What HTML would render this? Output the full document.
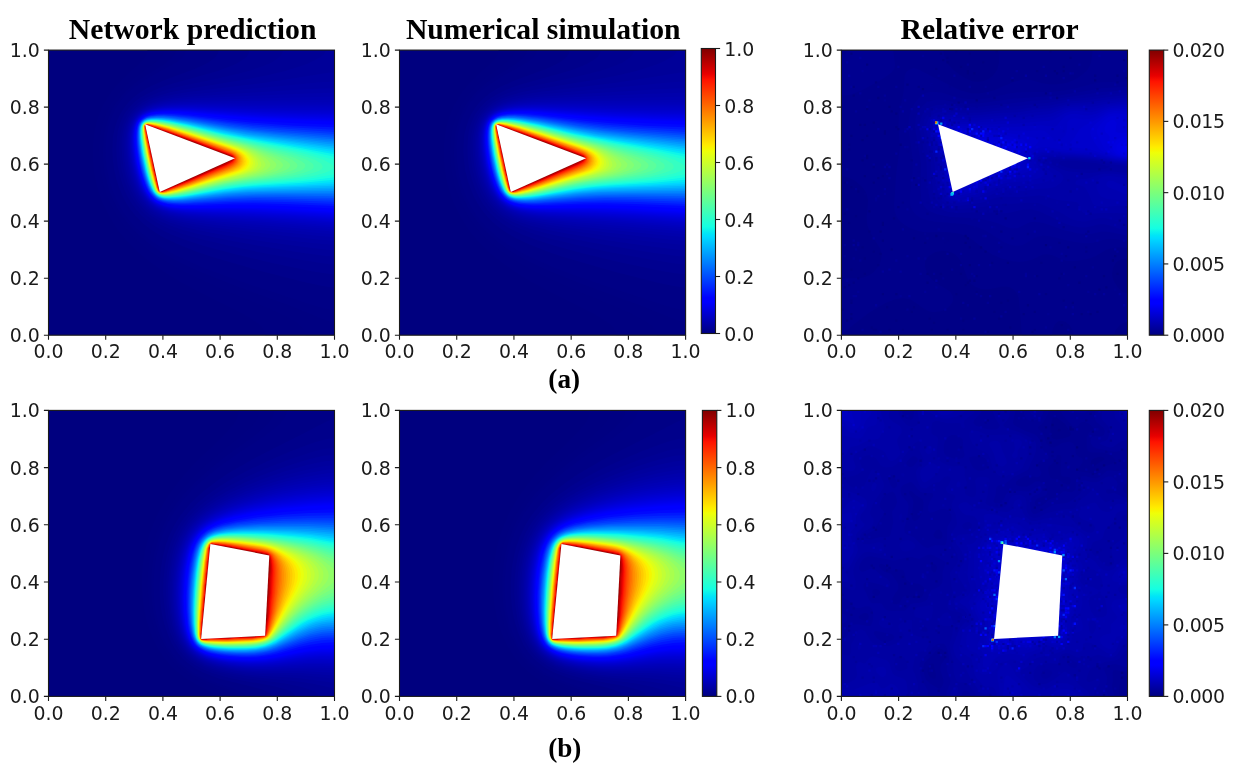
<!DOCTYPE html>
<html lang="en"><head><meta charset="utf-8"><title>Network prediction vs numerical simulation</title>
<style>html,body{margin:0;padding:0;background:#fff}body{width:1242px;height:773px;overflow:hidden}svg{display:block}.t{font-family:"DejaVu Sans","Liberation Sans",sans-serif;font-size:18.9px;fill:#1a1a1a}.c5{letter-spacing:-0.42px}.xt{text-anchor:middle}.yt{text-anchor:end}.ct{text-anchor:start}.ti{font-family:"Liberation Serif","Times New Roman",serif;font-weight:bold;font-size:29.7px;text-anchor:middle;fill:#000}.lb{font-family:"Liberation Serif","Times New Roman",serif;font-weight:bold;font-size:27.2px;text-anchor:middle;fill:#000}.tk{stroke:#1a1a1a;stroke-width:1.1;fill:none}.sp{stroke:#1a1a1a;stroke-width:1.1;fill:none}</style></head><body>
<svg width="1242" height="773" viewBox="0 0 1242 773">
<defs><linearGradient id="jet" x1="0" y1="1" x2="0" y2="0"><stop offset="0%" stop-color="#000080"/><stop offset="3.12%" stop-color="#0000a4"/><stop offset="6.25%" stop-color="#0000c8"/><stop offset="9.38%" stop-color="#0000ec"/><stop offset="11%" stop-color="#0000ff"/><stop offset="12.5%" stop-color="#0000ff"/><stop offset="15.62%" stop-color="#0020ff"/><stop offset="18.75%" stop-color="#0040ff"/><stop offset="21.88%" stop-color="#0060ff"/><stop offset="25%" stop-color="#0080ff"/><stop offset="28.12%" stop-color="#009fff"/><stop offset="31.25%" stop-color="#00bfff"/><stop offset="34%" stop-color="#00dbff"/><stop offset="34.38%" stop-color="#00dffc"/><stop offset="35%" stop-color="#00e5f7"/><stop offset="37.5%" stop-color="#15ffe2"/><stop offset="40.62%" stop-color="#2effc9"/><stop offset="43.75%" stop-color="#48ffaf"/><stop offset="46.88%" stop-color="#62ff95"/><stop offset="50%" stop-color="#7bff7b"/><stop offset="53.12%" stop-color="#95ff62"/><stop offset="56.25%" stop-color="#afff48"/><stop offset="59.38%" stop-color="#c9ff2e"/><stop offset="62.5%" stop-color="#e2ff15"/><stop offset="64%" stop-color="#efff08"/><stop offset="65%" stop-color="#f7f600"/><stop offset="65.62%" stop-color="#fcf000"/><stop offset="66%" stop-color="#ffec00"/><stop offset="68.75%" stop-color="#ffd200"/><stop offset="71.88%" stop-color="#ffb500"/><stop offset="75%" stop-color="#ff9700"/><stop offset="78.12%" stop-color="#ff7a00"/><stop offset="81.25%" stop-color="#ff5c00"/><stop offset="84.38%" stop-color="#ff3f00"/><stop offset="87.5%" stop-color="#ff2100"/><stop offset="89%" stop-color="#ff1300"/><stop offset="90.62%" stop-color="#ec0400"/><stop offset="91%" stop-color="#e80000"/><stop offset="93.75%" stop-color="#c80000"/><stop offset="96.88%" stop-color="#a40000"/><stop offset="100%" stop-color="#800000"/></linearGradient></defs>
<rect width="1242" height="773" fill="#fff"/>
<g class="ax" id="ax1">
<rect x="48.5" y="50.1" width="286" height="285.1" fill="#00007f"/>
<svg x="48.5" y="50.1" width="286" height="285.1" viewBox="0 0 1000 1000" preserveAspectRatio="none"><g id="fa"><path fill="#000081" d="M758 1000h242v-1000h-654v6l-3 9-5 8-6 8-16 17-39 35-21 20-21 23-17 22-14 21-14 25-11 25-9 25-8 33-5 33-3 38 1 37 3 38 8 42 9 33 13 37 12 25 13 25 15 25 17 25 20 25 20 23 25 24 25 21 30 23 29 20 33 22 33 20 71 38 136 68 43 25 23 16 13 13 8 12 3 9z"/><path fill="#000082" d="M899 1000h101v-1000h-597l-1 10-5 9-6 8-8 8-21 17-43 31-25 20-25 22-22 23-19 25-13 21-12 25-11 29-9 33-5 38-2 37 2 42 6 37 8 38 12 37 17 38 13 25 16 25 15 21 22 25 19 20 25 22 25 20 29 20 30 18 33 20 37 19 42 20 75 34 167 69 37 17 25 12 29 17 22 17 7 8 6 8 3 9z"/><path fill="#000084" d="M984 952l16 2v-954h-555l-2 10-5 9-6 8-9 8-23 17-56 35-25 16-29 23-21 19-18 20-18 25-12 20-12 30-10 33-4 17-3 25-2 41 2 42 3 25 4 21 10 37 7 21 9 21 16 33 16 25 18 25 22 25 22 21 25 21 29 22 33 21 38 21 33 17 38 17 79 33 75 29 177 65 114 46z"/><path fill="#000086" d="M981 910l19 2v-912h-521l-1 10-5 9-7 8-15 13-27 16-55 30-29 17-30 20-25 20-20 21-18 21-13 21-12 25-7 17-6 21-6 33-3 21-1 21 1 41 5 38 4 21 7 25 13 37 17 38 15 25 18 25 22 25 22 21 29 24 29 20 34 20 33 18 42 19 50 22 54 21 54 19 87 30 180 59 41 13z"/><path fill="#00008b" d="M978 831l22 2v-833h-405l-2 10-8 13-9 8-19 13-16 8-28 13-107 40-46 20-20 11-21 13-21 16-17 16-17 21-13 21-10 21-8 25-7 29-2 25-1 29 2 33 4 34 8 33 9 29 12 29 13 25 16 25 17 21 19 20 17 15 16 12 21 14 25 15 25 13 29 13 67 26 46 16 54 16 121 35 158 40 46 10z"/><path fill="#000090" d="M983 785l17 1v-786h-297l-2 10-8 13-15 12-22 13-29 12-36 13-156 44-29 9-29 11-29 14-25 14-13 9-12 11-17 17-15 21-9 17-8 20-7 25-3 25-2 30 1 29 3 33 6 29 8 29 10 30 14 29 13 21 15 20 16 18 21 19 16 12 21 14 21 11 25 12 54 21 63 20 108 29 125 30 138 29 41 7z"/><path fill="#000094" d="M955 748l26 3 19 1v-752h-181v6l-4 9-11 12-12 8-14 9-28 12-50 17-47 12-55 13-133 28-42 10-29 9-34 13-16 8-17 10-21 15-12 11-9 10-10 15-11 21-7 21-6 25-3 25-1 29 2 29 4 29 5 25 8 29 10 25 11 25 13 21 15 20 16 19 17 14 29 20 21 12 21 10 21 8 29 11 58 17 88 21 116 25 134 25z"/><path fill="#000099" d="M975 723l25 1v-724h-31l-1 6-6 9-10 8-20 12-27 13-23 8-55 17-71 17-64 12-223 37-42 8-37 11-34 12-16 8-13 7-12 9-10 8-8 8-11 13-10 17-9 20-5 17-5 25-2 25 1 25 2 29 4 29 6 25 7 25 12 30 10 20 13 21 13 17 17 17 16 14 17 11 17 10 37 16 42 15 58 15 96 20 121 22 146 24z"/><path fill="#00009e" d="M949 698l32 3 19 1v-624l-19 1-21 3-126 20-86 13-254 31-34 5-37 7-21 5-25 7-21 8-16 8-17 10-13 9-9 10-11 12-10 17-8 21-6 20-3 21-1 25 1 29 3 30 4 25 6 25 8 25 8 20 13 25 10 17 14 17 15 15 16 14 17 10 13 7 33 15 42 13 58 14 75 14 125 21 117 17z"/><path fill="#0000a2" d="M964 681l36 3v-574l-52 3-232 22-176 16-59 6-41 6-25 5-30 7-16 5-21 8-17 8-16 12-12 11-10 12-10 17-8 21-4 21-3 20-1 25 1 25 3 25 5 30 7 29 9 25 8 21 11 20 11 17 14 17 16 15 17 12 12 7 17 9 33 13 46 12 46 10 75 12 137 20 134 17z"/><path fill="#0000a7" d="M948 665l52 4v-536l-102 4-346 22-62 5-55 6-25 5-25 5-25 8-16 7-17 9-12 9-11 10-9 12-8 13-8 21-4 21-3 25v25l2 29 4 29 5 25 5 21 9 25 11 25 9 16 11 17 12 14 12 11 17 13 25 14 33 13 33 9 55 11 66 10 121 15 142 17z"/><path fill="#0000ac" d="M947 652l53 4v-507l-144 5-304 13-62 4-50 4-25 4-25 5-25 7-21 8-17 9-12 9-10 10-9 13-9 16-4 13-5 21-2 25v25l2 29 4 29 5 25 6 21 8 25 11 25 9 16 12 17 11 13 12 11 17 12 25 13 33 11 38 9 41 8 59 8 79 9z"/><path fill="#0000b0" d="M970 644l30 2v-483l-456 11-54 2-50 4-25 3-25 5-21 5-21 7-17 9-12 8-13 12-10 15-8 16-4 17-4 21-1 21v25l3 29 4 29 6 25 8 29 8 21 8 17 9 16 12 17 11 12 12 11 13 9 25 12 25 9 33 8 46 8 104 13z"/><path fill="#0000b5" d="M1000 637v-463l-465 6-58 2-37 3-25 2-25 4-21 5-21 7-17 8-12 9-11 11-9 13-6 12-6 17-4 21-1 25v25l2 25 4 25 7 33 6 21 9 25 7 17 11 20 13 17 11 12 13 10 12 9 25 11 29 10 38 7 37 6 75 8z"/><path fill="#0000b9" d="M1000 629v-446l-473 2-54 1-38 2-29 4-25 4-16 4-21 8-17 9-8 6-9 8-9 13-6 12-7 21-2 17-2 25 1 25 2 25 4 29 6 25 6 25 9 25 8 17 9 16 11 17 12 12 13 11 12 9 25 11 25 8 29 6 46 7 54 5 224 18z"/><path fill="#0000be" d="M1000 622v-431h-265l-216 -2-50 1-38 2-29 3-21 4-21 5-12 4-17 8-12 9-10 10-9 13-5 12-5 17-3 21-1 25 1 25 3 29 5 29 5 21 9 29 7 21 8 17 10 16 10 14 12 13 13 10 12 7 21 9 25 8 38 7 33 5 54 5 201 14z"/><path fill="#0000c3" d="M1000 616v-418l-252 -1-238 -4h-45l-38 2-21 2-25 4-16 4-21 7-13 6-12 9-12 13-7 12-5 13-4 16-2 21-1 25 1 21 3 29 4 25 8 33 8 25 8 21 9 17 7 12 10 13 10 11 13 10 12 8 17 7 25 8 33 7 38 5 54 4 223 15z"/><path fill="#0000c7" d="M1000 610v-405l-257 -3-237 -6h-41l-34 1-29 3-21 3-21 5-12 4-13 5-12 9-10 9-9 13-7 17-4 16-2 17-1 21 1 25 2 25 4 25 7 33 5 17 8 25 7 16 9 17 11 17 12 12 13 11 12 8 21 9 25 7 29 5 34 4 54 5 177 10z"/><path fill="#0000cc" d="M1000 605v-395h-94l-166 -3-238 -8h-42l-33 1-21 1-25 4-16 3-17 5-17 8-8 6-9 8-9 13-6 12-3 13-4 21-1 21 1 25 3 29 4 29 5 21 12 41 8 21 8 17 11 17 9 10 13 12 12 9 17 8 25 8 25 5 37 5 50 4 200 10z"/><path fill="#0000d1" d="M1000 601v-386h-94l-166 -4-246 -10h-38l-29 1-29 2-21 3-21 5-12 4-13 7-11 8-8 9-8 12-5 13-4 16-2 21v21l1 29 3 21 4 25 7 33 12 38 10 21 9 16 9 13 8 9 13 10 12 8 21 9 25 7 29 5 29 3 55 3 187 9 124 8z"/><path fill="#0000d5" d="M1000 596v-376l-109 -1-156 -4-241 -11-38 -1-33 1-21 1-25 4-17 3-16 6-13 6-9 7-9 9-8 12-5 13-4 16-1 17-1 25 1 25 4 29 5 29 5 21 7 25 6 17 7 16 9 17 8 13 11 12 12 10 12 8 21 8 17 5 25 5 37 4 50 3 200 8 119 7z"/><path fill="#0000da" d="M1000 592v-368l-102 -1-133 -4-109 -4-158 -9-38 -1h-33l-25 2-21 2-16 3-17 5-17 8-8 6-8 9-8 12-7 17-3 16-2 21v21l2 21 3 29 4 25 8 33 13 38 7 17 10 16 9 13 9 9 13 10 12 7 21 8 21 5 25 4 33 4 42 2 125 3 79 4 113 6z"/><path fill="#0000df" d="M1000 588v-360l-93 -1-140 -4-94 -4-175 -11-42 -1h-33l-25 2-21 2-21 5-12 4-13 6-8 6-8 9-8 11-6 17-2 12-3 21v21l1 21 4 29 4 25 7 33 13 38 9 21 7 12 8 13 11 12 9 7 12 8 17 7 21 6 25 5 33 3 50 3 129 3 79 3 99 5z"/><path fill="#0000e3" d="M1000 585v-353l-85 -1-146 -5-100 -5-175 -11-38 -2-33 1-21 1-25 2-21 5-12 4-9 4-12 9-8 8-7 10-5 13-4 16-2 21v21l2 25 2 21 4 25 8 33 7 25 6 17 7 16 9 17 9 13 9 10 9 8 12 7 21 9 17 5 25 4 33 3 42 2 129 3 83 2 88 5z"/><path fill="#0000e8" d="M1000 581v-345l-102 -2-142 -5-105 -6-153 -11-42 -2h-33l-25 1-21 3-17 3-16 5-13 6-9 7-7 9-8 12-4 13-3 16-2 21 1 25 1 21 4 29 5 25 7 29 13 38 9 21 8 12 9 13 10 9 8 6 12 7 21 8 17 4 25 4 25 2 46 2 129 2 83 3 134 7z"/><path fill="#0000ec" d="M1000 578v-339l-123 -3-129 -5-83 -5-171 -13-42 -2h-33l-25 2-21 2-13 3-16 5-13 6-8 7-8 8-7 12-4 13-4 21-1 20v21l2 21 4 29 7 34 5 20 13 38 7 17 10 16 9 12 9 9 8 6 12 7 17 7 17 4 25 4 29 3 42 1 129 1 87 3 121 6z"/><path fill="#0000f1" d="M1000 575v-332l-117 -3-127 -6-108 -6-150 -13-42 -2h-37l-21 1-25 2-17 4-12 4-13 6-8 7-7 7-7 12-5 13-3 16-1 21v21l5 46 4 25 8 33 12 38 9 21 7 12 9 13 11 11 8 6 12 7 17 7 21 5 25 3 29 3 46 1h133l71 2 101 5z"/><path fill="#0000f6" d="M1000 572v-326l-115 -4-141 -6-79 -5-171 -15-42 -2h-33l-42 3-21 4-12 4-9 4-12 9-6 6-8 12-4 13-2 12-2 21v21l4 46 4 25 8 33 13 42 7 16 9 17 9 13 10 10 12 9 8 4 17 7 21 5 25 3 25 2 42 1h125l75 1 91 4z"/><path fill="#0000fa" d="M1000 569v-320l-115 -4-129 -6-108 -7-158 -14-38 -3h-33l-21 1-21 2-17 2-16 6-13 6-8 6-8 10-5 8-5 17-2 12-2 21 1 21 2 25 4 29 5 25 7 29 12 38 6 12 9 17 9 13 9 8 8 7 12 7 21 8 17 4 21 3 29 2 50 1 133 -1 75 1 117 5z"/><path fill="#0000ff" d="M1000 567v-316l-115 -3-145 -7-80 -6-162 -15-42 -3-37 -1-38 2-16 2-17 5-13 5-8 6-8 8-8 12-5 13-3 16-1 21 1 25 2 21 4 29 4 25 8 29 12 38 8 17 10 16 6 9 8 8 8 6 12 7 13 6 21 5 25 3 29 2 46 1 129 -1 71 1 96 3z"/><path fill="#0000ff" d="M1000 564v-310l-119 -4-133 -6-104 -8-154 -16-42 -2-29 -1-21 1-21 1-12 2-17 4-8 4-13 7-8 9-8 11-4 13-3 16-1 21v21l2 21 4 29 4 25 7 29 5 17 9 25 8 17 7 12 7 11 9 9 8 6 12 8 17 6 17 4 25 3 25 2 41 1 125 -2 75 1 96 3z"/><path fill="#0000ff" d="M1000 561v-304l-131 -5-134 -7-79 -6-171 -18-33 -2-33 -1-42 2-12 2-17 4-8 3-13 8-8 8-7 11-4 13-3 16-2 21 1 21 5 46 4 25 8 33 12 38 9 21 7 12 10 13 10 9 8 6 13 7 16 5 17 4 25 3 21 1h50l129 -2 71 1 103 3z"/><path fill="#0008ff" d="M1000 556v-294l-149 -6-120 -7-87 -8-154 -17-38 -3-33 -1h-21l-21 2-17 2-16 5-9 4-9 7-8 8-5 8-4 13-3 16-1 17v21l3 29 3 25 11 50 11 38 9 20 7 13 8 12 8 9 8 7 12 7 13 5 17 4 25 4 25 1 45 1 121 -4h71l96 2z"/><path fill="#0018ff" d="M467 544l48 -1 129 -5 75 -1 104 3 177 7v-276l-140 -6-129 -9-85 -8-152 -19-54 -5-34 -1-29 1-21 4-16 5-9 5-8 7-6 7-4 8-5 21-1 25 2 38 8 50 12 50 12 33 10 21 9 12 9 10 12 8 13 6 21 5 20 3z"/><path fill="#0028ff" d="M460 540h30l145 -7 84 -2 108 2 173 7v-261l-173 -9-112 -9-81 -9-140 -19-63 -6-29 -1-25 1-21 3-16 5-13 8-5 5-5 8-4 9-2 8-2 25 1 33 6 46 8 42 10 33 7 21 10 21 11 16 11 11 12 7 13 5 21 5z"/><path fill="#0038ff" d="M421 535l27 2h33l154 -9 84 -2 108 1 173 5v-245l-157 -10-124 -10-91 -11-134 -20-63 -6-29 -2-25 1-25 3-12 5-13 8-9 11-2 4-3 13-2 17v29l3 33 7 42 8 37 8 25 10 25 8 17 10 12 8 8 12 8 17 6z"/><path fill="#0048ff" d="M407 531l28 4h42l158 -12 88 -3 104 1 173 4v-231l-180 -13-105 -9-63 -8-150 -23-67 -9-29 -2h-25l-21 2-16 5-13 6-9 9-6 13-3 16-1 25 1 25 5 34 7 41 9 34 8 25 8 20 7 13 10 12 10 9 13 7z"/><path fill="#0058ff" d="M420 531l24 2 33 -1 154 -13 79 -3 100 -1 190 4v-219l-181 -13-104 -10-88 -12-142 -24-58 -7-25 -2h-25l-17 2-16 4-13 7-4 3-6 8-5 13-3 21 1 25 3 37 7 42 9 37 9 29 8 21 9 17 6 8 12 12 13 7 12 3z"/><path fill="#0068ff" d="M404 527l11 2 16 1h38l46 -4 116 -11 84 -4 100 -1 185 3v-206l-181 -15-109 -11-62 -9-154 -27-63 -8-29 -3h-25l-21 2-12 3-13 7-6 6-5 8-3 9-1 8-1 21 1 29 4 33 6 34 8 33 7 25 9 25 8 17 8 12 11 10 13 7z"/><path fill="#0078ff" d="M413 527l27 2 33 -2 154 -15 79 -5 96 -1h198v-193l-31 -2-159 -15-104 -12-76 -11-149 -27-54 -8-25 -2h-25l-21 1-12 3-13 7-8 9-5 13-2 16v30l4 33 5 33 8 38 8 29 8 25 8 17 8 12 8 9 12 9 13 4z"/><path fill="#0087ff" d="M398 523l12 2 13 1h42l41 -4 121 -14 42 -3 41 -2 88 -2 202 -1v-181l-27 -2-183 -19-92 -11-65 -10-139 -27-63 -9-29 -3-25 -1-17 1-16 3-9 4-4 3-7 8-4 9-3 16v21l1 21 4 29 6 38 6 29 8 29 9 25 7 17 8 12 11 11 8 5z"/><path fill="#0097ff" d="M404 523l11 1 16 1 34 -1 37 -4 121 -15 79 -6 83 -2 215 -3v-169l-23 -2-192 -21-91 -12-79 -13-134 -27-54 -8-29 -3-21 -1-17 1-16 4-9 3-4 4-6 6-5 13-2 16v21l3 29 4 34 8 37 6 25 7 25 8 21 8 17 7 10 8 8 13 7z"/><path fill="#00a7ff" d="M414 523l26 1 33 -3 146 -19 75 -6 79 -3 227 -5v-157l-23 -2-193 -23-93 -12-71 -13-135 -28-62 -10-25 -3h-21l-21 1-12 3-9 4-4 3-5 5-5 13-2 16 1 30 4 37 6 33 8 38 8 29 7 21 8 17 8 12 8 9 8 5 13 4z"/><path fill="#00b7ff" d="M396 519l10 2 17 1 37 -1 38 -5 125 -17 75 -7 67 -3 235 -7v-145l-19 -1-196 -26-91 -12-68 -13-149 -31-50 -9-29 -3-21 -1-21 1-12 2-9 4-8 8-4 9-3 12v17l1 25 3 29 5 29 13 58 8 25 10 25 7 13 10 11 8 6z"/><path fill="#00c7ff" d="M401 519l9 1 17 1 38 -2 41 -6 109 -16 75 -8 65 -4 245 -9v-132l-19 -2-212 -30-84 -12-73 -15-127 -27-62 -12-29 -3-21 -1-17 1-12 2-9 4-8 9-4 11-2 12v25l2 25 5 34 6 29 7 33 6 21 7 21 9 21 8 12 6 6 13 8z"/><path fill="#00d7ff" d="M408 519h23l38 -3 145 -22 67 -8 59 -4 145 -6 115 -6v-120l-15 -1-225 -34-78 -13-64 -12-137 -31-54 -11-25 -3-25 -2h-17l-16 3-11 6-7 8-4 13-1 17 2 25 4 33 6 37 8 38 14 46 7 16 7 13 8 9 8 6 9 3z"/><path fill="#01e7f5" d="M392 515l10 2 13 1 33 -1 42 -5 125 -21 54 -7 54 -4 162 -9 115 -8v-106l-15 -1-92 -16-141 -23-75 -13-71 -14-121 -29-58 -11-25 -4-21 -2h-21l-12 2-8 3-9 5-6 11-2 8-1 17 1 20 7 50 12 63 8 29 9 25 8 17 6 8 8 7z"/><path fill="#0ef7e9" d="M395 515l11 2h17l37 -3 42 -6 108 -19 67 -9 50 -4 163 -11 110 -10v-90l-15 -2-99 -19-138 -24-76 -14-59 -12-128 -31-50 -10-33 -6-21 -2h-21l-12 2-8 2-9 6-5 10-2 8-1 17 1 20 8 59 14 62 8 29 8 21 6 13 9 11 8 6z"/><path fill="#1bffdc" d="M410 516h13l37 -3 38 -6 112 -21 59 -8 50 -5 166 -13 42 -4 73 -10v-72l-10 -2-90 -20-165 -30-77 -16-56 -12-112 -28-55 -12-29 -5-25 -3h-21l-12 1-8 3-9 6-5 9-2 8v17l1 20 4 34 5 29 13 58 8 29 8 21 6 13 8 10 8 6 9 3z"/><path fill="#28ffcf" d="M406 515h25l38 -5 129 -24 54 -9 50 -6 128 -11 55 -5 49 -7 60 -12h6v-51l-6 -1-37 -11-48 -13-58 -12-206 -42-143 -35-54 -13-38 -7-25 -3-20 -1-17 1-8 3-5 2-6 7-3 9-2 12 1 25 4 29 5 34 8 37 8 34 7 25 7 16 6 13 7 9 8 6 9 4z"/><path fill="#35ffc2" d="M390 510l8 3 12 1h17l21 -2 42 -7 104 -21 54 -9 50 -6 133 -14 67 -9 36 -6 31 -9 19 -8 11 -8 2 -5-2 -4-9 -8-7 -4-17 -9-35 -12-46 -13-246 -54-141 -35-54 -13-30 -6-25 -3-20 -2-17 2-8 2-7 5-6 9-1 8-1 12 1 21 6 46 6 33 8 38 8 29 7 21 5 12 8 13 7 8z"/><path fill="#42ffb5" d="M392 510l10 3h13l16 -1 21 -2 38 -7 104 -22 46 -8 50 -7 127 -14 56 -8 40 -9 25 -8 9 -4 6 -4 4 -4 2 -5-1 -4-2 -4-3 -4-6 -4-15 -9-33 -12-44 -13-231 -54-134 -35-50 -12-30 -5-25 -4-20 -2-17 1-8 3-7 4-5 9-2 8v12l1 21 7 50 12 63 8 29 8 25 5 12 7 13 7 7 4 3z"/><path fill="#4effa8" d="M395 510l11 2h13l33 -4 42 -7 91 -20 50 -10 42 -6 129 -17 52 -8 34 -9 21 -8 7 -4 5 -4 2 -5v-4l-1 -4-3 -4-5 -4-14 -9-31 -12-43 -13-113 -29-102 -25-117 -31-50 -12-38 -8-25 -4-20 -2-17 1-8 3-6 3-6 9-1 8-1 17 2 20 9 59 13 62 9 29 7 21 6 13 7 8 6 5z"/><path fill="#5bff9c" d="M398 510l21 1 33 -4 38 -7 100 -23 41 -8 38 -6 108 -15 54 -10 28 -7 23 -8 7 -4 5 -4 3 -5 1 -4v-4l-3 -4-10 -8-26 -13-37 -12-102 -30-113 -29-117 -32-50 -12-34 -7-25 -4-21 -1-12 1-8 2-5 3-6 9-2 8v17l2 20 9 63 13 58 8 29 8 21 6 13 7 8 10 6z"/><path fill="#68ff8f" d="M406 510h21l33 -6 163 -36 37 -7 96 -14 57 -12 29 -8 18 -8 6 -4 3 -5 2 -4-1 -4-2 -4-9 -8-7 -5-17 -8-35 -12-92 -30-109 -29-109 -30-55 -14-33 -7-21 -3-21 -2-12 1-8 3-5 2-3 4-4 9v12l1 25 3 25 6 38 8 37 13 50 7 21 5 13 6 8 8 7 9 4z"/><path fill="#75ff82" d="M388 506l10 3 12 1 17 -1 21 -4 46 -9 125 -30 106 -18 43 -8 33 -9 24 -8 14 -8 4 -5 2 -4v-4l-2 -4-9 -8-23 -13-64 -25-53 -18-200 -55-63 -16-33 -7-21 -4-21 -1-12 2-8 3-4 4-2 5-2 8v12l2 21 8 54 13 63 13 46 6 16 5 9 6 8z"/><path fill="#82ff75" d="M390 506l12 3h13l37 -6 38 -8 125 -30 130 -25 31 -9 23 -8 14 -8 4 -5 3 -4v-4l-2 -4-7 -8-21 -13-56 -25-46 -17-198 -56-63 -16-25 -6-25 -4-21 -1-12 1-4 2-7 5-3 5-1 8v12l1 21 9 54 14 67 13 46 5 12 4 9 6 7z"/><path fill="#8fff68" d="M392 506l10 2h13l37 -6 42 -9 116 -30 116 -23 29 -9 21 -8 14 -8 4 -5 2 -4 1 -4-1 -4-7 -8-11 -9-14 -8-40 -21-21 -8-24 -9-181 -52-71 -19-29 -6-25 -4-17 -2-12 2-4 1-7 5-3 9-1 8 1 17 2 21 9 54 14 62 13 46 6 13 5 8 6 5z"/><path fill="#9cff5b" d="M394 506l8 1h13l16 -2 25 -5 38 -9 112 -29 85 -18 33 -9 24 -8 16 -8 9 -9 2 -4 1 -4-1 -4-2 -4-7 -9-10 -8-19 -12-15 -9-17 -8-32 -12-179 -53-63 -17-33 -7-21 -4-21 -2-12 1-4 2-6 4-4 9v8l2 33 10 59 13 62 8 29 7 21 4 9 6 8 5 5z"/><path fill="#a8ff4e" d="M397 506l9 1 13 -1 37 -7 42 -10 104 -28 79 -18 28 -8 23 -8 15 -8 9 -9 2 -4 1 -4-1 -4-4 -8-7 -9-9 -8-11 -8-22 -13-32 -13-171 -52-75 -21-33 -7-21 -4-17 -1-12 1-9 4-3 6-2 8v12l3 25 5 34 11 58 14 54 10 29 4 9 4 5 9 5z"/><path fill="#b5ff42" d="M386 502l8 3 12 1 17 -2 25 -4 46 -12 108 -30 93 -23 23 -8 9 -4 11 -8 6 -9v-4l-1 -8-7 -13-8 -8-10 -8-20 -13-19 -8-14 -6-167 -51-71 -19-33 -8-21 -4-17 -2-12 1-4 2-5 3-3 5-1 8v12l2 21 6 38 15 75 12 46 9 25 6 8z"/><path fill="#c2ff35" d="M387 502l7 3h12l17 -1 25 -5 46 -12 108 -31 81 -21 23 -8 8 -4 9 -6 6 -7 2 -4 2 -4-1 -8-3 -9-6 -8-13 -12-19 -13-29 -12-168 -52-71 -20-29 -7-21 -4-17 -2-12 1-4 1-5 3-3 5-1 8 1 12 2 21 6 42 15 71 12 46 9 25 6 8z"/><path fill="#cfff28" d="M388 502l10 3 12 -1 17 -2 25 -6 46 -12 96 -28 66 -17 25 -8 19 -8 11 -8 4 -5 4 -8v-4l-1 -8-4 -9-6 -8-14 -13-22 -12-24 -10-162 -50-71 -20-34 -8-20 -4-17 -1-8 2-4 3-3 5-1 4v12l3 29 10 59 12 58 13 46 5 12 4 9 3 4z"/><path fill="#dcff1b" d="M389 502l9 2h12l17 -3 25 -6 222 -64 20 -8 8 -5 8 -8 2 -4 3 -8v-4l-2 -9-8 -12-13 -13-22 -12-26 -10-159 -50-70 -21-30 -7-20 -3-17 -1-8 2-4 2-3 5-1 4v12l3 29 10 59 13 58 13 46 4 12 5 9 5 6z"/><path fill="#e9ff0e" d="M391 502l7 2 12 -1 17 -3 27 -6 215 -64 21 -10 7 -5 4 -5 3 -4 3 -8v-4l-1 -9-7 -12-13 -13-17 -10-25 -10-150 -48-75 -22-34 -9-20 -4-17 -1-8 2-7 7v4v12l3 29 10 59 13 58 14 50 7 17 5 5z"/><path fill="#f5f701" d="M392 502l10 1 13 -1 41 -10 192 -58 19 -7 17 -8 6 -4 7 -9 2 -4 2 -8-1 -9-2 -4-8 -12-13 -11-18 -10-21 -8-148 -48-71 -21-34 -9-20 -4-17 -1-8 1-6 7-1 4 1 16 3 25 5 34 12 58 9 38 12 41 6 13 4 5z"/><path fill="#ffe800" d="M402 503l13 -2 41 -10 204 -65 17 -8 8 -6 5 -6 3 -4 2 -8v-4l-2 -9-5 -8-3 -4-9 -9-16 -9-25 -10-150 -49-70 -22-30 -7-20 -4-17 -2-8 2-6 6-1 4 2 21 2 20 10 55 12 58 11 42 7 20 4 9 4 4 5 3z"/><path fill="#ffda00" d="M386 498l4 3 4 1h8l17 -3 23 -5 52 -16 158 -52 13 -5 8 -5 7 -6 4 -4 3 -4 2 -8 1 -4-2 -9-4 -8-3 -4-9 -9-16 -9-25 -10-137 -45-79 -25-34 -8-21 -4-12 -1-8 1-5 6-1 4v12l3 25 11 59 12 58 11 42 7 20 4 9z"/><path fill="#ffcb00" d="M390 500l4 1h12l38 -9 54 -17 150 -50 12 -5 9 -5 9 -9 3 -4 3 -8 1 -4-2 -9-4 -8-3 -4-9 -9-15 -9-21 -8-141 -47-75 -24-34 -9-21 -4-12 -1-8 2-5 5-1 4 1 12 3 25 10 59 13 58 9 37 8 25 4 9z"/><path fill="#ffbc00" d="M390 500l4 1 12 -1 38 -9 50 -16 152 -52 19 -10 8 -7 3 -4 2 -4 2 -8-1 -9-1 -4-6 -8-4 -4-11 -9-13 -6-21 -8-138 -46-70 -23-30 -8-25 -5-12 -2-8 2-5 5-1 4 2 16 2 21 11 59 12 58 10 37 8 25 4 9z"/><path fill="#ffad00" d="M388 498l6 2h12l42 -11 48 -16 148 -52 16 -9 8 -6 3 -4 3 -4 2 -8-1 -9-1 -4-5 -8-4 -4-9 -7-12 -7-25 -9-134 -45-70 -23-34 -9-25 -5-8 -1-8 1-4 5-1 4 1 16 3 21 11 59 12 58 10 37 7 25 4 9z"/><path fill="#ff9e00" d="M388 498l6 2h4l8 -1 42 -11 50 -17 142 -51 16 -9 11 -9 2 -4 3 -8v-9l-1 -4-6 -9-13 -10-12 -6-25 -10-125 -42-75 -25-34 -9-24 -6-9 -1-8 2-4 4-1 4 1 16 3 21 11 59 13 58 15 58 6 13z"/><path fill="#ff9000" d="M389 498l9 2 8 -1 46 -14 48 -16 136 -50 16 -9 10 -8 3 -4 4 -8v-5l-1 -8-5 -8-10 -9-13 -7-21 -8-134 -46-70 -23-34 -10-25 -5-8 -2-8 2-4 4-1 4 2 16 3 21 11 59 13 58 15 58 5 13z"/><path fill="#ff8100" d="M389 498l9 1 9 -1 45 -14 46 -16 137 -52 17 -9 10 -9 2 -4 2 -9-1 -8-5 -8-10 -9-10 -5-25 -10-130 -44-70 -24-34 -10-25 -6-8 -1-8 1-4 4v4l1 16 15 80 12 58 15 58 6 13z"/><path fill="#ff7200" d="M391 498l7 1 8 -2 46 -14 46 -16 136 -52 15 -9 9 -8 4 -8 1 -9-1 -4-5 -8-9 -8-13 -6-25 -9-125 -44-70 -24-34 -10-25 -6-8 -2-8 1-4 4v4l5 37 11 59 13 58 15 58 5 13z"/><path fill="#ff6300" d="M398 498l8 -1 48 -16 140 -53 41 -17 15 -9 8 -8 2 -4 1 -9-3 -8-8 -8-15 -8-120 -44-67 -23-67 -21-33 -8-8 1-3 3-1 4 6 37 23 117 15 58 6 13 4 3z"/><path fill="#ff5500" d="M396 498l10 -2 9 -2 41 -15 134 -51 41 -17 15 -9 9 -8 3 -9v-8l-6 -8-8 -7-9 -4-29 -11-121 -43-70 -24-34 -11-25 -6-8 -2-8 1-3 3-1 4 6 37 12 59 21 95 6 21 5 13 4 3z"/><path fill="#ff4600" d="M386 494l4 3 8 1 17 -5 75 -27 133 -54 17 -8 8 -6 6 -8 2 -9v-4l-2 -4-4 -4-6 -5-13 -6-25 -10-121 -43-70 -24-34 -11-25 -7-8 -2-8 1-3 3v4l6 37 5 25 6 34 22 95 5 21z"/><path fill="#ff3700" d="M386 494l4 3h8l17 -5 75 -28 129 -52 16 -8 13 -9 4 -5 2 -5 1 -4-1 -4-2 -4-4 -4-4 -4-9 -4-29 -11-125 -45-100 -34-33 -9h-8l-3 3v4l5 25 1 12 6 25 6 34 21 95 5 21z"/><path fill="#ff2800" d="M387 494l3 2 8 1 17 -5 75 -29 133 -55 17 -9 8 -7 4 -7 1 -4-1 -4-4 -7-8 -5-38 -15-121 -44-100 -35-33 -9h-8l-2 3-1 4 18 96 7 25 6 33 7 25 7 33z"/><path fill="#ff1a00" d="M387 494l3 2 8 1 9 -3 83 -32 129 -55 16 -8 9 -5 6 -9 1 -4v-4l-3 -5-8 -6-38 -15-121 -44-100 -35-33 -10-8 1-2 2v4l5 25 1 12 6 25 6 34 6 25 7 33 6 25 7 33z"/><path fill="#f50b00" d="M387 494l3 2h8l8 -3 84 -33 133 -56 12 -7 9 -6 5 -6 1 -4v-4l-3 -4-3 -3-9 -5-120 -45-134 -47-21 -6-12 -5-8 1-2 2v4l2 8 1 8 3 9 1 12 6 25 6 34 6 25 6 33 7 25 2 12 3 9 2 12 2 6z"/><path fill="#e30000" d="M388 494l2 1 8 1 8 -3 84 -34 129 -56 16 -8 9 -6 3 -4 2 -4v-4l-5 -6-9 -4-120 -46-100 -36-21 -6-13 -6-21 -5-12 -5h-8l-2 2v4l2 4 1 12 3 9 1 12 2 4 2 13 3 8 1 13 3 8 1 13 7 25 1 12 3 8 2 13 7 25 1 12 3 9 2 12 2 5z"/><path fill="#d10000" d="M388 494l2 1 8 1 8 -4 29 -12 9 -3 46 -19 133 -58 12 -7 9 -5 4 -7v-4l-4 -5-9 -4-87 -32-33 -14-55 -19-12 -5-21 -7-12 -5-21 -6-13 -6-21 -6-12 -5h-8l-2 2v4l2 4 2 12 3 9 1 12 3 9 1 8 2 8 2 13 3 8 1 13 2 4 2 12 3 9 1 12 3 8 1 13 3 8 1 9 3 8 2 12 3 9 1 12 3 4z"/><path fill="#bf0000" d="M388 494l2 1h8l4 -2 4 -1 29 -13 9 -3 29 -13 17 -6 29 -14 16 -6 84 -37 16 -9 9 -5 3 -5v-4l-3 -4-9 -4-54 -20-12 -5-21 -7-33 -14-21 -6-13 -6-21 -7-12 -5-21 -7-12 -5-21 -7-13 -5-21 -6-4 -2-4 -1-4 -3-8 1-1 1v4l2 4 1 12 2 5 1 4 1 12 2 4 2 13 3 8 1 13 3 8 1 13 3 8 1 8 3 9 2 12 3 8 1 13 3 8 1 9 3 8 1 12 4 9 1 12 3 4z"/><path fill="#ad0000" d="M389 494l1 1h8l4 -3 4 -1 4 -2 5 -2 20 -10 9 -2 29 -13 8 -3 38 -17 8 -3 38 -18 8 -2 37 -18 9 -3 25 -13 2 -4v-4l-2 -3-9 -4-20 -7-13 -6-21 -6-12 -6-21 -7-33 -14-21 -6-13 -6-21 -6-12 -6-21 -7-12 -6-21 -6-13 -6-8 -1-4 -3-9 -1-4 -3h-4l-4 -3h-8l-1 5 3 4 1 12 2 5 2 16 2 4 2 13 2 4 1 4 1 13 2 4 1 4 1 13 2 4 2 12 2 4 1 5 1 12 3 4 1 4v13l3 4 1 13 3 4 2 16 3 5 1 16 3 4z"/><path fill="#9b0000" d="M389 494h9l4 -3h4l4 -4h5l4 -3 4 -1 4 -3 4 -1 4 -3 9 -1 4 -3 4 -1 4 -3 4 -1 13 -7 8 -2 38 -18 8 -2 38 -19 8 -2 37 -18 9 -2 25 -14 1 -2v-4l-1 -2-4 -1-5 -3-4 -1-8 -3-8 -2-13 -7h-4l-8 -4-9 -2-12 -6-4 -1-9 -3-8 -2-13 -7-8 -1-12 -7-9 -1-4 -3-8 -2-13 -6-8 -2-4 -2-9 -2-12 -7-8 -1-5 -3-8 -1-4 -3-4 -1-4 -3-9 -1-4 -3-8 -1-4 -3-5 -1-4 -3-8 -1-4 -3-9 -1-4 -3-4 -1-4 -3h-8l-1 5 3 4 1 12 3 5 1 16 3 4 1 13 3 4 1 17 3 4 1 17 3 4 1 12 3 4 2 17 3 4v4l1 13 3 4 1 13 3 4 1 16 3 5 2 16 3 4z"/><path fill="#890000" d="M389 494h9l4 -4h4l4 -4h5l4 -4h4l4 -4h4l4 -4h9l4 -4h4l4 -4h4l5 -4h4l4 -4 8 -1 4 -3 5 -1 4 -3 4 -1 4 -3 4 -1 4 -3 5 -1 4 -3 8 -1 4 -4h4l5 -4 4 -1 4 -3 4 -1 4 -3 4 -1 5 -3 8 -1 4 -3 4 -1 4 -3 5 -1 4 -3 4 -1 4 -3 4 -1 4 -3 9 -2 4 -3 4 -1 4 -3 4 -1 5 -4 4 -1 1 -1v-4l-1 -1h-4l-5 -4-8 -1-4 -3-8 -1-5 -4h-4l-4 -4-8 -1-4 -3-9 -1-4 -3-4 -1-4 -3-9 -1-4 -3-8 -1-4 -4h-4l-5 -4h-8l-4 -4h-4l-4 -4-9 -1-4 -3-8 -1-4 -3-5 -1-4 -3-8 -1-4 -3-9 -1-4 -4h-4l-4 -4h-8l-5 -4-8 -1-4 -3-4 -1-4 -3-9 -1-4 -3-8 -1-3 -3-6 -1-4 -4h-8l-4 -4h-9l-3 -3-5 -1-4 -4h-8v5l3 4v12l4 5v16l4 4 1 13 3 4 1 17 3 4 1 17 3 4 1 12 4 4v17l4 4v17l4 4 1 13 3 4 1 16 3 5 1 16 4 4z"/><polygon points="337.7,260.2 652.0,379.0 389.0,498.0" fill="#fff"/></g></svg>
<path class="tk" d="M48.5 335.2v4.6M48.5 335.2h-4.6"/>
<text class="t xt" x="48.5" y="358.4">0.0</text>
<text class="t yt" x="39.9" y="342.1">0.0</text>
<path class="tk" d="M105.7 335.2v4.6M48.5 278.18h-4.6"/>
<text class="t xt" x="105.7" y="358.4">0.2</text>
<text class="t yt" x="39.9" y="285.08">0.2</text>
<path class="tk" d="M162.9 335.2v4.6M48.5 221.16h-4.6"/>
<text class="t xt" x="162.9" y="358.4">0.4</text>
<text class="t yt" x="39.9" y="228.06">0.4</text>
<path class="tk" d="M220.1 335.2v4.6M48.5 164.14h-4.6"/>
<text class="t xt" x="220.1" y="358.4">0.6</text>
<text class="t yt" x="39.9" y="171.04">0.6</text>
<path class="tk" d="M277.3 335.2v4.6M48.5 107.12h-4.6"/>
<text class="t xt" x="277.3" y="358.4">0.8</text>
<text class="t yt" x="39.9" y="114.02">0.8</text>
<path class="tk" d="M334.5 335.2v4.6M48.5 50.1h-4.6"/>
<text class="t xt" x="334.5" y="358.4">1.0</text>
<text class="t yt" x="39.9" y="57">1.0</text>
<rect class="sp" x="48.5" y="50.1" width="286" height="285.1"/>
</g>
<g class="ax" id="ax2">
<rect x="399.5" y="50.1" width="286.1" height="285.1" fill="#00007f"/>
<svg x="399.5" y="50.1" width="286.1" height="285.1" viewBox="0 0 1000 1000" preserveAspectRatio="none"><use href="#fa"/></svg>
<path class="tk" d="M399.5 335.2v4.6M399.5 335.2h-4.6"/>
<text class="t xt" x="399.5" y="358.4">0.0</text>
<text class="t yt" x="390.9" y="342.1">0.0</text>
<path class="tk" d="M456.72 335.2v4.6M399.5 278.18h-4.6"/>
<text class="t xt" x="456.72" y="358.4">0.2</text>
<text class="t yt" x="390.9" y="285.08">0.2</text>
<path class="tk" d="M513.94 335.2v4.6M399.5 221.16h-4.6"/>
<text class="t xt" x="513.94" y="358.4">0.4</text>
<text class="t yt" x="390.9" y="228.06">0.4</text>
<path class="tk" d="M571.16 335.2v4.6M399.5 164.14h-4.6"/>
<text class="t xt" x="571.16" y="358.4">0.6</text>
<text class="t yt" x="390.9" y="171.04">0.6</text>
<path class="tk" d="M628.38 335.2v4.6M399.5 107.12h-4.6"/>
<text class="t xt" x="628.38" y="358.4">0.8</text>
<text class="t yt" x="390.9" y="114.02">0.8</text>
<path class="tk" d="M685.6 335.2v4.6M399.5 50.1h-4.6"/>
<text class="t xt" x="685.6" y="358.4">1.0</text>
<text class="t yt" x="390.9" y="57">1.0</text>
<rect class="sp" x="399.5" y="50.1" width="286.1" height="285.1"/>
</g>
<g class="ax" id="ax3">
<rect x="841.4" y="50.1" width="286.1" height="285.1" fill="#00007f"/>
<svg x="841.4" y="50.1" width="286.1" height="285.1" viewBox="0 0 1000 1000" preserveAspectRatio="none"><rect width="1000" height="1000" fill="#000086"/><path fill="#00008b" d="M0 1000h4v-3l35 -31 58 -45 56 -33 38 -15 25 -3 25 5 18 11 32 23 12 6 13 4h12l19 -3 12 -4 14 -9 7 -6 8 -13 3 -12-3 -13-9 -12-8 -6-41 -25-15 -13-15 -19-8 -25 1 -18 7 -13 6 -6 22 -13 25 -5 19 2 12 4 13 7 12 11 13 22 17 47 6 12 8 11 13 9 18 8 19 3 19 -2 37 -8h19l13 3 12 8 10 12 7 19 11 128h105l3 -22 8 -16 12 -11 13 -1 12 4 14 12 11 18 3 16h142l3 -16 15 -18 12 -8 16 -3v-102l-16 -4-18 -17-14 -23-4 -12-2 -13 3 -18 10 -19 7 -6 12 -7 22 -4v-730h-446l-4 47-5 19-7 12-10 13-18 12-17 6-15 2-19 -2-25 -10-18 -11-21 -16-17 -17-10 -14-8 -19-4 -22h-356v442l22 4 25 12 24 20 13 19 5 12 4 19-5 63 3 25 10 25 34 56 4 12 1 13-3 19-9 18-15 19-16 12-13 5-18 4-66 1z"/><path fill="#000090" d="M598 741l24 2 25 -2 19 -6 37 -17 13 -2 18 3 50 20 19 2 25 -2 44 -9 19 -9 31 -18 19 -7 25 -4 34 1v-693h-122l-5 41-7 18-9 13-13 12-17 13-24 12-19 6-31 5h-25l-26 -4-43 -12-25 -1-31 8-70 30-24 6-25 4h-31l-38 -10-149 -75-13 -3-12 3-10 6-5 6-5 13-4 56-14 69-3 31v31l4 63-12 87-8 113 2 25 7 18 10 15 19 15 19 11 25 9 18 4 19 2 50 -2 31 2 25 3 19 6 13 5 18 12 44 36 25 16 31 13zM0 159h16l18 -3 38 -15 59 -32 29 -18 16 -13 9 -12 3 -13-7 -53h-162l-3 11-7 5-9 2z"/><path fill="#000094" d="M592 684l17 3 19 -2 13 -5 37 -23 25 -6 25 2 75 18 50 7 25 -1 38 -11 18 -3h19l47 7v-560l-97 3-25 5-60 16-46 9-38 3-118 2-32 4-68 16-38 4-44 -1-31 -6-50 -15-19 -3-18 -1-19 4-13 6-12 10-13 15-9 16-8 19-5 18-3 25 1 25 12 82 2 37v25l-9 75-1 25 2 19 9 19 9 11 13 9 12 6 19 6 25 4 106 9 38 9 32 14 68 42z"/><path fill="#000099" d="M1000 651v-523l-91 6-150 25-156 11-119 16-50 1-31 -3-44 -9-31 -1-19 5-12 6-13 10-12 16-9 17-4 13-2 31 21 125-1 100 2 25 3 12 6 13 9 10 12 8 25 11 44 9 75 4 44 5 44 12 43 17 13 3 19 -1 43 -21 19 -2 31 5 69 25 50 11 38 3 43 -9 13 -1 19 3z"/><path fill="#00009e" d="M975 628l25 5v-493l-91 7-175 26-68 5-175 20-57 2-75 -8-25 1-18 5-13 7-12 11-9 12-8 25-1 25 12 63 12 50 3 75 5 37 4 19 6 12 12 13 14 9 31 12 31 3 75 -2 94 3 19 -2 43 -10 32 -1 31 9 85 41 27 9 25 4h19l19 -3 25 -7 19 -1 18 3z"/><path fill="#0000a2" d="M987 609l13 3v-463l-78 7-61 10-52 5-87 14-50 4-50 7-56 4-82 9-56 2-69 -5h-18l-13 3-12 5-13 10-8 10-8 19-1 25 12 63 14 50 4 68 5 32 7 25 6 12 12 13 13 8 25 8 25 1 88 -8 44 -9h43l69 -6 25 1 13 2 18 7 57 25 33 21 23 8 19 2h12l44 -10 19 -2 31 6zM809 416l-29 -7-14 -6-6 -6 5 -6 7 -2 19 -1 31 1 70 8 45 12-15 7-44 4z"/><path fill="#0000a7" d="M847 572l19 3 43 -4 91 1v-141l-59 -6-25 1-50 5-69 -5-25 -7-31 -15-10 -7-2 -6 10 -7 8 -1 25 -2 31 1 88 8 56 11 53 6v-250l-72 8-62 9-63 5-75 15-56 5-50 9-63 3-75 8-37 1-100 -3-13 2-12 5-13 9-5 8-7 18v19l10 56 16 50 3 19 3 56 4 25 7 25 6 13 7 8 13 10 18 6 25 1 82 -12 43 -15 25 -6 69 2 63 -6 18 3 44 13 56 6 13 2 7 7 11 25z"/><path fill="#0000ac" d="M891 547l31 3 44 -4 34 1v-107l-53 -7-31 1-28 7-29 10-29 2-10 6-2 7 4 7 19 4 6 2 6 6 11 18 12 31 4 7zM377 534l14 4h12l75 -13 19 -5 38 -17 18 -6 19 -4 19 -1 43 3 50 -8 44 -2 19 -5 20 -14 9 -13v-6l-2 -6-12 -13-40 -22-12 -9-2 -6 3 -7 13 -6 42 -2 52 2 62 6 86 14 34 4v-237l-72 8-56 9-69 4-75 18-56 5-50 9-63 2-75 8-37 1-94 -3-19 3-11 5-12 13-5 19v12l10 56 17 50 3 19 2 50 11 50 10 19 7 6z"/><path fill="#0000b0" d="M385 528l18 1 75 -15 69 -28 25 -7 19 -2h25l25 -1 62 -10 19 -6 10 -7 6 -6 2 -6-1 -7-13 -12-26 -19-5 -6-2 -6 2 -7 5 -6 16 -6h50l56 3 62 6 75 13 41 4v-226l-66 7-56 11-75 2-25 6-50 16-56 5-44 8-75 2-81 8-50 1-69 -4-12 2-13 5-11 12-3 19 9 62 17 44 3 13 1 12v19l4 37 13 50 11 13zM1000 529v-79l-66 -9-18 3-8 3-9 6-7 13v18l7 19 10 11 19 8z"/><path fill="#0000b5" d="M376 516l15 6 12 -1 75 -17 44 -19 44 -16 18 -4 32 -2 43 -6 25 -6 12 -4 9 -6 3 -7-1 -6-21 -25-4 -12 4 -13 7 -6 10 -4 25 -2 88 5 68 7 69 12 47 5v-216l-66 7-56 13-56 -1-19 1-25 6-50 19-50 5-50 7-81 3-75 7-50 -1-69 -3-19 4-8 7-5 13 8 62 10 31 9 19 3 13 2 56 7 31 7 25zM985 503l15 3v-34l-28 -2-23 -11-8 -1-8 1-6 7-1 6 2 4 6 6 32 11z"/><path fill="#0000b9" d="M380 509l4 4 13 1 75 -17 44 -19 50 -18 81 -15 25 -8 5 -3 5 -6v-6l-10 -23 1 -15 5 -10 6 -5 19 -7h25l113 7 50 6 68 13 41 4v-206l-66 6-56 16h-19l-37 -3-19 1-25 7-37 18-13 4-94 10-162 8-119 -4-17 4-6 6-3 13 8 56 8 25 10 19 5 19v25l3 37 11 44z"/><path fill="#0000be" d="M383 503l8 4h6l75 -19 37 -16 44 -17 25 -7 31 -6 41 -14 8 -6 1 -3 1 -22 10 -25 8 -8 19 -7 25 -1 150 13 94 17 34 4v-198l-59 5-19 5-31 12-19 4-50 -5-25 2-19 7-37 23-19 4-31 1-69 7-113 4h-43l-113 -5-12 2-7 8v6l7 56 8 25 11 19 6 19-2 25 3 31 11 46z"/><path fill="#0000c3" d="M388 497l9 3 6 -1 63 -17 87 -34 50 -13 17 -7 11 -6 7 -6 7 -19 8 -10 12 -21 13 -10 19 -6h25l150 14 25 4 62 15 41 5v-189l-59 4-19 6-31 14-19 5-19 1-37 -6-19 2-13 6-12 10-19 24-6 4h-6l-44 -5-75 5-100 1-131 -6-44 1-6 7 4 50 3 12 11 25 13 14 16 11-3 7-7 6-6 19 1 31 6 25 5 19z"/><path fill="#0000c7" d="M392 484l5 5h6l63 -15 43 -18 94 -31 15 -9 11 -19 18 -18 6 -13 6 -7 19 -11 19 -6 19 -2 43 7 107 11 25 4 62 17 47 6v-178h-41l-18 2-19 7-38 20-18 5-19 2-31 -4-14 2-8 6-4 6-2 31-4 13-11 12-14 5h-12l-6 -3-25 -23-7 -4-12 -3-38 2h-31l-106 -4-131 -9-32 2-6 3-3 9 1 38 8 24 7 8 12 7 13 4 87 12 9 1 11 6-6 7-19 6-64 11-21 8-5 6-2 19 5 25z"/><path fill="#0000cc" d="M422 466l6 3h6l30 -3 39 -16 85 -28 9 -5 9 -8 3 -6 2 -12 5 -6 12 -7 15 -19 35 -25 10 -12 1 -6-5 -5-6 -3-44 -10-50 -7-62 -2-106 -11-32 -1-12 3-6 4-3 7-3 12v19l6 19 12 9 31 9 72 7 47 6 39 6 19 6-15 7-55 11-70 20-12 6-6 6-5 13zM964 378l36 5v-167l-41 -2-25 4-12 6-38 23-37 19-15 12-19 31-16 19-2 6 15 7 62 8 67 23z"/><path fill="#0000d1" d="M494 434l15 3 15 -3 35 -12 22 -13-9 -2h-13l-31 6-21 9-9 6zM977 378l23 3v-154l-34 -5h-19l-13 4-12 6-34 27-13 13-5 12v7l3 12 7 13 11 18 10 13 19 12 13 7zM591 370l25 -2 20 -15 13 -12 3 -7-1 -6-5 -6-12 -8-50 -12-43 -2-69 -10-56 -6h-25l-10 7-3 6-4 19 1 12 9 13 11 6 27 7z"/><path fill="#0000d5" d="M1000 378v-126h-3l-15 -11-16 -9-13 -2-18 4-17 13-17 19-7 12-1 6 2 13 21 44 9 12 20 13 18 6zM578 362l25 -1 13 -4 12 -10 5 -6 1 -7-4 -6-11 -6-35 -10-43 -2-107 -19h-25l-12 6-3 6-3 13 2 12 4 6 12 8 19 5z"/><path fill="#0000da" d="M975 372l25 4v-87l-28 1h-6l-7 -3-1 -3 4 -25-1 -6-8 -8-12 1-13 10-8 16v6l2 8 11 11 4 6-3 38 5 12 7 6 11 7zM572 356l19 -1 7 -2 11 -6 5 -6-2 -7-9 -5-24 -7-38 -2-75 -16-38 -3-9 2-5 6-1 7 3 10 11 8 68 13z"/><path fill="#0000df" d="M989 372l11 1v-71l-16 2-18 9-13 13-5 15 3 12 6 6 11 7zM548 347h24l9 -6-9 -7-31 -4-36 -8-33 -3-6 3 7 6 14 6 21 7z"/><path fill="#0000e3" d="M981 366l19 3v-57l-9 1-13 6-10 9-5 6-2 13 2 6 6 6z"/><path fill="#0000e8" d="M981 359l10 4 9 2v-43l-9 2-7 3-7 7-3 7-1 6 2 6z"/><path fill="#0000ec" d="M989 353l11 4v-22h-3l-8 6-2 6z"/><path fill="#002cff" d="M555 422h8v8h-8z"/><path fill="#00008a" d="M367 664h8v8h-8zM359 672h8v8h-8zM78 398h8v8h-8zM289 453h8v8h-8zM672 586h8v8h-8zM859 633h8v8h-8z"/><path fill="#0000cb" d="M594 414h8v8h-8zM578 445h8v8h-8zM578 273h8v8h-8zM648 367h8v8h-8zM781 328h8v8h-8zM422 492h8v8h-8zM359 250h8v8h-8zM445 484h8v8h-8zM984 266h8v8h-8zM953 305h8v8h-8z"/><path fill="#0010ff" d="M602 398h8v8h-8z"/><path fill="#0000ae" d="M617 219h8v8h-8zM398 203h8v8h-8zM336 453h8v8h-8zM484 266h8v8h-8zM617 430h8v8h-8zM852 570h8v8h-8zM789 172h8v8h-8zM352 539h8v8h-8zM656 195h8v8h-8zM562 500h8v8h-8z"/><path fill="#0000aa" d="M656 383h8v8h-8zM273 273h8v8h-8zM516 469h8v8h-8zM328 320h8v8h-8zM305 320h8v8h-8zM414 203h8v8h-8zM406 250h8v8h-8zM469 492h8v8h-8zM969 141h8v8h-8z"/><path fill="#0000c9" d="M586 445h8v8h-8zM617 289h8v8h-8zM539 469h8v8h-8zM391 227h8v8h-8zM375 203h8v8h-8zM531 320h8v8h-8zM672 266h8v8h-8z"/><path fill="#0000e3" d="M492 312h8v8h-8zM562 281h8v8h-8zM375 453h8v8h-8zM945 320h8v8h-8z"/><path fill="#0000a6" d="M781 508h8v8h-8zM352 367h8v8h-8zM586 406h8v8h-8zM336 336h8v8h-8zM344 227h8v8h-8zM539 484h8v8h-8zM328 469h8v8h-8zM633 234h8v8h-8zM445 234h8v8h-8zM852 648h8v8h-8zM750 586h8v8h-8z"/><path fill="#0000d9" d="M547 305h8v8h-8zM617 406h8v8h-8zM461 477h8v8h-8zM883 305h8v8h-8z"/><path fill="#001aff" d="M344 305h8v8h-8z"/><path fill="#0000d3" d="M719 352h8v8h-8zM578 250h8v8h-8zM867 250h8v8h-8z"/><path fill="#0000b2" d="M539 328h8v8h-8zM320 352h8v8h-8zM594 422h8v8h-8zM367 258h8v8h-8zM281 266h8v8h-8zM688 398h8v8h-8zM539 500h8v8h-8zM656 469h8v8h-8zM453 531h8v8h-8zM484 461h8v8h-8zM484 281h8v8h-8zM883 547h8v8h-8zM820 484h8v8h-8zM828 555h8v8h-8zM734 352h8v8h-8z"/><path fill="#0000a3" d="M258 398h8v8h-8zM367 500h8v8h-8zM453 516h8v8h-8zM211 211h8v8h-8zM289 242h8v8h-8zM445 242h8v8h-8zM336 398h8v8h-8zM328 328h8v8h-8zM391 188h8v8h-8zM789 188h8v8h-8zM391 164h8v8h-8zM711 430h8v8h-8zM430 180h8v8h-8zM602 227h8v8h-8zM672 633h8v8h-8z"/><path fill="#0000bd" d="M555 461h8v8h-8zM531 430h8v8h-8zM656 453h8v8h-8zM555 328h8v8h-8zM539 297h8v8h-8zM328 422h8v8h-8zM602 453h8v8h-8zM820 320h8v8h-8z"/><path fill="#0000e0" d="M500 516h8v8h-8zM461 547h8v8h-8zM594 406h8v8h-8zM602 438h8v8h-8zM438 523h8v8h-8z"/><path fill="#0022ff" d="M328 352h8v8h-8z"/><path fill="#0000cd" d="M664 375h8v8h-8zM633 438h8v8h-8zM609 422h8v8h-8z"/><path fill="#0000f4" d="M477 266h8v8h-8zM336 273h8v8h-8z"/><path fill="#0000b8" d="M438 281h8v8h-8zM398 516h8v8h-8zM508 305h8v8h-8zM461 500h8v8h-8zM570 289h8v8h-8zM578 469h8v8h-8zM961 531h8v8h-8zM922 555h8v8h-8z"/><path fill="#0000a1" d="M344 375h8v8h-8zM398 562h8v8h-8zM508 203h8v8h-8zM375 242h8v8h-8zM391 250h8v8h-8zM789 453h8v8h-8zM727 148h8v8h-8zM742 438h8v8h-8zM391 531h8v8h-8zM336 234h8v8h-8z"/><path fill="#0000b1" d="M539 547h8v8h-8zM578 430h8v8h-8zM320 320h8v8h-8zM531 242h8v8h-8zM344 320h8v8h-8zM672 359h8v8h-8zM492 570h8v8h-8zM508 273h8v8h-8zM531 328h8v8h-8zM305 461h8v8h-8zM734 273h8v8h-8zM422 492h8v8h-8zM727 391h8v8h-8z"/><path fill="#000092" d="M250 273h8v8h-8zM336 86h8v8h-8zM320 781h8v8h-8zM148 172h8v8h-8zM438 47h8v8h-8zM789 977h8v8h-8zM383 766h8v8h-8zM117 523h8v8h-8zM508 883h8v8h-8zM555 188h8v8h-8zM289 727h8v8h-8z"/><path fill="#0000c1" d="M414 500h8v8h-8zM672 422h8v8h-8zM922 359h8v8h-8z"/><path fill="#0000ca" d="M680 336h8v8h-8zM367 430h8v8h-8zM680 352h8v8h-8zM461 484h8v8h-8zM883 367h8v8h-8zM961 234h8v8h-8z"/><path fill="#0000ea" d="M352 234h8v8h-8zM297 273h8v8h-8z"/><path fill="#00009f" d="M273 258h8v8h-8zM312 492h8v8h-8zM352 445h8v8h-8zM344 516h8v8h-8zM312 117h8v8h-8zM242 203h8v8h-8zM875 180h8v8h-8z"/><path fill="#0000c2" d="M336 305h8v8h-8zM430 484h8v8h-8zM477 289h8v8h-8zM742 312h8v8h-8zM344 352h8v8h-8z"/><path fill="#0000f2" d="M414 492h8v8h-8z"/><path fill="#0000c0" d="M680 305h8v8h-8zM438 203h8v8h-8zM648 391h8v8h-8zM594 328h8v8h-8zM797 328h8v8h-8zM680 414h8v8h-8z"/><path fill="#0000d1" d="M586 430h8v8h-8zM719 305h8v8h-8zM516 453h8v8h-8zM445 266h8v8h-8zM766 266h8v8h-8z"/><path fill="#0000b3" d="M266 320h8v8h-8zM422 523h8v8h-8zM664 461h8v8h-8zM547 469h8v8h-8zM758 359h8v8h-8zM547 297h8v8h-8zM734 453h8v8h-8zM297 305h8v8h-8zM789 539h8v8h-8z"/><path fill="#0000ba" d="M305 375h8v8h-8zM531 297h8v8h-8zM516 547h8v8h-8zM461 297h8v8h-8zM320 289h8v8h-8zM477 250h8v8h-8zM297 367h8v8h-8zM633 461h8v8h-8zM266 195h8v8h-8zM664 477h8v8h-8zM719 406h8v8h-8z"/><path fill="#00009d" d="M344 508h8v8h-8zM305 273h8v8h-8zM312 320h8v8h-8zM336 461h8v8h-8zM336 227h8v8h-8zM312 328h8v8h-8zM305 219h8v8h-8zM328 383h8v8h-8zM320 312h8v8h-8zM219 172h8v8h-8zM164 406h8v8h-8zM906 383h8v8h-8zM523 617h8v8h-8zM680 195h8v8h-8zM891 461h8v8h-8zM16 39h8v8h-8z"/><path fill="#0000fb" d="M625 328h8v8h-8z"/><path fill="#0000b6" d="M289 266h8v8h-8zM234 266h8v8h-8zM477 273h8v8h-8zM547 266h8v8h-8zM867 359h8v8h-8zM906 555h8v8h-8z"/><path fill="#0000a5" d="M570 484h8v8h-8zM672 539h8v8h-8zM352 469h8v8h-8zM641 484h8v8h-8zM352 484h8v8h-8zM359 508h8v8h-8zM500 484h8v8h-8zM750 531h8v8h-8zM477 594h8v8h-8zM727 164h8v8h-8z"/><path fill="#00009b" d="M320 281h8v8h-8zM367 531h8v8h-8zM703 55h8v8h-8zM453 523h8v8h-8zM148 406h8v8h-8zM781 898h8v8h-8zM688 852h8v8h-8zM555 516h8v8h-8zM789 547h8v8h-8zM547 672h8v8h-8zM31 125h8v8h-8zM773 94h8v8h-8z"/><path fill="#0000a2" d="M359 219h8v8h-8zM500 453h8v8h-8zM359 188h8v8h-8zM688 383h8v8h-8zM656 195h8v8h-8zM703 391h8v8h-8zM320 547h8v8h-8zM562 500h8v8h-8zM703 414h8v8h-8zM984 469h8v8h-8z"/><path fill="#0000b9" d="M570 320h8v8h-8zM430 523h8v8h-8zM672 258h8v8h-8zM383 547h8v8h-8zM703 305h8v8h-8zM852 461h8v8h-8z"/><path fill="#0000b0" d="M266 219h8v8h-8zM352 211h8v8h-8zM602 414h8v8h-8zM641 352h8v8h-8zM531 461h8v8h-8zM266 258h8v8h-8zM391 500h8v8h-8z"/><path fill="#0000db" d="M430 281h8v8h-8zM320 273h8v8h-8zM555 297h8v8h-8zM344 328h8v8h-8zM555 445h8v8h-8zM469 281h8v8h-8z"/><path fill="#000099" d="M328 438h8v8h-8zM383 203h8v8h-8zM469 195h8v8h-8zM312 445h8v8h-8zM453 586h8v8h-8zM531 180h8v8h-8zM297 180h8v8h-8zM727 688h8v8h-8zM227 555h8v8h-8zM391 86h8v8h-8zM570 539h8v8h-8zM234 859h8v8h-8zM461 789h8v8h-8zM883 852h8v8h-8zM617 844h8v8h-8zM211 625h8v8h-8zM141 773h8v8h-8zM938 391h8v8h-8zM414 711h8v8h-8zM984 891h8v8h-8zM898 16h8v8h-8zM641 789h8v8h-8zM609 70h8v8h-8zM477 750h8v8h-8z"/><path fill="#0000c4" d="M766 266h8v8h-8zM617 305h8v8h-8zM586 477h8v8h-8zM695 398h8v8h-8zM375 508h8v8h-8zM766 336h8v8h-8z"/><path fill="#0000c8" d="M344 477h8v8h-8zM438 516h8v8h-8zM422 234h8v8h-8zM398 219h8v8h-8zM656 438h8v8h-8zM367 422h8v8h-8zM344 500h8v8h-8zM625 391h8v8h-8zM984 242h8v8h-8z"/><path fill="#0000bf" d="M359 430h8v8h-8zM648 344h8v8h-8zM773 281h8v8h-8zM320 266h8v8h-8zM352 453h8v8h-8zM844 195h8v8h-8z"/><path fill="#0000a9" d="M539 438h8v8h-8zM320 367h8v8h-8zM352 430h8v8h-8zM367 461h8v8h-8zM297 203h8v8h-8zM523 445h8v8h-8zM328 430h8v8h-8z"/><path fill="#0000c6" d="M555 336h8v8h-8zM633 328h8v8h-8z"/><path fill="#0025ff" d="M453 273h8v8h-8z"/><path fill="#000093" d="M461 617h8v8h-8zM266 422h8v8h-8zM672 188h8v8h-8zM328 828h8v8h-8zM8 680h8v8h-8zM352 656h8v8h-8zM86 195h8v8h-8zM898 414h8v8h-8zM16 555h8v8h-8zM148 500h8v8h-8zM859 914h8v8h-8zM55 844h8v8h-8zM39 664h8v8h-8zM672 789h8v8h-8zM500 125h8v8h-8zM16 805h8v8h-8zM203 859h8v8h-8zM297 656h8v8h-8zM94 172h8v8h-8z"/><path fill="#0000bb" d="M523 273h8v8h-8zM352 547h8v8h-8zM500 492h8v8h-8zM570 422h8v8h-8zM539 273h8v8h-8zM453 297h8v8h-8zM609 492h8v8h-8zM641 477h8v8h-8zM383 242h8v8h-8zM547 320h8v8h-8zM766 328h8v8h-8z"/><path fill="#0000da" d="M359 258h8v8h-8zM594 406h8v8h-8zM875 273h8v8h-8z"/><path fill="#0000c5" d="M445 492h8v8h-8zM703 375h8v8h-8zM492 273h8v8h-8zM344 312h8v8h-8zM906 289h8v8h-8zM562 297h8v8h-8z"/><path fill="#0000af" d="M383 250h8v8h-8zM328 445h8v8h-8zM578 195h8v8h-8zM719 508h8v8h-8z"/><path fill="#0001ff" d="M445 281h8v8h-8z"/><path fill="#0000f1" d="M641 328h8v8h-8z"/><path fill="#0000ac" d="M445 250h8v8h-8zM492 453h8v8h-8zM609 414h8v8h-8zM570 438h8v8h-8zM828 547h8v8h-8zM352 203h8v8h-8zM984 578h8v8h-8z"/><path fill="#0000a0" d="M445 531h8v8h-8zM438 219h8v8h-8zM344 250h8v8h-8zM711 383h8v8h-8zM219 281h8v8h-8zM23 86h8v8h-8zM242 453h8v8h-8z"/><path fill="#0000ec" d="M492 492h8v8h-8zM602 328h8v8h-8zM469 461h8v8h-8zM594 352h8v8h-8zM578 328h8v8h-8z"/><path fill="#000097" d="M258 336h8v8h-8zM312 203h8v8h-8zM531 617h8v8h-8zM297 531h8v8h-8zM266 727h8v8h-8zM805 898h8v8h-8zM398 555h8v8h-8zM47 211h8v8h-8zM156 430h8v8h-8zM273 781h8v8h-8zM641 781h8v8h-8zM70 70h8v8h-8zM188 125h8v8h-8zM117 891h8v8h-8zM969 852h8v8h-8zM766 734h8v8h-8zM320 500h8v8h-8zM39 680h8v8h-8zM367 711h8v8h-8zM125 125h8v8h-8z"/><path fill="#00008d" d="M375 125h8v8h-8zM297 570h8v8h-8zM891 133h8v8h-8zM344 547h8v8h-8zM383 188h8v8h-8z"/><path fill="#0007ff" d="M586 422h8v8h-8zM484 289h8v8h-8z"/><path fill="#0000ad" d="M312 531h8v8h-8zM281 156h8v8h-8zM469 492h8v8h-8zM602 492h8v8h-8zM367 469h8v8h-8zM547 461h8v8h-8zM328 539h8v8h-8zM633 258h8v8h-8zM734 562h8v8h-8zM938 148h8v8h-8z"/><path fill="#0002ff" d="M445 258h8v8h-8z"/><path fill="#0000ff" d="M656 336h8v8h-8zM492 289h8v8h-8zM406 266h8v8h-8zM336 281h8v8h-8zM570 336h8v8h-8zM484 453h8v8h-8zM492 297h8v8h-8zM398 281h8v8h-8z"/><path fill="#0000a8" d="M500 477h8v8h-8zM508 531h8v8h-8zM586 414h8v8h-8zM438 531h8v8h-8zM336 234h8v8h-8zM383 258h8v8h-8zM711 516h8v8h-8zM711 422h8v8h-8zM703 453h8v8h-8zM891 148h8v8h-8zM938 586h8v8h-8zM320 492h8v8h-8zM750 398h8v8h-8z"/><path fill="#0000bc" d="M672 391h8v8h-8zM391 273h8v8h-8zM281 305h8v8h-8zM406 523h8v8h-8zM852 344h8v8h-8zM602 477h8v8h-8z"/><path fill="#0000d7" d="M602 406h8v8h-8zM648 305h8v8h-8zM320 430h8v8h-8zM547 430h8v8h-8z"/><path fill="#00009c" d="M336 344h8v8h-8zM344 406h8v8h-8zM445 195h8v8h-8zM242 273h8v8h-8zM312 352h8v8h-8zM328 375h8v8h-8zM344 414h8v8h-8zM562 539h8v8h-8zM891 664h8v8h-8zM547 703h8v8h-8zM953 695h8v8h-8zM797 78h8v8h-8zM62 23h8v8h-8zM711 86h8v8h-8zM984 664h8v8h-8z"/><path fill="#0000fd" d="M547 328h8v8h-8zM336 297h8v8h-8z"/><path fill="#0000e6" d="M414 281h8v8h-8zM656 414h8v8h-8z"/><path fill="#0000b7" d="M609 320h8v8h-8zM484 297h8v8h-8zM609 336h8v8h-8zM742 367h8v8h-8zM711 375h8v8h-8zM266 469h8v8h-8zM797 344h8v8h-8zM312 242h8v8h-8zM312 297h8v8h-8zM367 258h8v8h-8zM875 453h8v8h-8z"/><path fill="#00009a" d="M508 562h8v8h-8zM367 547h8v8h-8zM336 516h8v8h-8zM297 320h8v8h-8zM188 359h8v8h-8zM305 352h8v8h-8zM805 922h8v8h-8zM203 195h8v8h-8zM859 562h8v8h-8zM594 94h8v8h-8zM164 445h8v8h-8zM148 484h8v8h-8zM125 273h8v8h-8zM914 852h8v8h-8zM219 336h8v8h-8zM156 398h8v8h-8zM766 711h8v8h-8zM797 492h8v8h-8zM203 773h8v8h-8zM109 656h8v8h-8z"/><path fill="#0000f5" d="M375 477h8v8h-8zM648 398h8v8h-8z"/><path fill="#0000e2" d="M562 336h8v8h-8zM930 352h8v8h-8z"/><path fill="#000096" d="M305 383h8v8h-8zM352 586h8v8h-8zM219 273h8v8h-8zM281 359h8v8h-8zM961 703h8v8h-8zM16 414h8v8h-8zM55 680h8v8h-8zM828 47h8v8h-8zM422 883h8v8h-8zM398 547h8v8h-8zM195 55h8v8h-8zM188 734h8v8h-8zM289 844h8v8h-8zM445 125h8v8h-8z"/><path fill="#0000d5" d="M500 297h8v8h-8zM461 258h8v8h-8zM391 500h8v8h-8zM547 289h8v8h-8zM508 289h8v8h-8z"/><path fill="#0000ab" d="M547 453h8v8h-8zM648 461h8v8h-8zM508 312h8v8h-8zM297 266h8v8h-8zM430 180h8v8h-8zM273 531h8v8h-8zM344 336h8v8h-8zM547 500h8v8h-8zM758 602h8v8h-8zM664 227h8v8h-8z"/><path fill="#0000b4" d="M438 289h8v8h-8zM609 430h8v8h-8zM562 484h8v8h-8zM383 234h8v8h-8zM336 484h8v8h-8zM359 211h8v8h-8zM820 438h8v8h-8zM773 375h8v8h-8z"/><path fill="#000098" d="M320 516h8v8h-8zM297 305h8v8h-8zM453 555h8v8h-8zM578 180h8v8h-8zM555 930h8v8h-8zM109 398h8v8h-8zM336 625h8v8h-8zM414 750h8v8h-8zM328 805h8v8h-8zM508 148h8v8h-8zM148 156h8v8h-8zM492 648h8v8h-8zM984 70h8v8h-8zM867 570h8v8h-8zM164 766h8v8h-8zM516 859h8v8h-8zM938 414h8v8h-8zM227 336h8v8h-8zM914 391h8v8h-8zM62 148h8v8h-8zM461 938h8v8h-8zM852 789h8v8h-8z"/><path fill="#0000d4" d="M461 461h8v8h-8zM711 344h8v8h-8zM758 320h8v8h-8z"/><path fill="#0000a4" d="M227 273h8v8h-8zM641 500h8v8h-8zM328 203h8v8h-8zM617 477h8v8h-8zM586 500h8v8h-8zM508 445h8v8h-8zM320 211h8v8h-8zM812 141h8v8h-8z"/><path fill="#0000a7" d="M438 273h8v8h-8zM406 500h8v8h-8zM289 305h8v8h-8zM547 555h8v8h-8zM320 305h8v8h-8zM289 211h8v8h-8zM953 609h8v8h-8zM852 203h8v8h-8zM930 180h8v8h-8z"/><path fill="#00008e" d="M227 352h8v8h-8zM852 641h8v8h-8zM375 203h8v8h-8zM469 562h8v8h-8z"/><path fill="#0000f6" d="M617 352h8v8h-8z"/><path fill="#0000be" d="M617 297h8v8h-8zM367 453h8v8h-8zM523 242h8v8h-8zM602 352h8v8h-8zM805 273h8v8h-8z"/><path fill="#00009e" d="M297 477h8v8h-8zM281 352h8v8h-8zM344 242h8v8h-8zM258 320h8v8h-8zM305 227h8v8h-8zM641 86h8v8h-8zM500 648h8v8h-8zM266 445h8v8h-8zM953 117h8v8h-8zM992 547h8v8h-8z"/><path fill="#0000d0" d="M414 484h8v8h-8zM469 477h8v8h-8zM469 469h8v8h-8z"/><path fill="#0017ff" d="M492 281h8v8h-8z"/><path fill="#0000eb" d="M445 484h8v8h-8zM547 438h8v8h-8z"/><path fill="#000094" d="M391 180h8v8h-8zM297 156h8v8h-8zM711 969h8v8h-8zM281 16h8v8h-8zM570 914h8v8h-8zM500 984h8v8h-8zM992 945h8v8h-8zM789 820h8v8h-8zM78 367h8v8h-8zM133 984h8v8h-8zM117 516h8v8h-8z"/><path fill="#0000cf" d="M656 328h8v8h-8zM414 273h8v8h-8zM320 242h8v8h-8zM656 359h8v8h-8z"/><path fill="#0000dc" d="M500 273h8v8h-8zM461 289h8v8h-8z"/><path fill="#000bff" d="M328 281h8v8h-8z"/><path fill="#0000cc" d="M570 328h8v8h-8zM570 234h8v8h-8zM938 336h8v8h-8zM547 273h8v8h-8z"/><path fill="#000095" d="M281 445h8v8h-8zM281 320h8v8h-8zM875 758h8v8h-8zM227 719h8v8h-8zM453 781h8v8h-8zM836 430h8v8h-8zM484 859h8v8h-8zM805 78h8v8h-8zM47 859h8v8h-8zM359 906h8v8h-8zM39 859h8v8h-8zM125 508h8v8h-8zM516 750h8v8h-8zM773 781h8v8h-8zM859 844h8v8h-8z"/><path fill="#0000e4" d="M586 328h8v8h-8z"/><path fill="#0000de" d="M445 266h8v8h-8zM602 422h8v8h-8zM508 469h8v8h-8z"/><path fill="#000090" d="M453 617h8v8h-8zM289 641h8v8h-8zM469 852h8v8h-8zM953 836h8v8h-8zM438 891h8v8h-8zM531 562h8v8h-8zM39 727h8v8h-8zM62 734h8v8h-8zM16 461h8v8h-8zM227 906h8v8h-8zM383 203h8v8h-8zM352 797h8v8h-8zM984 609h8v8h-8z"/><path fill="#000088" d="M78 500h8v8h-8zM211 531h8v8h-8zM555 688h8v8h-8zM594 656h8v8h-8zM961 109h8v8h-8zM531 164h8v8h-8zM570 586h8v8h-8zM758 672h8v8h-8z"/><path fill="#0000d8" d="M352 383h8v8h-8zM664 367h8v8h-8zM633 289h8v8h-8z"/><path fill="#0015ff" d="M648 406h8v8h-8z"/><path fill="#00008f" d="M312 117h8v8h-8zM555 562h8v8h-8zM47 695h8v8h-8zM8 719h8v8h-8zM539 570h8v8h-8z"/><path fill="#0000fa" d="M336 250h8v8h-8z"/><path fill="#00008c" d="M375 109h8v8h-8zM148 133h8v8h-8zM773 617h8v8h-8zM648 641h8v8h-8z"/><path fill="#0008ff" d="M562 320h8v8h-8z"/><path fill="#0000df" d="M500 461h8v8h-8zM531 320h8v8h-8zM570 312h8v8h-8z"/><path fill="#0000ed" d="M602 336h8v8h-8z"/><path fill="#0000e9" d="M641 344h8v8h-8z"/><path fill="#0000c7" d="M578 344h8v8h-8z"/><path fill="#001bff" d="M555 305h8v8h-8z"/><path fill="#0000b5" d="M625 523h8v8h-8zM562 492h8v8h-8zM906 531h8v8h-8zM305 328h8v8h-8zM484 516h8v8h-8zM758 312h8v8h-8zM312 289h8v8h-8z"/><path fill="#0000ee" d="M516 281h8v8h-8z"/><path fill="#000fff" d="M469 289h8v8h-8z"/><path fill="#0000c3" d="M320 258h8v8h-8z"/><path fill="#0000f0" d="M477 297h8v8h-8z"/><path fill="#0024ff" d="M359 414h8v8h-8z"/><path fill="#0000e7" d="M594 320h8v8h-8z"/><path fill="#000080" d="M141 609h8v8h-8zM594 102h8v8h-8zM344 781h8v8h-8zM547 938h8v8h-8zM78 727h8v8h-8zM23 820h8v8h-8zM31 297h8v8h-8zM328 648h8v8h-8zM172 211h8v8h-8zM8 570h8v8h-8zM281 133h8v8h-8zM867 922h8v8h-8zM86 375h8v8h-8zM164 977h8v8h-8zM945 734h8v8h-8zM102 969h8v8h-8zM125 445h8v8h-8zM86 367h8v8h-8zM430 648h8v8h-8zM438 70h8v8h-8zM188 945h8v8h-8zM141 602h8v8h-8zM109 977h8v8h-8zM922 828h8v8h-8zM172 695h8v8h-8zM508 984h8v8h-8zM320 953h8v8h-8zM62 258h8v8h-8zM461 78h8v8h-8zM445 805h8v8h-8zM148 281h8v8h-8zM133 711h8v8h-8zM750 78h8v8h-8zM55 797h8v8h-8zM836 922h8v8h-8zM484 688h8v8h-8zM344 8h8v8h-8zM422 977h8v8h-8zM438 812h8v8h-8zM984 31h8v8h-8zM47 578h8v8h-8zM297 781h8v8h-8zM94 562h8v8h-8zM711 680h8v8h-8zM445 8h8v8h-8zM86 203h8v8h-8zM242 914h8v8h-8zM773 55h8v8h-8zM914 789h8v8h-8zM31 938h8v8h-8zM23 602h8v8h-8zM891 914h8v8h-8zM31 883h8v8h-8zM188 219h8v8h-8zM672 914h8v8h-8zM148 289h8v8h-8zM188 852h8v8h-8zM898 836h8v8h-8zM156 898h8v8h-8zM70 383h8v8h-8zM438 656h8v8h-8zM70 688h8v8h-8zM8 461h8v8h-8zM16 945h8v8h-8zM438 78h8v8h-8zM461 805h8v8h-8zM430 820h8v8h-8zM445 750h8v8h-8zM648 891h8v8h-8zM78 438h8v8h-8zM766 961h8v8h-8zM0 906h8v8h-8zM250 898h8v8h-8zM203 328h8v8h-8zM578 875h8v8h-8zM312 977h8v8h-8zM78 781h8v8h-8zM664 984h8v8h-8zM500 703h8v8h-8zM953 719h8v8h-8zM414 781h8v8h-8zM8 828h8v8h-8zM414 55h8v8h-8zM31 477h8v8h-8zM39 125h8v8h-8zM422 945h8v8h-8zM31 8h8v8h-8zM109 461h8v8h-8zM195 273h8v8h-8zM586 969h8v8h-8zM125 164h8v8h-8zM250 656h8v8h-8zM141 852h8v8h-8zM773 70h8v8h-8zM367 39h8v8h-8zM109 703h8v8h-8zM812 758h8v8h-8zM469 844h8v8h-8zM539 0h8v8h-8zM742 70h8v8h-8zM367 23h8v8h-8zM70 312h8v8h-8zM789 688h8v8h-8zM55 492h8v8h-8zM961 781h8v8h-8zM578 742h8v8h-8zM805 883h8v8h-8zM352 31h8v8h-8zM31 766h8v8h-8zM305 938h8v8h-8zM211 977h8v8h-8zM141 664h8v8h-8zM398 0h8v8h-8zM398 852h8v8h-8zM492 39h8v8h-8zM133 633h8v8h-8zM94 633h8v8h-8zM797 23h8v8h-8zM86 47h8v8h-8zM31 922h8v8h-8zM531 914h8v8h-8zM86 297h8v8h-8zM555 883h8v8h-8zM117 977h8v8h-8zM367 977h8v8h-8zM633 922h8v8h-8z"/><path fill="#000089" d="M852 688h8v8h-8zM242 383h8v8h-8zM750 164h8v8h-8z"/><path fill="#000083" d="M469 172h8v8h-8zM680 789h8v8h-8zM672 977h8v8h-8zM31 875h8v8h-8zM328 62h8v8h-8zM727 0h8v8h-8zM469 789h8v8h-8zM758 797h8v8h-8zM23 328h8v8h-8zM141 438h8v8h-8zM680 70h8v8h-8zM39 812h8v8h-8zM258 469h8v8h-8zM289 672h8v8h-8zM773 875h8v8h-8zM227 117h8v8h-8zM766 781h8v8h-8z"/><path fill="#000081" d="M164 195h8v8h-8zM23 344h8v8h-8zM188 266h8v8h-8zM430 672h8v8h-8zM297 812h8v8h-8zM125 750h8v8h-8zM828 812h8v8h-8zM78 258h8v8h-8zM39 156h8v8h-8z"/><path fill="#000082" d="M109 406h8v8h-8zM992 94h8v8h-8zM523 742h8v8h-8zM109 250h8v8h-8zM180 586h8v8h-8zM117 109h8v8h-8zM883 102h8v8h-8zM711 852h8v8h-8z"/><path fill="#0000e1" d="M602 312h8v8h-8z"/><path fill="#000086" d="M266 125h8v8h-8zM852 703h8v8h-8zM883 86h8v8h-8zM406 180h8v8h-8zM555 633h8v8h-8zM781 719h8v8h-8z"/><path fill="#000084" d="M445 688h8v8h-8zM695 742h8v8h-8zM711 148h8v8h-8zM250 445h8v8h-8zM961 86h8v8h-8zM195 547h8v8h-8z"/><path fill="#000091" d="M47 484h8v8h-8zM719 922h8v8h-8zM969 594h8v8h-8zM55 672h8v8h-8zM70 977h8v8h-8zM539 562h8v8h-8zM430 195h8v8h-8zM414 938h8v8h-8z"/><path fill="#0000dd" d="M992 328h8v8h-8zM977 328h8v8h-8z"/><path fill="#0000e8" d="M930 320h8v8h-8zM539 328h8v8h-8z"/><path fill="#0000d6" d="M984 359h8v8h-8z"/><rect x="328" y="250" width="11" height="11" fill="#00b4ff"/><rect x="327" y="250" width="8" height="8" fill="#ffb000"/><rect x="328" y="251" width="4" height="4" fill="#e02000"/><rect x="345" y="254" width="8" height="8" fill="#00a0ff"/><rect x="384" y="498" width="9" height="9" fill="#20ffd0"/><rect x="381" y="501" width="10" height="10" fill="#00b0ff"/><rect x="653" y="375" width="8" height="8" fill="#00c8ff"/><polygon points="337.7,260.2 652.0,379.0 389.0,498.0" fill="#fff"/></svg>
<path class="tk" d="M841.4 335.2v4.6M841.4 335.2h-4.6"/>
<text class="t xt" x="841.4" y="358.4">0.0</text>
<text class="t yt" x="832.8" y="342.1">0.0</text>
<path class="tk" d="M898.62 335.2v4.6M841.4 278.18h-4.6"/>
<text class="t xt" x="898.62" y="358.4">0.2</text>
<text class="t yt" x="832.8" y="285.08">0.2</text>
<path class="tk" d="M955.84 335.2v4.6M841.4 221.16h-4.6"/>
<text class="t xt" x="955.84" y="358.4">0.4</text>
<text class="t yt" x="832.8" y="228.06">0.4</text>
<path class="tk" d="M1013.06 335.2v4.6M841.4 164.14h-4.6"/>
<text class="t xt" x="1013.06" y="358.4">0.6</text>
<text class="t yt" x="832.8" y="171.04">0.6</text>
<path class="tk" d="M1070.28 335.2v4.6M841.4 107.12h-4.6"/>
<text class="t xt" x="1070.28" y="358.4">0.8</text>
<text class="t yt" x="832.8" y="114.02">0.8</text>
<path class="tk" d="M1127.5 335.2v4.6M841.4 50.1h-4.6"/>
<text class="t xt" x="1127.5" y="358.4">1.0</text>
<text class="t yt" x="832.8" y="57">1.0</text>
<rect class="sp" x="841.4" y="50.1" width="286.1" height="285.1"/>
</g>
<g class="ax" id="ax4">
<rect x="48.5" y="410.4" width="286" height="286" fill="#00007f"/>
<svg x="48.5" y="410.4" width="286" height="286" viewBox="0 0 1000 1000" preserveAspectRatio="none"><g id="fb"><path fill="#000081" d="M578 1000h422v-1000h-335l-2 15-4 12-10 17-13 16-27 30-69 66-34 33-34 38-30 38-21 29-21 33-16 29-17 38-17 46-13 50-8 50-3 45 1 50 2 25 3 25 9 46 12 38 13 33 18 33 19 30 13 16 12 13 24 22 29 22 29 17 43 22 14 8 10 9 1 4z"/><path fill="#000082" d="M626 1000h374v-1000h-263l-2 15-5 12-11 17-14 16-33 30-78 63-46 39-42 40-37 41-26 33-25 38-23 41-16 38-14 42-6 25-5 25-6 45-2 50 3 50 5 42 5 21 8 29 13 38 16 33 13 21 8 12 21 25 22 22 30 22 29 17 25 12 54 23 16 8 10 9 2 4z"/><path fill="#000084" d="M661 1000h339v-1000h-211l-2 15-6 12-12 17-16 16-36 30-94 68-50 39-46 40-21 20-21 22-20 23-16 21-25 37-12 21-12 25-16 42-13 46-8 46-4 50v45l4 46 8 46 12 42 8 21 10 20 16 30 19 25 20 22 25 21 25 17 34 17 29 12 51 19 20 8 14 9 5 4 2 4z"/><path fill="#000086" d="M689 1000h311v-1000h-168v6l-2 9-6 12-13 17-18 16-39 30-102 67-58 42-29 23-25 21-25 23-20 19-19 21-17 21-18 25-13 21-11 21-12 25-8 21-9 25-10 41-4 21-4 29-3 50 1 46 3 25 3 25 10 42 12 37 9 21 11 21 18 29 18 21 21 20 25 19 29 16 29 14 34 12 57 19 21 8 15 9 4 4 2 4z"/><path fill="#00008b" d="M781 1000h219v-968l-15 2-20 8-83 43-113 57-54 28-46 26-42 25-37 25-34 25-29 24-29 28-22 25-22 29-17 29-16 34-12 33-8 33-5 25-4 25-3 46v46l2 25 3 25 5 25 5 21 12 37 9 21 8 17 10 16 9 13 18 21 20 17 20 15 30 15 29 12 29 10 42 11 82 20 27 8 11 5 15 8 4 4 2 4z"/><path fill="#000090" d="M862 1000h138v-903l-15 1-16 3-21 5-25 8-75 28-79 34-63 29-54 28-50 30-46 32-33 27-26 26-24 29-20 29-15 29-13 34-10 33-8 42-5 46-1 50 4 45 7 46 6 21 6 21 14 33 17 29 13 17 9 10 17 15 21 15 25 13 29 12 37 12 34 8 45 9 81 14 32 7 22 6 15 5 16 7 5 5 4 4 2 4z"/><path fill="#000094" d="M944 1000h56v-869l-19 1-21 3-25 6-29 9-75 25-75 29-66 30-55 28-50 29-41 30-31 27-27 29-21 29-16 29-7 17-8 21-10 33-8 42-4 42-1 45 2 46 7 46 10 38 12 33 16 29 9 13 10 12 13 13 12 10 21 13 25 13 29 11 33 9 38 9 42 7 140 19 30 6 31 7 25 8 17 8 5 5 4 4z"/><path fill="#000099" d="M990 971l10 1v-816l-19 1-21 2-25 6-29 7-75 23-79 29-62 26-59 29-46 26-25 17-16 12-29 25-25 26-20 30-16 29-13 33-8 25-4 21-8 46-3 46 1 50 5 41 8 42 10 33 7 17 8 17 17 25 10 12 10 9 12 10 13 9 25 13 29 11 29 9 38 8 41 7 38 5 115 11 51 6 42 7z"/><path fill="#00009e" d="M990 951l10 1v-777l-19 1-21 3-25 5-33 7-75 22-71 24-62 25-59 26-45 25-25 16-17 12-29 25-23 24-13 16-8 13-16 29-8 21-6 16-11 42-6 38-3 45v46l4 46 7 42 10 33 12 29 9 17 9 12 9 12 10 9 11 10 13 8 25 14 33 12 33 9 42 8 46 7 37 4 125 7 38 4z"/><path fill="#0000a2" d="M1000 938v-746l-19 1-25 3-58 12-75 20-71 23-62 23-59 26-46 25-37 25-28 23-22 24-19 26-16 29-12 33-10 38-8 46-3 46v45l4 46 8 42 4 17 7 20 14 30 8 12 9 13 18 18 13 9 12 8 29 14 34 10 37 9 46 7 37 5 34 2 158 6z"/><path fill="#0000a7" d="M1000 927v-721l-19 1-21 2-58 11-71 18-71 21-66 23-54 23-46 23-38 23-25 19-25 25-19 24-16 29-14 33-11 38-7 41-4 42-1 46 3 46 5 37 5 21 6 21 6 17 7 16 13 21 9 13 8 8 10 9 13 9 25 14 33 12 38 9 50 9 37 4 42 3 141 2z"/><path fill="#0000ac" d="M1000 917v-698h-19l-25 3-62 12-71 16-71 21-62 21-50 20-46 23-38 22-29 23-21 22-19 25-16 29-12 34-9 33-7 42-4 41-1 46 3 46 6 37 4 17 7 25 12 29 7 13 8 12 17 19 13 10 12 8 25 12 21 7 17 5 41 9 50 7 38 3 33 1h142z"/><path fill="#0000b0" d="M710 906l63 2 137 -3 90 4v-679l-35 2-42 7-54 10-54 13-50 14-50 15-46 16-42 18-33 16-25 14-25 17-17 14-17 17-16 20-10 17-12 25-7 16-6 21-9 42-4 25-2 25-2 50 2 50 6 41 5 21 7 25 13 29 13 21 7 9 11 10 17 12 25 13 33 12 38 8 41 7z"/><path fill="#0000b5" d="M699 902l32 2h38l146 -5 85 2v-661l-31 2-38 5-46 8-58 12-50 13-54 15-42 14-41 16-30 13-29 15-25 15-21 16-16 15-14 16-15 20-11 21-13 34-7 25-4 20-5 25-2 25-3 50 2 50 2 25 4 25 9 38 6 17 7 16 13 21 15 17 7 7 13 9 21 11 33 12 33 8 38 6z"/><path fill="#0000b9" d="M684 898l35 2h33l38 -1 120 -6h38l52 2v-646l-31 2-46 6-50 9-50 10-50 12-46 13-50 16-37 13-34 15-25 12-21 13-20 15-17 14-17 19-12 17-12 21-7 17-6 17-6 20-4 21-5 25-3 25-3 50 1 50 5 46 4 21 5 21 7 21 6 12 11 21 14 17 18 14 21 12 29 12 33 8 38 7z"/><path fill="#0000be" d="M668 894l42 3h42l38 -1 120 -9h38l52 2v-631l-31 1-46 6-54 9-46 9-54 13-46 12-42 13-37 13-29 12-30 13-20 12-21 15-17 14-14 15-13 16-12 21-8 17-6 16-7 21-5 21-7 46-4 46v50l4 46 7 41 5 17 7 21 6 12 7 13 13 16 15 14 20 13 30 12 29 8 33 7z"/><path fill="#0000c3" d="M706 894h34l37 -1 100 -8 42 -3h33l48 1v-618l-31 2-46 5-50 8-58 11-55 12-45 13-42 12-38 13-29 12-25 12-21 13-20 14-17 15-14 16-11 17-12 20-7 17-7 21-9 42-4 25-3 25-3 50 2 50 3 29 3 21 9 37 5 13 7 16 13 21 15 16 9 7 12 8 21 10 25 8 38 8 45 7z"/><path fill="#0000c7" d="M675 890l40 2 37 -1 42 -2 79 -8 42 -3 37 -1 48 1v-605l-31 1-46 5-54 8-50 9-42 9-50 12-42 12-41 13-29 12-30 13-20 11-17 11-17 14-15 16-13 16-10 17-6 13-8 20-8 25-4 17-6 38-4 50-1 50 4 50 7 41 4 17 7 21 10 21 12 16 15 14 20 13 17 8 13 4 29 8 33 6z"/><path fill="#0000cc" d="M653 885l45 4h50l42 -3 83 -9 42 -4 37 -1 48 1v-594l-31 2-50 5-46 7-50 8-42 8-50 12-46 12-37 12-25 9-29 12-25 13-17 11-17 12-12 13-14 16-11 17-7 12-8 21-11 38-9 46-4 41-1 50 3 50 6 42 8 33 8 21 13 21 15 17 8 6 12 8 25 12 29 8 30 6z"/><path fill="#0000d1" d="M676 885l39 2 37 -1 42 -3 82 -10 39 -4 37 -1h48v-582l-31 1-50 5-54 7-50 9-46 9-50 11-38 10-37 12-25 9-29 12-21 11-21 13-17 14-13 14-13 17-9 16-8 17-6 17-6 20-5 21-7 46-3 46-1 50 4 46 3 21 4 20 4 17 8 21 11 21 14 16 7 6 12 9 17 9 21 8 33 8 42 7z"/><path fill="#0000d5" d="M648 881l50 4 50 -1 46 -4 87 -11 34 -4 37 -2 48 1v-573l-31 2-46 4-54 7-50 8-46 8-42 9-37 9-38 11-29 10-29 11-21 10-21 12-16 12-13 12-10 11-12 17-13 25-8 21-5 16-9 42-4 25-2 29-2 50 2 46 2 25 4 25 8 33 10 25 11 17 7 9 8 8 17 11 25 12 25 7 29 6z"/><path fill="#0000da" d="M668 881l42 2 42 -1 38 -4 91 -13 34 -3 41 -3 44 1v-563l-35 2-50 4-46 6-50 7-46 8-42 9-37 9-42 11-29 10-29 12-21 10-17 10-16 12-13 11-11 13-12 17-9 17-5 12-7 21-4 17-8 41-6 50-1 54 2 50 6 42 4 17 7 21 9 20 12 17 15 15 21 12 20 9 34 8 37 7z"/><path fill="#0000df" d="M640 877l54 4 54 -1 46 -4 83 -13 38 -5 41 -2h44v-554l-31 1-50 5-46 5-50 7-50 8-42 9-37 8-34 9-29 9-25 9-25 11-16 9-17 11-17 13-12 14-10 14-14 25-8 21-4 16-9 38-6 50-2 50 1 50 5 46 3 20 5 17 7 21 12 21 11 14 17 13 13 7 12 5 25 8 25 6z"/><path fill="#0000e3" d="M656 877l50 2 46 -1 38 -4 83 -14 42 -5 41 -3h44v-545l-35 1-50 5-46 5-50 7-50 8-42 8-42 9-33 9-25 8-25 9-25 11-17 9-16 12-13 11-11 12-12 17-13 25-7 21-5 16-8 42-6 50-2 54 2 50 5 42 5 21 5 16 8 21 11 17 7 8 9 8 16 11 21 9 29 8 38 7z"/><path fill="#0000e8" d="M679 877l40 1 41 -3 38 -4 83 -15 30 -4 45 -3 44 -1v-537l-35 2-50 4-46 5-54 7-50 8-42 8-42 9-33 9-25 8-25 9-25 11-17 10-16 12-13 12-12 15-8 12-8 17-7 16-9 34-9 46-4 50-1 50 2 50 3 25 4 20 5 21 5 13 10 21 12 15 9 8 8 6 21 10 25 9 33 7 38 5z"/><path fill="#0000ec" d="M641 873l53 3h29l25 -1 42 -5 91 -16 38 -6 37 -3h44v-529l-35 1-50 4-46 5-50 6-88 14-37 8-38 9-29 9-25 8-25 11-17 9-16 12-13 11-11 12-9 13-7 12-7 17-11 33-8 42-6 50-2 50 1 50 5 42 3 16 6 21 7 21 10 17 13 14 16 12 21 10 25 7 25 6z"/><path fill="#0000f1" d="M656 873l50 2 25 -1 25 -2 42 -5 76 -15 41 -6 41 -4h44v-522l-35 1-50 4-92 10-50 7-46 8-42 8-33 8-29 9-21 7-21 9-16 9-13 7-17 14-12 13-10 14-13 25-8 21-4 16-9 42-5 46-3 54 2 54 3 25 3 21 8 33 8 21 11 17 13 12 16 11 21 9 29 8 38 7z"/><path fill="#0000f6" d="M679 873h40l37 -2 38 -5 87 -18 34 -5 41 -4 44 -1v-514l-35 1-55 4-91 10-50 7-46 7-42 9-33 8-29 8-25 9-17 8-17 9-16 11-13 11-11 14-8 12-13 25-7 21-4 17-9 45-5 50-1 55 2 50 6 41 3 17 7 21 8 16 5 9 7 8 8 7 8 6 17 9 25 9 33 7 38 5z"/><path fill="#0000fa" d="M636 869l29 2 29 1h29l25 -2 46 -6 83 -17 42 -7 41 -4 40 -1v-507l-40 1-50 4-91 9-88 12-41 8-38 9-29 8-25 8-21 9-12 7-17 11-13 10-10 11-9 13-8 12-7 17-10 29-9 42-5 50-3 54 1 50 4 42 4 21 5 16 7 21 10 17 11 12 15 11 17 8 25 8 25 6z"/><path fill="#0000ff" d="M649 869l28 1 29 1 25 -1 25 -2 38 -6 86 -18 35 -6 41 -5 44 -1v-500l-40 1-54 3-91 9-88 13-71 14-29 7-25 9-21 8-16 8-13 8-14 11-11 11-10 14-7 12-6 13-12 33-8 42-6 46-3 54 1 50 4 42 3 20 5 21 8 21 7 13 12 13 16 13 21 10 25 7 29 6z"/><path fill="#0000ff" d="M666 869l44 1 46 -4 42 -6 75 -17 42 -8 41 -5 44 -1v-494l-85 4-92 8-92 12-41 8-38 8-46 13-21 8-20 10-17 11-12 10-12 13-8 12-7 13-6 12-7 21-4 17-8 41-6 50-2 54 2 55 5 41 4 17 5 17 7 16 5 9 6 8 9 8 8 7 17 9 21 7 33 8 33 4z"/><path fill="#0000ff" d="M627 865l29 2 34 1h29l29 -2 46 -7 84 -19 41 -8 41 -5h40v-488l-85 3-92 8-92 12-71 13-50 13-20 7-17 8-17 9-12 9-11 10-11 13-8 12-6 13-11 29-9 37-6 42-4 54v54l3 46 3 21 4 21 8 25 9 17 10 11 12 11 17 9 25 8 25 6z"/><path fill="#0008ff" d="M653 865l53 1 25 -1 25 -3 42 -7 77 -20 40 -8 41 -5 44 -1v-475l-90 3-87 6-92 11-37 6-38 7-29 7-21 6-21 8-16 8-13 7-12 9-12 11-10 13-5 8-9 17-7 21-5 16-8 42-6 46-2 54 1 50 3 42 4 21 5 20 6 17 11 17 13 13 17 10 20 8 30 7 33 5z"/><path fill="#0018ff" d="M643 860l30 2h29l25 -1 25 -3 25 -4 21 -4 79 -23 38 -8 41 -6 44 -2v-454l-90 2-83 5-96 10-71 11-45 10-17 5-21 8-17 9-12 8-13 11-9 12-8 12-6 13-6 17-5 16-9 42-5 46-4 54 1 54 4 46 3 21 5 16 8 21 8 13 11 10 12 8 21 9 21 5 33 6z"/><path fill="#0028ff" d="M629 856l31 2 34 1 29 -1 29 -3 21 -4 21 -5 83 -26 38 -9 41 -7 21 -2h23v-435l-90 1-87 4-92 8-37 5-38 6-46 10-33 11-17 8-12 9-8 7-11 12-12 21-5 12-7 21-8 38-6 41-4 54v59l3 50 6 33 5 17 8 16 10 13 12 9 17 8 21 7 33 6z"/><path fill="#0038ff" d="M614 852l34 3 42 1 33 -1 29 -4 21 -4 21 -5 83 -28 38 -10 41 -8 21 -2h23v-417h-94l-83 3-96 6-67 8-29 6-21 4-16 5-17 6-12 6-13 8-12 11-7 8-9 12-4 9-7 16-4 13-8 37-6 38-4 50-2 58 2 50 5 38 5 21 7 16 9 13 10 8 17 10 16 5 30 7z"/><path fill="#0048ff" d="M646 852l31 1h29l29 -3 25 -4 38 -9 79 -29 38 -11 20 -5 21 -3 21 -2 23 -1v-401l-94 -1-87 2-92 6-71 7-46 9-20 6-17 6-8 4-13 8-9 8-11 12-12 21-4 12-7 21-8 42-5 42-4 54v54l3 50 6 33 7 21 8 13 11 11 13 7 20 7 25 6 30 4z"/><path fill="#0058ff" d="M619 848l37 2h38l29 -1 29 -4 21 -5 21 -6 83 -32 38 -12 20 -5 21 -4 21 -2 23 -1v-385l-90 -2-79 1-91 4-71 6-46 6-21 5-17 5-16 7-9 4-12 9-10 10-6 8-7 13-9 21-8 33-8 50-5 54-1 58 2 50 5 38 4 17 7 16 9 13 10 8 17 8 21 5 25 5z"/><path fill="#0068ff" d="M657 848h28l30 -1 20 -2 25 -4 17 -5 21 -7 75 -31 42 -14 25 -6 20 -4 21 -2 19 -1v-370l-94 -4-75 1-96 2-70 6-46 6-21 5-17 5-16 7-9 5-8 7-11 11-8 13-4 8-9 25-8 37-8 59-4 58v54l3 46 6 33 6 17 8 13 12 10 13 6 21 7 25 4 33 4z"/><path fill="#0078ff" d="M618 844l38 2h42l33 -3 25 -4 21 -5 21 -8 75 -33 42 -15 20 -6 21 -4 21 -3 23 -1v-356l-90 -4-75 -1-95 1-71 5-42 5-21 3-16 5-17 6-13 6-8 6-9 8-7 8-7 13-8 21-9 33-7 46-5 54-2 62 1 50 5 38 3 17 5 12 9 13 10 8 13 7 21 6 25 5z"/><path fill="#0087ff" d="M654 844h36l29 -2 25 -3 21 -4 16 -6 21 -8 67 -31 41 -17 25 -7 21 -5 21 -3 23 -1v-342l-94 -6-71 -1h-95l-75 4-46 5-34 8-12 5-13 6-8 6-10 10-9 13-4 8-9 25-8 37-8 59-4 62v54l3 46 2 17 4 17 5 12 8 13 9 7 13 6 16 6 30 5 29 3z"/><path fill="#0097ff" d="M610 840l38 2h46l33 -3 29 -5 21 -6 21 -8 75 -37 37 -16 25 -7 21 -5 21 -3 23 -2v-329l-90 -6-75 -2-95 -1-75 3-25 2-25 4-21 4-13 3-12 5-9 5-8 6-8 8-7 8-5 9-8 21-8 33-8 50-4 54-3 67 2 50 4 33 4 17 6 12 6 8 8 7 13 6 16 5 25 5z"/><path fill="#00a7ff" d="M636 840h41l33 -1 25 -3 25 -5 17 -5 21 -9 71 -37 21 -10 20 -8 25 -8 21 -6 25 -4 19 -1v-315l-90 -7-66 -4-96 -1-75 1-50 4-21 4-17 4-20 8-11 7-9 8-6 8-5 9-6 12-4 13-8 37-7 50-4 59-2 58 1 46 5 37 5 17 7 12 6 6 13 8 16 6 21 4 29 4z"/><path fill="#00b7ff" d="M599 835l41 3h50l33 -2 33 -6 17 -5 21 -8 75 -42 21 -10 20 -9 25 -9 21 -5 25 -4 19 -2v-302l-90 -8-66 -4-96 -3-75 1-50 4-33 6-13 3-12 6-9 5-8 7-10 14-5 8-4 12-9 34-7 46-5 54-3 62v50l3 38 4 21 5 12 6 9 8 7 13 7 12 3 21 5z"/><path fill="#00c7ff" d="M616 835l40 2 42 -1 33 -3 25 -5 21 -7 17 -7 75 -44 21 -10 20 -10 25 -9 21 -5 25 -5 19 -1v-289l-15 -1-75 -9-62 -5-96 -4h-75l-46 3-37 5-13 4-12 4-13 8-7 6-7 8-5 9-8 21-8 33-8 50-5 58-2 67 1 50 4 33 5 17 4 8 7 8 8 6 13 5 17 4 25 4z"/><path fill="#00d7ff" d="M587 831l44 4h54l38 -2 17 -3 16 -4 17 -5 21 -9 75 -46 21 -12 20 -9 21 -8 25 -8 25 -5 19 -1v-276l-15 -1-70 -10-59 -5-96 -5-75 -1-50 2-20 2-21 3-17 5-8 3-9 4-8 7-5 5-6 9-8 16-8 29-7 42-6 50-4 58-1 50 2 46 3 25 3 13 6 12 6 7 8 6 13 5 17 4z"/><path fill="#01e7f5" d="M599 831l41 3 54 -1 33 -3 29 -5 21 -8 17 -8 75 -48 21 -12 20 -10 25 -10 21 -6 25 -5 19 -2v-263l-15 -1-70 -11-55 -5-95 -7-75 -2-55 2-37 4-17 4-12 4-9 5-8 6-10 13-4 8-5 12-9 34-7 46-5 54-3 66v50l3 38 2 12 4 13 5 9 8 8 13 6 12 4 21 4z"/><path fill="#0ef7e9" d="M616 831l49 1 41 -1 29 -3 25 -6 17 -7 17 -9 71 -47 20 -13 21 -11 25 -10 25 -9 25 -5 19 -2v-250l-15 -1-70 -12-55 -6-91 -8-79 -2h-50l-25 2-17 2-17 4-12 5-9 4-8 7-6 6-5 9-8 21-8 33-7 46-5 58-3 67v46l3 37 4 17 3 8 7 9 8 6 13 5 17 4 25 3z"/><path fill="#1bffdc" d="M583 827l44 3 58 1 38 -3 17 -3 16 -4 21 -8 17 -9 71 -50 20 -13 21 -11 25 -11 25 -9 25 -6 19 -2v-236l-15 -2-66 -12-50 -7-88 -9-75 -4h-58l-42 3-16 2-13 4-12 5-10 6-10 13-8 16-7 25-6 34-7 58-5 58-1 54 1 46 1 17 3 17 5 12 6 8 8 6 13 5 17 4z"/><path fill="#28ffcf" d="M593 827l47 3 58 -1 33 -4 17 -3 12 -4 17 -6 17 -10 71 -53 20 -13 21 -12 25 -12 25 -9 25 -6 19 -3v-222l-15 -1-66 -14-46 -7-88 -10-70 -5-63 -1-46 2-16 3-13 3-12 5-9 6-10 12-8 16-8 29-6 34-7 62-4 59-1 58 1 42 3 20 4 13 5 8 6 6 9 5 12 4 21 4z"/><path fill="#35ffc2" d="M608 827l44 1 50 -1 29 -3 17 -3 12 -4 17 -7 17 -10 71 -56 20 -14 21 -12 25 -12 25 -10 25 -7 19 -3v-207l-15 -2-66 -15-46 -8-88 -11-62 -5-67 -2-46 1-20 3-13 3-12 5-9 6-6 6-6 9-7 16-8 38-7 46-5 58-4 71v46l3 37 3 13 4 8 4 6 8 6 9 4 16 4 21 3z"/><path fill="#42ffb5" d="M575 823l48 4 67 -1 20 -1 21 -3 13 -2 16 -5 17 -7 16 -10 67 -55 25 -18 21 -13 25 -13 25 -10 25 -8 19 -3v-192l-15 -2-62 -16-46 -9-83 -12-63 -6-71 -4-29 1-21 1-20 2-13 3-12 5-9 6-5 5-6 9-7 16-6 25-6 38-6 54-4 54-2 50v46l4 33 3 13 5 8 9 7 9 4 12 3z"/><path fill="#4effa8" d="M584 823l47 3 63 -1 37 -4 17 -3 12 -4 13 -5 17 -11 16 -13 54 -47 21 -16 21 -14 25 -14 29 -13 25 -8 13 -3h6v-176l-15 -3-54 -16-46 -10-79 -14-54 -6-71 -5-33 -1h-25l-21 2-17 2-12 4-13 6-4 3-7 9-8 16-7 25-5 29-7 63-5 58-2 54 1 50 2 21 2 13 4 8 7 8 4 3 13 4 17 4z"/><path fill="#5bff9c" d="M596 823l44 2 62 -2 21 -2 17 -3 12 -3 13 -4 12 -6 16 -11 67 -62 21 -16 21 -14 25 -15 29 -14 29 -10 15 -3v-158l-10 -2-57 -19-43 -11-75 -14-59 -8-75 -6-58 -1-25 2-17 2-12 4-9 5-10 11-5 8-3 8-7 29-6 34-7 66-4 59-2 66 1 38 3 17 3 8 5 8 7 6 9 3 12 3z"/><path fill="#68ff8f" d="M614 823h51l45 -2 30 -4 12 -3 13 -4 12 -7 13 -9 66 -63 21 -18 25 -18 29 -17 29 -15 25 -10 9 -3h6v-139l-10 -2-50 -19-46 -14-67 -15-62 -10-75 -7-38 -2h-29l-21 1-21 3-12 4-9 5-5 5-7 9-7 16-7 34-6 41-6 63-5 75v50l3 37 2 9 3 8 6 7 9 4 12 4 17 2z"/><path fill="#75ff82" d="M572 819l30 2 29 1h50l29 -2 21 -3 21 -4 16 -7 13 -8 20 -17 55 -56 21 -18 17 -13 29 -19 33 -20 29 -14 9 -3h6v-117l-6 -1-9 -3-32 -15-20 -8-37 -13-56 -14-67 -12-33 -5-46 -4-38 -2h-29l-25 1-17 2-12 3-13 6-4 4-7 9-5 12-6 21-6 33-6 55-5 62-3 54v46l2 33 4 13 3 5 4 5 9 5 12 3z"/><path fill="#82ff75" d="M581 819l29 2h25l50 -1 30 -2 20 -3 17 -4 13 -4 12 -7 8 -6 13 -13 58 -61 34 -29 29 -22 37 -24 29 -17 9 -4 6 -1v-89l-6 -1-4 -2-29 -16-24 -13-32 -12-26 -9-27 -7-71 -16-29 -4-37 -4-46 -4-34 -1h-25l-20 2-13 2-12 5-8 6-4 5-7 12-5 17-7 37-6 50-6 75-3 54v50l1 21 2 9 2 8 6 8 10 6 8 2z"/><path fill="#8fff68" d="M593 819l47 1 45 -1 30 -2 33 -6 12 -4 13 -6 10 -7 9 -9 56 -62 33 -33 25 -20 58 -43 26 -21 4 -3 4 -2h2v-47h-2l-4 -2-25 -21-17 -12-14 -9-17 -8-20 -8-28 -10-33 -9-42 -10-29 -6-34 -5-50 -5-41 -2-29 -1-21 2-17 2-12 5-5 3-6 7-5 8-4 8-5 21-6 38-8 70-4 59-3 71 2 37 1 13 3 8 6 8 4 3 9 4 12 2z"/><path fill="#9cff5b" d="M612 819l69 -1 38 -2 16 -3 17 -4 13 -5 10 -6 10 -8 8 -9 47 -55 29 -31 25 -23 53 -45 20 -21 6 -8 4 -8 3 -13-2 -12-4 -9-5 -8-12 -13-15 -12-20 -13-16 -8-20 -8-24 -9-42 -12-35 -9-29 -5-37 -5-50 -4-38 -2h-25l-21 2-16 4-9 5-8 10-7 16-8 38-5 42-6 54-5 83-1 46 2 37 2 9 4 8 4 4 8 5 8 2 17 2z"/><path fill="#a8ff4e" d="M594 817l29 1 83 -2 21 -3 21 -4 12 -4 13 -7 10 -8 8 -9 44 -55 25 -29 25 -26 47 -44 18 -21 5 -8 4 -8 2 -13v-8l-2 -9-7 -12-10 -13-9 -8-18 -12-15 -9-23 -10-28 -11-34 -10-30 -8-25 -5-29 -4-46 -5-45 -4h-30l-20 1-17 3-8 4-9 8-7 12-5 17-6 33-6 42-4 50-6 79-1 46 2 41 1 9 4 8 7 6 5 2 8 2z"/><path fill="#b5ff42" d="M627 817l58 -1 25 -2 21 -2 17 -4 12 -4 13 -8 8 -6 11 -13 43 -57 21 -26 62 -67 16 -21 9 -16 2 -9v-8l-1 -8-2 -9-7 -12-11 -13-10 -8-19 -13-17 -8-19 -8-34 -13-26 -8-22 -6-25 -5-33 -4-46 -5-38 -2-25 -1-20 1-17 3-8 4-5 3-6 8-6 12-4 17-6 33-6 46-6 79-3 50-1 50 1 29 2 9 4 8 6 6 9 3 12 2z"/><path fill="#c2ff35" d="M586 815l45 1 59 -2 25 -1 20 -3 17 -4 13 -5 9 -7 16 -17 54 -74 21 -26 38 -46 10 -12 8 -13 7 -16 2 -9 1 -8-1 -8-3 -9-4 -8-5 -8-12 -13-11 -8-13 -9-16 -8-19 -8-32 -13-25 -8-21 -5-29 -5-38 -5-46 -5-33 -2h-25l-17 2-12 3-7 4-4 5-6 8-6 17-6 37-6 42-4 50-6 83-2 42 1 37 1 9 3 8 4 6 4 3 9 3 8 2z"/><path fill="#cfff28" d="M602 815h29l54 -1 38 -3 17 -3 16 -5 11 -5 10 -8 14 -17 53 -77 49 -65 11 -16 6 -13 5 -12 2 -9v-8l-1 -8-2 -9-4 -8-5 -8-7 -9-10 -8-11 -8-14 -9-17 -8-48 -20-21 -6-17 -4-29 -5-46 -5-37 -4-29 -2-25 1-17 1-8 3-9 5-7 11-6 17-6 37-6 46-5 46-5 83-2 46 1 37 2 9 4 8 5 5 5 1 16 4z"/><path fill="#dcff1b" d="M552 810l38 3 29 1 87 -3 21 -2 21 -4 12 -4 11 -7 8 -9 13 -16 43 -69 48 -69 14 -25 5 -12 2 -9v-16l-1 -9-3 -8-4 -8-6 -9-8 -8-11 -8-12 -9-14 -8-26 -12-20 -9-18 -6-16 -4-25 -5-38 -5-75 -7-25 -1-17 1-12 2-9 4-8 9-6 12-4 17-4 29-10 88-6 83-2 42v41l1 9 3 8 3 5 4 3 9 3z"/><path fill="#e9ff0e" d="M623 813l83 -3 21 -2 21 -4 12 -5 9 -5 12 -13 11 -16 39 -66 40 -64 15 -29 6 -21 1 -12-1 -8-2 -9-3 -8-5 -8-7 -9-9 -8-11 -8-27 -17-36 -17-15 -5-17 -4-29 -5-41 -6-38 -4-33 -2-25 -1-17 2-8 2-9 6-6 9-4 12-9 50-9 84-6 83-1 46v33l1 9 2 8 3 4 4 4 5 1 8 2z"/><path fill="#f5f701" d="M572 810l55 2 88 -3 20 -3 17 -4 13 -6 7 -6 10 -13 18 -29 58 -104 11 -21 7 -17 5 -21 1 -12-1 -8-3 -13-4 -8-6 -9-7 -8-10 -8-11 -9-27 -16-28 -13-12 -4-17 -4-29 -5-46 -6-37 -4-29 -2-21 -1-17 2-8 2-8 6-4 4-4 8-3 13-7 41-5 42-5 46-6 83-2 42v37l1 9 3 8 3 4 3 3 13 4z"/><path fill="#ffe800" d="M627 811l88 -3 20 -3 17 -4 8 -4 11 -7 9 -13 10 -17 48 -91 21 -42 9 -25 3 -12 1 -13-1 -12-2 -9-5 -12-6 -9-7 -8-8 -8-23 -17-21 -12-22 -10-25 -6-71 -11-62 -6-25 -1-17 1-8 2-8 6-3 4-4 8-4 13-6 37-5 46-5 46-6 83-2 42v41l3 13 6 7 9 2 8 2z"/><path fill="#ffda00" d="M610 810l92 -2 17 -2 21 -3 16 -5 9 -4 8 -9 6 -8 22 -42 43 -91 13 -34 3 -12 2 -13v-12l-2 -13-4 -12-4 -8-9 -13-8 -8-10 -9-17 -12-23 -13-12 -4-13 -4-37 -7-63 -8-41 -4-34 -1-12 2-4 1-4 3-6 6-6 12-3 17-5 33-9 79-7 88-2 42v41v9l2 8 4 4 2 2 9 3 8 1z"/><path fill="#ffcb00" d="M552 807l67 3 87 -4 17 -1 25 -5 12 -4 8 -6 7 -9 9 -16 24 -50 30 -71 7 -21 5 -17 3 -25v-12l-2 -13-5 -12-5 -9-13 -16-20 -17-20 -12-15 -7-21 -6-67 -10-66 -8-25 -1-17 1-8 2-6 4-3 4-6 12-8 46-10 88-6 87-3 46 1 42 2 8 3 4 2 2z"/><path fill="#ffbc00" d="M546 806l77 3 87 -4 38 -6 12 -4 7 -5 6 -9 9 -16 26 -59 25 -66 6 -21 4 -17 2 -25-1 -12-3 -13-5 -12-5 -9-6 -8-12 -13-15 -12-17 -10-16 -6-25 -6-71 -10-54 -6-21 -1-17 1-8 1-5 4-6 8-5 12-7 46-9 84-9 125v41l1 13 1 4 5 6z"/><path fill="#ffad00" d="M623 808l92 -4 29 -5 12 -3 9 -5 4 -6 7 -12 12 -25 25 -67 16 -50 5 -21 2 -16 1 -17-1 -12-2 -13-3 -8-6 -13-6 -8-11 -13-9 -8-12 -8-7 -4-20 -7-33 -7-58 -9-46 -5-33 -2h-13l-8 2-5 3-3 4-4 8-3 8-7 46-9 84-9 129-1 37 1 9 2 8 4 5 9 2z"/><path fill="#ff9e00" d="M627 807l88 -4 37 -7 8 -3 8 -8 7 -12 12 -29 12 -34 13 -37 8 -29 5 -21 4 -21 1 -17v-16l-2 -13-3 -12-4 -9-7 -12-10 -13-9 -8-12 -8-14 -7-25 -7-59 -9-50 -7-37 -3h-21l-8 1-8 7-5 12-2 9-6 41-5 42-11 129-3 42v41l2 13 4 5 13 3z"/><path fill="#ff9000" d="M535 802l9 3h8l63 1 91 -3 17 -2 29 -5 8 -4 7 -7 8 -16 12 -29 17 -55 13 -50 4 -20 2 -21 1 -17-1 -12-2 -13-3 -12-6 -13-6 -8-7 -9-8 -8-14 -10-8 -4-13 -3-33 -7-58 -9-46 -6-29 -2-17 1-4 1-7 6-4 8-3 8-6 42-9 83-4 50-6 84-1 37v9l2 8z"/><path fill="#ff8100" d="M536 802l8 2 8 1h67l91 -3 42 -7 8 -4 6 -6 4 -8 9 -21 9 -29 8 -25 14 -58 4 -21 3 -25v-29l-1 -13-2 -12-5 -13-4 -8-9 -13-8 -8-7 -5-8 -5-17 -6-33 -6-63 -10-41 -6-29 -2h-17l-4 1-7 6-3 8-3 8-7 46-8 84-8 87-2 42-2 41 3 13z"/><path fill="#ff7200" d="M552 804h17l50 1 91 -4 42 -7 8 -4 5 -5 6 -12 4 -13 11 -33 7 -25 12 -58 4 -25 3 -25v-29l-2 -13-2 -12-5 -13-7 -12-7 -9-8 -7-12 -7-21 -6-46 -8-62 -10-46 -5h-21l-4 1-6 5-5 12-1 4-7 46-8 84-8 87-3 42-1 41 2 13 3 4z"/><path fill="#ff6300" d="M552 804l17 -1 54 1 33 -2 54 -2 42 -7 4 -1 4 -2 4 -5 6 -12 9 -29 12 -46 11 -63 5 -45v-30l-2 -12-3 -13-5 -12-5 -8-6 -9-9 -8-12 -6-21 -6-104 -17-46 -5-21 -1-4 1-5 5-6 12-1 4-6 46-9 84-1 25-6 62-1 25-2 17v25l-2 16 2 13 3 3z"/><path fill="#ff5500" d="M552 803l17 -1 54 1 33 -2 54 -2 42 -6 4 -2 7 -6 4 -8 5 -17 9 -33 6 -25 11 -62 4 -50v-34l-4 -21-2 -8-7 -12-5 -9-7 -6-12 -7-21 -5-104 -18-46 -5-21 -1-4 1-5 4-5 12-1 4-6 46-9 84-2 29-5 58-1 25-2 13-1 29-1 12v9l1 8 3 3z"/><path fill="#ff4600" d="M552 803l17 -1h58l25 -2 58 -2 42 -6 4 -1 6 -6 8 -20 8 -34 5 -21 10 -66 4 -46 1 -33-2 -25-4 -13-3 -8-5 -9-7 -8-5 -4-7 -3-17 -5-108 -19-46 -6-21 -1-4 1-4 4-6 12v4l-4 30-2 16-7 67-2 17-2 29-2 16-1 25-3 17-1 25-2 17v25l-2 12 1 13 1 4 2 3z"/><path fill="#ff3700" d="M547 802l22 -1h58l25 -2 63 -2 37 -6 4 -1 6 -5 5 -16 9 -38 5 -25 10 -71 3 -62v-25l-5 -21-7 -17-3 -4-6 -6-8 -4-21 -5-104 -19-46 -6-21 -1h-4l-4 4-5 12-1 4-3 30-3 16-1 25-3 17-2 25-2 17-2 29-2 16-2 25-2 17-1 25-2 17-1 25-1 12 1 17 2 3z"/><path fill="#ff2800" d="M533 798l2 2 17 2 13 -2h62l25 -2 58 -1 42 -6 4 -1 5 -5 5 -16 9 -42 4 -21 8 -71 4 -66-1 -21-3 -21-7 -17-7 -8-8 -5-21 -5-104 -19-21 -3-46 -5-4 1-4 3-5 12v4l-3 30-3 16-2 25-2 17-2 25-2 17-2 29-2 12-2 29-2 17-1 25-3 17v25l-2 12z"/><path fill="#ff1a00" d="M533 798l2 2 17 1 13 -2 62 1 25 -3 58 -1 42 -6 4 -1 4 -4 4 -12 11 -58 9 -80 4 -70-1 -21-4 -21-5 -13-2 -4-5 -4-6 -3-21 -6-104 -19-21 -3-46 -5h-4l-3 3-5 12-1 4-2 30-3 16-2 25-3 17-1 25-2 12-2 34-2 12-2 29-3 17v25l-3 17v25l-3 12z"/><path fill="#f50b00" d="M534 798l1 2 17 1 13 -2h62l25 -3 58 -1 46 -6 4 -4 3 -12 10 -58 8 -75 4 -75-1 -21-3 -21-4 -13-3 -4-5 -4-4 -2-21 -5-125 -23-38 -4-8 -2h-4l-3 3-5 12-2 34-3 16-2 25-3 17-1 25-3 12-1 34-3 16-1 30-2 8-2 33-2 9-1 33-2 8z"/><path fill="#e30000" d="M534 798l1 2h17l13 -2h62l25 -3 58 -1h9l12 -3 25 -3 3 -3 12 -66 3 -50 4 -34 2 -45 2 -30-1 -20-2 -17-4 -13-6 -7-4 -2-21 -5-125 -23-17 -2-8 -2-13 -1-8 -2-4 1-2 2-2 7-3 5-2 34-3 12-2 29-3 13-1 29-3 12-1 34-3 12-2 34-2 8-1 33-3 9-1 33-2 8z"/><path fill="#d10000" d="M534 798l1 1 17 1 4 -1 9 -2h62h8l9 -2 8 -1 63 -1 12 -3 29 -2 3 -3 5 -41 4 -21 4 -58 3 -25 2 -53 2 -27v-20l-3 -21-2 -9-5 -6-4 -2-21 -5-54 -10-9 -2-12 -2-9 -2-12 -2-8 -2-13 -1-8 -3-17 -1-8 -2-13 -1-8 -2h-4l-2 2-2 8-3 4-2 34-3 12-1 29-3 13-1 29-3 12-1 34-3 12-2 34-2 8-2 33-2 9-1 33-2 8z"/><path fill="#bf0000" d="M534 798l1 1 17 1 8 -3h5h66l17 -4 67 -1h4l8 -3 29 -2 2 -2 5 -41 4 -21 3 -58 3 -25 1 -55 3 -25v-20l-2 -21-2 -9-4 -5-4 -2-13 -2-8 -3-34 -6-8 -2-12 -2-9 -2-12 -2-9 -2-12 -2-8 -2-13 -1-8 -3-17 -1-8 -3h-13l-8 -3h-4l-2 2-2 8-2 4-2 34-1 8-2 4-1 29-2 9-1 4-1 29-2 8-2 4-1 34-1 8-2 4-1 34-3 8-1 33-3 9v33l-3 8z"/><path fill="#ad0000" d="M535 798v1h17l4 -2 4 -1h71h4l5 -2 8 -2h71l8 -4 29 -1 2 -2 3 -41 3 -13 1 -8 2 -58 4 -25 1 -55 3 -20v-21l-1 -21-2 -13-4 -4-3 -2-13 -2-8 -3-13 -1-8 -3-13 -1-8 -3-12 -1-9 -3-12 -1-9 -3-12 -1-8 -3-13 -1-8 -3-17 -1-8 -3-17 -1-4 -2h-4l-1 1-2 8-3 4-1 38-3 8-2 33-3 9-1 33-3 8-1 38-3 8-1 34-3 8-1 33-1 4-2 5v33l-1 4-3 4z"/><path fill="#9b0000" d="M535 798l17 1 4 -3 9 -1h70l5 -2 8 -1 71 -1 4 -3 4 -1 29 -1 1 -1 2 -41 2 -9 2 -4v-4l2 -62 1 -9 2 -12 1 -63 4 -16-1 -46-1 -9-4 -4-2 -1-13 -2-8 -3-13 -1-8 -3-13 -1-8 -3-12 -1-9 -3-12 -1-9 -3-12 -1-4 -1-4 -2-13 -1-4 -1-4 -2-17 -1-4 -1-4 -2-17 -1-4 -3-5 1-1 8-3 4-1 38-1 4-3 4-1 33v5l-3 4-1 33-1 4-2 4-1 38-1 4-2 4-1 34-1 4-2 4-1 33-1 4-2 5-1 33v4l-3 4z"/><path fill="#890000" d="M535 798h17l4 -3h4l75 -1 5 -3h4l75 -1 4 -3 34 -2 1 -45 1 -5 3 -4 1 -75 1 -4 2 -4 1 -67 1 -8 3 -4v-4l-1 -55-4 -4-1 -1-17 -1-4 -3-17 -1-4 -3-17 -1-4 -3-17 -1-4 -3-16 -1-5 -3-16 -1-4 -4h-17l-4 -4h-21l-4 -4h-17l-4 -4-5 1v8l-4 4-1 42-3 4-1 38-3 4-1 33v4l-4 4v38v4l-4 4v38l-4 4v37l-4 5v37l-4 4z"/><polygon points="566.0,466.7 772.0,507.2 757.5,787.8 533.6,799.0" fill="#fff"/></g></svg>
<path class="tk" d="M48.5 696.4v4.6M48.5 696.4h-4.6"/>
<text class="t xt" x="48.5" y="719.6">0.0</text>
<text class="t yt" x="39.9" y="703.3">0.0</text>
<path class="tk" d="M105.7 696.4v4.6M48.5 639.2h-4.6"/>
<text class="t xt" x="105.7" y="719.6">0.2</text>
<text class="t yt" x="39.9" y="646.1">0.2</text>
<path class="tk" d="M162.9 696.4v4.6M48.5 582h-4.6"/>
<text class="t xt" x="162.9" y="719.6">0.4</text>
<text class="t yt" x="39.9" y="588.9">0.4</text>
<path class="tk" d="M220.1 696.4v4.6M48.5 524.8h-4.6"/>
<text class="t xt" x="220.1" y="719.6">0.6</text>
<text class="t yt" x="39.9" y="531.7">0.6</text>
<path class="tk" d="M277.3 696.4v4.6M48.5 467.6h-4.6"/>
<text class="t xt" x="277.3" y="719.6">0.8</text>
<text class="t yt" x="39.9" y="474.5">0.8</text>
<path class="tk" d="M334.5 696.4v4.6M48.5 410.4h-4.6"/>
<text class="t xt" x="334.5" y="719.6">1.0</text>
<text class="t yt" x="39.9" y="417.3">1.0</text>
<rect class="sp" x="48.5" y="410.4" width="286" height="286"/>
</g>
<g class="ax" id="ax5">
<rect x="399.5" y="410.4" width="286.1" height="286" fill="#00007f"/>
<svg x="399.5" y="410.4" width="286.1" height="286" viewBox="0 0 1000 1000" preserveAspectRatio="none"><use href="#fb"/></svg>
<path class="tk" d="M399.5 696.4v4.6M399.5 696.4h-4.6"/>
<text class="t xt" x="399.5" y="719.6">0.0</text>
<text class="t yt" x="390.9" y="703.3">0.0</text>
<path class="tk" d="M456.72 696.4v4.6M399.5 639.2h-4.6"/>
<text class="t xt" x="456.72" y="719.6">0.2</text>
<text class="t yt" x="390.9" y="646.1">0.2</text>
<path class="tk" d="M513.94 696.4v4.6M399.5 582h-4.6"/>
<text class="t xt" x="513.94" y="719.6">0.4</text>
<text class="t yt" x="390.9" y="588.9">0.4</text>
<path class="tk" d="M571.16 696.4v4.6M399.5 524.8h-4.6"/>
<text class="t xt" x="571.16" y="719.6">0.6</text>
<text class="t yt" x="390.9" y="531.7">0.6</text>
<path class="tk" d="M628.38 696.4v4.6M399.5 467.6h-4.6"/>
<text class="t xt" x="628.38" y="719.6">0.8</text>
<text class="t yt" x="390.9" y="474.5">0.8</text>
<path class="tk" d="M685.6 696.4v4.6M399.5 410.4h-4.6"/>
<text class="t xt" x="685.6" y="719.6">1.0</text>
<text class="t yt" x="390.9" y="417.3">1.0</text>
<rect class="sp" x="399.5" y="410.4" width="286.1" height="286"/>
</g>
<g class="ax" id="ax6">
<rect x="841.4" y="410.4" width="286.1" height="286" fill="#00007f"/>
<svg x="841.4" y="410.4" width="286.1" height="286" viewBox="0 0 1000 1000" preserveAspectRatio="none"><rect width="1000" height="1000" fill="#000086"/><path fill="#00008b" d="M0 1000h1000v-1000h-1000zM759 75l-3 -3 2 -6 1 -2 7 1 1 7z"/><path fill="#000090" d="M0 1000h1000v-1000h-1000zM741 99l-7 -7-2 -8-1 -25 5 -25 5 -10 6 -3 34 26 20 31 1 6-6 7-19 6-24 5zM872 192l-1 -8 2 -6 4 -6 7 -5 19 -5h6l9 4 1 6-21 12-14 11-6 1z"/><path fill="#000094" d="M0 1000h972l-2 -22 6 -37 2 -7 6 -4 16 -3v-927h-232l2 9 3 7 36 40 7 2h6l7 -5 5 -8 7 -4 6 -1 18 7 13 12 2 7-15 12-4 6-4 13 1 31 3 13 5 4 9 2h34l13 3 22 9 8 7 5 6 1 6-6 6-36 13-19 22-6 3-7 1-25 -7-25 -2-6 -3 1 -8 13 -19 2 -12-3 -6-13 -5-6 -5-3 -9-3 -24-7 -9-12 -4-19 2-11 4-20 12-6 2-13 -4-11 -10-10 -32-4 -7-13 -11-3 -7 16 -13 6 -9 14 -28 2 -9h-725zM316 936l-7 -4-6 -10-2 -13 2 -14 6 -8 7 -3 6 4 9 40-3 9-6 1zM791 260l-17 -7-8 -8-7 -3-12 -1-13 -4-6 -8-2 -7-3 -13v-6l2 -6 21 -19 4 -6 3 -14 6 -4 7 4 3 8-3 31v19l3 12 3 3 25 3 4 7-1 12-3 5z"/><path fill="#000099" d="M0 1000h954l-8 -34 3 -19-1 -31 4 -7 7 -1 25 5 16 1v-622l-9 -3-4 -5-2 -6v-6l5 -13 7 -4h3v-52l-9 1-25 9-25 -4-13 2-25 21-12 5-13 -1-25 -7-19 3-6 3-6 7-3 11v19l-2 6-8 6-6 2-19 -3-10 1-21 19-25 7-20 18-11 6-13 1-7 -7-1 -6 2 -6 6 -7 7 -3 25 -9 3 -6 1 -13-5 -12-12 -11-12 -7-13 1-19 13-12 5-19 -1-12 -3-5 -4-1 -6 9 -12 22 -11 18 -2 19 5 6 1 7 -2 6 -7 2 -9-10 -19-1 -13 9 -10 6 -1 13 -1 6 -3 2 -3v-7l-17 -18-14 -38-9 -13-12 -8-28 -10-37 -19-4 -4-3 -8 9 -41h-609zM78 735l-16 -7-2 -6 5 -6 12 -7 7 -1 7 2 4 6 1 6-2 6-7 6zM116 647l-6 -6-2 -7 2 -6 6 -3h6l8 3 5 6-1 7-6 6-6 1zM184 678l-7 -6 1 -13 6 -12 13 -19 2 -6v-13l-6 -12-15 -21-6 -6-19 -5-12 -8-8 -10-1 -6 2 -3 7 -1 10 4 21 17 6 2 31 -4 7 2 4 8 6 25 5 6 10 5 31 5 12 8 5 7-2 19-3 7-6 7-6 2h-13l-37 -8-8 4-11 20-10 5zM341 973l-32 -19-13 -13-7 -19-2 -25 3 -13 7 -9 17 -16 16 -18 9 -7 8 -1 6 2 4 6 3 6 2 12-3 13-12 19-1 6v12l10 32v12l-3 9-6 9zM253 386l-6 -7-1 -7 6 -50-3 -13-12 -18v-7l4 -2 6 2 13 13 21 12 4 7 2 6-2 25-7 20-12 15-7 3zM322 567l-7 -8-2 -12 3 -8 6 -3 8 5 4 6v6l-6 14zM334 449l-5 -2-6 -6-1 -7 7 -12 5 -4 7 -1 6 3 5 8 1 13-6 8zM790 197l7 3 2 -3 1 -6-3 -3-5 3zM953 145l13 -1 18 -6h16v-138h-112l-2 22 1 12 5 7 24 20 4 11v6l-4 9-7 3h-25l-6 2-5 5-2 6 1 13 6 9 6 5 12 4zM659 37h13l19 -7 12 -14 4 -16h-71l1 9 4 13 6 8zM801 9l21 -2 25 3 6 -2 5 -5v-3h-66v3z"/><path fill="#00009e" d="M0 1000h303l-1 -22-18 -29-7 -21-3 -25v-19l6 -12 23 -20 19 -25 12 -9 19 -3 6 2 7 8 6 19 4 22v12l-8 25v6l10 25 3 13-3 12-10 25-1 16h52l3 -12 6 -7 6 -1 7 2 6 5 5 13h481v-3l-10 -19v-12l5 -19 1 -13-10 -25 1 -6 5 -6 9 -5 19 -4 13 1 25 8 9 1v-592l-16 -3-31 -16-19 4-6 -1-4 -6 4 -7h13l12 3 6 -4 7 -17-4 -12-13 -13-8 -3-7 -1-6 2-25 15-12 4-19 -1-19 -5-12 1-5 7v6l5 19-2 6-5 7-37 29-13 4-43 5-57 31-6 1h-6l-6 -5-4 -9-3 -19 1 -12 6 -13 6 -4 20 -8 7 -7 2 -6-4 -6-6 -4-13 1-19 13-6 2-44 -3-12 1-10 2-9 6-5 7-8 19-5 6-7 3h-12l-7 -3-2 -6 7 -19 2 -25 4 -6 8 -5 19 -4 31 -24 47 -24 5 -6 7 -19 13 -25 4 -12 2 -19-1 -12-2 -7-6 -8-44 -23-44 -14-11 -5-7 -6 2 -6 10 -11 9 -14 3 -22h-60l1 9 7 19 16 25-3 6-9 7-14 1-15 -1-29 -8-14 -5-7 -6-1 -6 2 -7 24 -25 3 -9h-238l-1 22-5 9-6 3-13 -4-6 -5-6 -9-4 -16h-212v635h3l4 6-1 6-3 5h-3v2h3l19 10 9 8 10 12 12 7h13l18 -5h13l6 4 5 7 4 19-3 21-6 16-6 1-38 -6-18 1-8 4-4 6-7 26-8 6-14 1zM153 810l-12 -3-16 -10-10 -13-2 -6 2 -6 7 -1 50 11 6 2 7 7-1 6-6 6-12 5zM284 773l-10 -7-2 -7 6 -6 13 3 6 3 5 7-2 6-3 2zM478 210l-12 -6-7 -6-10 -20-2 -13 12 -4 32 1 9 4 6 6 4 6 1 13-4 12-10 7zM159 698l-9 -7-9 -16-7 -2-25 1-6 -3-8 -12-10 -25-7 -12-1 -13 7 -8 13 -1 37 9 25 10h7l5 -10-3 -12-9 -9-18 -11-25 -21-13 -3-25 10-6 1-6 -3-4 -8 2 -12 6 -13 8 -9 13 -7 12 -2 81 16 50 -13h13l25 7 25 -13 12 -3 13 3 39 21 3 6-11 32 1 25-2 12-9 13-28 12-6 9-8 22-7 7-16 6-31 3-6 3-13 17-6 5-44 1zM91 450l-6 -3-2 -6 1 -3 3 -4 22 -12 7 -5 18 -33 14 -18 2 -7-2 -6-11 -12-3 -7 2 -12 5 -11 12 -16 13 -7 12 -4 6 4 5 9 4 12 1 13-4 12-12 19-1 6 4 32-9 43-6 7-7 2h-25l-31 8zM297 480l-13 -7-31 -30-25 -10-6 -5-2 -6 1 -13 10 -37 4 -38-4 -12-20 -25-4 -13v-12l4 -6 9 -7 21 -9 6 2 19 23 12 11 13 3h25l3 2 2 6-2 6-10 15-6 16v15l6 9 7 -1 31 -11 12 -2 13 4 6 7 6 11 1 12-1 6-12 19-2 6-1 38-3 19-7 6-31 -1-25 10zM178 270l-6 -9-8 -20 1 -13 7 -3 6 1 6 6 8 15 3 12-2 7-2 2-7 4zM241 198l-7 -2-5 -5-2 -7 3 -6 11 -12 6 -4 6 -2 6 2 7 6 1 4-1 6-13 15-6 4zM367 159l-6 -6-3 -12v-19l4 -13 10 -15 12 -8h13l15 5 8 6 4 6 2 31 5 25-7 7-15 4h-12zM0 745l9 -1 7 -3 4 -7-1 -12-3 -6-7 -5-6 -1h-3zM289 591l8 -1 1 -6-1 -6-6 -6-7 -2-6 8 2 6zM929 128l12 2 8 -2 29 -20 13 -4h9v-104h-90l-1 28 3 6 18 19 4 6 2 13v12l-4 13-4 5-6 5-13 3-7 6 10 6zM667 16l5 1 6 -1 7 -7 2 -9h-29l2 9z"/><path fill="#0000a2" d="M0 1000h265l3 -34-1 -13-8 -26-10 -24 6 -31 4 -13 7 -10 6 -4 12 -2 13 -8 12 -19 3 -13-11 -6-35 -7-13 -6-4 -6-2 -6v-35l-1 -3-5 -2-13 1-12 5-13 9-4 6v6l18 25v7l-4 6-22 17-25 10h-25l-25 -8-7 -4-9 -9-17 -31-11 -6-6 -1-7 3-6 7-4 16-14 25-2 6 1 21-3 10-3 3-6 1-22 -5zM197 910l-6 -5-4 -8-2 -13 2 -12 3 -6 7 -5 12 -1 7 2 4 4 4 6 7 25-2 6-13 6-13 2zM382 1000h23l3 -28-5 -8-6 3-10 11-3 6zM470 1000h413l3 -22 15 -19 4 -12-2 -4-6 -4-10 2-15 8-6 1-7 -3-2 -6 1 -7 8 -20 6 -11 6 -4 19 -6 25 -14 31 -4 13 -4 7 -5 18 -23 9 -4v-452l-16 -2-5 -7 2 -6 3 -3 7 -4 9 -1v-48l-34 -6h-13l-12 3-13 7-6 1-13 -13-18 -26-7 -4-6 1-6 3-15 15-23 15-18 28-7 4-31 1-12 2-50 13-25 13-13 3h-6l-10 -4-11 -13-4 -12v-25l-3 -13-3 -6-13 -7-19 -1-12 4-9 10-7 19-9 9-13 3-12 1-25 -5-14 -8-4 -6 1 -6 6 -19 2 -25 5 -19 1 -6-3 -9-7 -4-18 -2-13 2-6 3-5 10 5 31-2 13-4 10-7 3-6 -1-14 -6-6 -6-1 -7 7 -31-8 -25 1 -25-4 -6-6 -3-31 1-19 -3-19 -9-14 -11-4 -6-2 -7 5 -62-4 -6-15 -7-4 -6v-19l2 -12 4 -6 7 -4 13 1 31 8 37 -2 7 3 3 12 9 4 4 -4-4 -18 4 -7 32 -25 3 -9h-202l1 9 5 19 1 13-3 6-7 6-9 4h-6l-13 -3-6 -4-16 -16-11 -18-2 -16h-199v615l16 3 18 10 7 1 6 -3 3 -10v-19l-8 -25v-13l8 -25 9 -16 13 -15 12 -7 13 -2 31 7 13 -2 7 -8 2 -13-1 -6-4 -6-11 -5-12 1-25 6-19 -1-10 -8-4 -12 2 -10 6 -9 31 -18 8 -13 2 -13-1 -6-10 -12-1 -7 2 -12 10 -25 34 -50 2 -6-1 -13-14 -30-6 -11-6 -4-13 -1-5 2-26 57-6 7-19 -1-20 -6-14 -13-2 -6 1 -6 6 -7 29 -8 16 -10 4 -7 1 -6-10 -25 2 -8 6 -6 19 -7h12l19 12 14 22 8 6 15 3 19 -2 13 -8 20 -18 45 -56 10 -7 6 -1 3 1 2 7-4 25 14 31-1 6-4 6-17 19-5 13 4 25 8 20 6 7 6 4h13l25 -17 19 -4 6 -4 12 -13 13 -4 6 2 4 9-4 14-13 17 1 8 6 9 23 8 4 6-10 13-4 12 2 13 13 25 4 31-2 6-11 16-5 9-3 25 4 19 18 31 3 19-4 12-23 32-2 6 4 25 1 19 5 18-3 13-13 25-3 12 2 7 6 8 31 6 10 4 4 7 1 6-2 6-13 12-12 8-6 -1-5 -19-8 -16-6 -5-6 -1-13 8-6 8-6 12v7l3 6 9 6 13 2 18 -1 6 5-2 25-9 25-1 13 3 19 9 37 2 38 6 18 5 11 6 6h19l13 6 23 27 4 7zM703 936l-6 -8v-6l6 -11 6 -3 13 -2 12 5 3 5-1 6-8 10-12 6h-7zM803 898l-9 -7-5 -7-2 -6 1 -6 3 -3 6 -1 9 4 17 12 2 7-3 6-6 4zM903 492l-2 -8 2 -1h6l3 8-3 3zM434 416l-6 -4-4 -3-2 -6 4 -6 8 -5 13 -2 8 7 1 6-3 7-6 4zM144 759l15 3 13 -2 8 -7-2 -6-4 -6-8 -7-13 -4-12 1-8 3-2 7v6l4 6zM302 734h7l6 -6 6 -31v-6l-3 -7-9 -3h-6l-37 8-7 3-3 5-2 12 1 7 4 6zM213 491l9 2h6l13 -3 12 -6 5 -6v-6l-3 -6-8 -8-13 -5-12 1-13 5-5 7-2 6 5 12zM203 382l6 -1 2 -3 2 -12-4 -7-7 7zM209 228l7 5 5 -5-1 -6-4 -3-7 2zM550 228l9 5 13 -1 49 -23 9 -6 5 -6 16 -38v-25l2 -18-1 -7-4 -6-14 -10-12 -6-13 -4-93 3-13 -3-25 -11-12 -2-14 2-5 6v13l4 12 8 15 15 16 29 12 9 7 7 13 9 35 4 8zM991 72l9 2v-74h-46l1 22 3 6 14 15 12 23zM559 6l7 2 3 -8h-11z"/><path fill="#0000a7" d="M0 1000h234v-3l-6 -44-2 -6-4 -6-13 -6-18 -6-10 -7-6 -13-7 -25-9 -10-37 -12-13 -2-12 6-13 17-6 2-12 -5h-7l-4 4-4 13 4 25-3 12-6 7-22 12-24 5zM527 1000h340l-1 -11-7 -9-28 -21-33 -37-14 -8h-6l-6 4-29 23-27 15-13 1-19 -7-10 -9-3 -13 5 -19 5 -12 10 -8 12 -3 25 -2 25 3 6 -2 4 -19 3 -7 7 -6 11 -4 13 2 25 12 12 2 38 -3 25 -8 31 10 19 1 12 -6 6 -6 19 -33 7 -4 9 -2v-407l-7 2-4 7v18l-1 7-4 6-31 23-7 8-2 19 10 31-1 6-6 8-13 4-14 -5-23 -25-17 -13-4 -6-3 -13 2 -12 3 -8 5 -5 20 -6 10 -6 7 -25 3 -6 27 -25 9 -25 4 -7 15 -8 22 -3v-19l-28 -3-13 2-5 6-7 15-6 4-13 2-12 -2-7 -3-6 -6-12 -19-7 -3-12 3-25 11-6 5-8 12-3 13 1 6 10 9 31 11 7 5 5 6 2 6-2 9-6 8-6 2-13 -2-18 -10-15 -13-28 -31-14 -7-6 1-25 7-37 4-38 10-12 -1-7 -3-14 -11-10 -13-3 -12-1 -25-3 -7-6 -4h-6l-9 5-4 6-4 19-4 6-8 6-9 2-50 -5-31 -6-25 -1-13 -5-18 -15-7 -3-12 2-10 6-3 6 1 7 12 17 12 8 25 3 7 3 9 12 3 13-8 19-11 11-12 5-31 2-7 2-6 5-4 12 2 13 18 25 9 25 1 12-2 6-17 25-4 13 3 12 19 30 4 14-2 6-7 7-21 12-5 6-5 13 2 6 5 6 29 13 10 12 3 13-2 12-19 19-8 13-21 56v12l5 19 7 13 26 25 20 43 29 43 13 12 6 3 25 -1 5 6zM859 592v-8l7 -2 8 2-2 7zM59 837l7 -1 2 -8-2 -8-8 2-1 6zM0 601l16 -1 7 -3 1 -6-1 -7-9 -18 2 -7 12 -11 6 -8 22 -43 2 -13-8 -31v-12l5 -13 25 -25 1 -6-12 -13-3 -6v-6l2 -6 19 -25 3 -13-2 -12-5 -7-9 -6-15 -8-31 -11-25 -12h-3zM105 278l4 5 7 -4 5 -7 3 -13-5 -6h-6l-6 6-3 13zM402 266l7 3 7 -5v-11l-7 -5-6 6zM283 247l8 5 6 -2 38 -28 4 -6 2 -7-4 -12-6 -6-9 -6h-13l-27 18-5 6-2 13 3 16zM13 209l9 3 12 1 7 -2 6 -5 3 -9-8 -25 2 -13 9 -9 38 -24 6 -1h12l35 16 9 8 11 23 8 5h6l11 -5 13 -13 3 -6v-12l-9 -25-1 -13 2 -6 14 -19v-12l-8 -13-25 -15-9 -10-4 -12 4 -16h-169v199h3zM548 191l11 5 7 -1 6 -3 6 -8-1 -12-14 -31-8 -25-8 -9-13 -1-12 4-5 6v6l14 25 10 35zM603 168l6 -1 7 -7v-19l13 -19 2 -6-1 -7-8 -7-13 -1-3 2-3 6 3 25-1 7-8 12-1 6zM295 147l8 6 6 -1 6 -5 3 -13-2 -7-7 -4-6 1-5 4-4 6-1 7zM989 41l8 6h3v-47h-30v9l4 13zM353 28l19 1 31 -8 23 -12 7 -6v-3h-143l1 4 18 3 19 12z"/><path fill="#0000ac" d="M0 1000h209v-3l-6 -15-11 -16-8 -7-6 -3h-6l-19 14-12 2-7 -6-6 -11-6 -3-6 -1-19 4-56 23-41 -4zM543 1000h306l-3 -9-6 -7-31 -21-18 -8-19 -2-19 3-12 4-25 16-13 -1-26 -9-11 -5-10 -8-25 -25-4 -6-1 -6 2 -7 21 -12 22 -25 13 -6 38 -11 25 -4 37 -13 13 -1 25 9 12 -1 7 -4 3 -7 1 -18 8 -4h13l12 4 50 32 13 4 6 -1 6 -4 6 -6 13 -29 6 -7 6 -3 16 -1v-157l-22 -4-7 -6-3 -6v-6l5 -6 11 -5 16 -1v-91l-16 2-6 4-18 22-13 10-13 4-18 -3-13 -9-16 -21-29 -19-3 -6-1 -6 6 -38-1 -12-11 -13-39 -25-12 -4h-19l-19 -5-50 -6-43 6-13 -5-25 -18-12 -4-38 6-6 -1-19 -10-12 -3-32 -4-9 5-3 6 4 19-2 12-32 56-8 6-12 4-5 9-1 19 4 31-5 44 3 19 7 25 1 12-4 13-6 7-25 15-2 3-1 6 7 6 14 8 9 11 8 19 4 18-4 13-17 12-9 13-13 56v6l7 13 32 19 5 6 9 50 7 14 25 27 6 3h19l6 2 6 4 7 12zM872 781l-6 -11-2 -23 2 -8 6 -5 6 -1 8 8 3 6 1 12-6 16-6 6zM891 723l-7 -4-11 -16-7 -24-2 -13 2 -8 6 -7 19 -9 6 -2 6 1 13 10 6 12 6 34v12l-3 7-9 6-13 2zM903 629l-6 -1-19 -11-25 -3-12 -6-6 -11v-6l6 -13 12 -14 6 -5 13 -3 12 2 13 9 11 17 5 19-4 19zM134 928l7 4h6l6 -3 3 -7 1 -13-2 -6-8 -7-19 1-7 6-1 6 3 7zM0 538l9 -1 13 -7 19 -32 2 -7v-13l-10 -37-1 -13 3 -6 13 -13 4 -6-1 -25 2 -12 14 -25 2 -7-1 -6-4 -6-11 -7-12 -1-8 2-8 6-15 19-10 3zM0 159h9l7 -3 10 -22 8 -6 25 -5 32 -17 31 -5 6 -2 6 -5 18 -35-2 -12-10 -31-2 -16h-138zM991 22l6 4h3v-26h-18l2 12zM350 16l9 1 13 -1 15 -7 6 -6v-3h-58v3l4 6z"/><path fill="#0000b0" d="M69 1000h30v-3l-4 -6-11 -4-10 4-5 6zM553 1000h145v-3l-4 -6-7 -7-28 -9-6 -4-19 -21-23 -22-16 -31-4 -6-13 -10-12 9-15 13-6 13v18l7 38zM736 1000h88v-3l-4 -6-17 -13-12 -4h-13l-19 2-12 5-9 10zM490 922l13 2 22 -8 17 -13 11 -18 11 -7 14 -1 11 -5 8 -1 9 1 16 7 12 1 7 -3 19 -18 49 -19 13 -3 19 2h12l30 -11 12 -6 6 -6 8 -30 7 -7 18 -5 7 -5 3 -10-1 -12-10 -31 9 -38v-19l4 -18-1 -7-18 -25-3 -12 3 -13 13 -25 4 -12-1 -6-11 -19-4 -13 4 -12 11 -19 4 -19-3 -12-12 -13-16 -9-13 -1-31 15-31 1-12 -6-15 -18-11 -6-12 1-25 10h-13l-11 -5-20 -17-19 -5-19 3-31 14-31 5-13 9-7 9-8 13-10 25-18 24-3 7 1 38-2 37 2 13 6 18 2 13-7 19-19 25-2 6 24 62 5 19 1 13-2 9-6 3-13 -2-6 1-6 6-3 8-2 18 1 13 5 12 8 7 22 8 6 8 2 9-4 25 1 12 6 13zM921 828l13 6h7l6 -3 6 -10 5 -24 4 -6 10 -2h28v-132l-41 4-6 3-7 8-2 12 2 13 19 25-2 6-20 19-2 6 2 19-1 6-26 8-7 5-4 6-2 6 4 13zM950 597l16 4 34 1v-66l-9 1-13 6-22 23-8 12-2 6 1 7zM16 486l6 -2 3 -6v-6l-3 -8-6 -6-16 -4v30zM0 392l22 2 10 -3 4 -7 1 -6v-12l-3 -8-6 -1-19 5-9 1zM53 99l13 -2 8 -6 17 -29 6 -5 19 -4 6 -5 3 -14-1 -34h-124v87z"/><path fill="#0000b5" d="M564 1000h49v-3l9 -5 7 -8v-12l-7 -12-38 -32-6 -1-7 7zM777 1000h3v-3h-3zM496 897l7 4 6 -1 7 -3 6 -7 11 -18 6 -6 11 -7 16 -5 25 -3 37 4 44 -14 37 -19h13l19 7 12 1 19 -5 12 -9 5 -7 4 -12 3 -25 5 -19 2 -25 17 -31 6 -19 1 -44-11 -25-1 -12 11 -31 3 -13-2 -12-8 -19-3 -13 2 -12 13 -25 2 -13-5 -12-6 -5-13 -4-31 13-37 1-18 -5-20 -15-6 -2-31 6-19 -2-38 -22-12 -4-13 2-31 15-25 7-12 8-12 13-17 44-5 19-1 62 2 13 5 18v19l-6 13-18 25-4 12 7 25 21 44 3 12-1 19-6 22-8 16-1 6 16 21 4 10 1 13-2 18zM980 772l20 4v-37l-16 5-10 9-2 6 2 7zM985 703l15 4v-33l-16 3-12 7-2 7 2 2 3 4zM974 591l10 3 16 1v-48l-16 4-10 8-5 7-3 12 1 6zM34 78l19 2 13 -7 9 -14 12 -25 15 -18 4 -16h-106v52l9 4 13 15z"/><path fill="#0000b9" d="M528 847l19 -1 44 -7 31 1 31 -3 19 -7 23 -14 14 -6 13 1 19 9 12 2 13 -2 13 -11 7 -18 5 -63 18 -37 4 -13-5 -25 3 -25-5 -25 2 -12 10 -25 1 -13-11 -37v-19l6 -25v-6l-4 -7-7 -1-31 3-38 -2-43 -15-19 1-25 -1-31 -11-19 -11-6 -1-13 3-44 18-12 7-10 10-7 19-3 31-7 25v13l6 31 1 38-2 12-4 13-22 31-2 12 6 22 19 28 5 13 1 19-7 37 3 19 4 8 13 13zM985 584l15 3v-30l-9 2-9 7-3 6 1 6zM38 66l9 1 6 -2 6 -5 5 -7 3 -12 1 -41h-68v42l9 1 7 4 12 13z"/><path fill="#0000be" d="M526 828l15 5 12 1 19 -1 25 -6 37 1 19 -1 13 -3 25 -15 18 -8 13 2 19 8 12 3 13 -3 6 -5 7 -15 4 -63 14 -44v-12l-6 -19v-6l6 -19 2 -31 11 -38-1 -12-9 -25-1 -38-3 -6-5 -4-57 -8-43 -13-50 -3-32 -7-18 -9-13 1-31 11-15 7-10 10-6 15 2 31-12 32 1 12 7 25-3 50-7 19-17 25-3 12 3 13 20 25 5 12 2 19-2 19-5 19-1 12 5 13 5 6zM41 47l5 -6-9 -25-2 -16h-35v33l22 4z"/><path fill="#0000c3" d="M541 822l18 3h13l31 -9 38 3h12l13 -4 37 -21 6 -1 13 2 31 12 11 -4 6 -6 3 -13v-25l2 -25 9 -50-5 -37 8 -19 4 -27 10 -42-2 -12-8 -19v-31l-2 -6-5 -7-12 -5-44 -8-37 -11-50 -3-32 -4-25 -7-18 1-13 4-12 6-9 9-5 12 7 31v7l-13 18-3 13 7 37-3 50-4 13-12 19-5 12 2 9 19 20 2 9-1 37-4 25-4 13v12l7 10 6 4zM0 23h3l13 -3 4 -4 2 -16h-22z"/><path fill="#0000c7" d="M550 816l22 1 25 -9 12 -2 44 4 13 -4 17 -9 20 -15h6l38 16 12 -1 6 -6 2 -13-1 -19 9 -62-4 -50 10 -25 10 -56-1 -13-7 -25 2 -25-2 -6-5 -6-25 -9-25 -5-44 -12-75 -4-25 -6-12 -1-19 4-9 8-5 12 7 25 1 13-1 6-15 19-2 6v12l6 25-1 50-3 13-8 12-3 13 3 12 10 19 2 13-8 62-4 19 2 6 7 6zM647 757l-9 -4-2 -6 5 -7 10 -6 27 1 12 6 4 6 1 6-3 6zM0 8h3l3 -8h-6z"/><path fill="#0000cc" d="M554 809l18 2 19 -9 18 -4 44 3 13 -4 9 -6 3 -7-4 -6-8 -3-32 2-12 -1-13 -5-13 -12-4 -12 1 -19-2 -6-13 -20-3 -11 3 -17 6 -6 7 -1h6l14 5 30 25 18 13 13 4 31 4 6 6 8 17 9 12 3 6v19l5 6 13 7h6l6 -6 1 -7-3 -25 9 -31 2 -19-5 -50 3 -12 8 -19 9 -50-1 -13-7 -25 3 -25-1 -6-5 -6-25 -10-63 -16-81 -3-31 -6-13 1-6 5-3 10 6 25 1 13-4 12-11 13-4 12 1 13 7 25-2 43-2 13-10 19v6l10 31 2 13-5 18-7 57v6l5 6z"/><path fill="#0000d1" d="M557 803l9 1 7 -1 22 -12 3 -7-23 -25-9 -17h-7l-12 18-5 24-1 7 3 6zM745 728l8 -1 6 -13v-23l-6 -11-6 -1-8 5-6 7-2 6 3 20 7 9zM673 691l11 5h7l20 -5 8 -7 9 -22 25 -17 13 -19 6 -21 4 -27-1 -12-8 -25v-13l3 -19-4 -6-19 -10-63 -17-31 -2-56 2-19 -5h-12l-5 7 9 25v13l-7 12-11 13-5 12v13l8 25 1 12-4 50-8 13-2 6 4 12 7 4 5 -10 7 -19 6 -6 7 -3h13l18 4 29 12z"/><path fill="#0000d5" d="M559 791l7 3 6 -1 3 -2v-7l-3 -2-6 -1-5 3zM684 668l7 1 3 -3 1 -7-2 -18 4 -7 6 -2h25l13 -2 12 -6 8 -8 5 -13 2 -12v-19l-2 -7-5 -6-13 -12-2 -6 1 -7 11 -18-2 -7-6 -6-9 -5-57 -17-31 -2-36 5-9 7-12 31-5 8-7 5-18 5-8 7-4 12 3 13 2 6 17 19 8 25 4 6 11 6 29 8 38 -3 6 5 5 15z"/><path fill="#0000da" d="M604 616l12 5h12l6 -2 7 -7 2 -9-1 -19 6 -43 1 -7 4 -4 31 5 32 -1 6 -3 6 -6 7 -9 1 -7-21 -12-31 -10h-31l-10 4-5 6-8 19-16 18-14 13-21 12-4 7 12 18 10 22zM722 603l12 6 13 -2 6 -5 5 -11 1 -7-2 -6-4 -5-25 -15-6 -1-6 4-8 11v6l3 13z"/><path fill="#0000df" d="M615 584l7 -6 2 -6-2 -10h-6l-6 4-3 6 2 8zM674 509l10 5h7l12 -5-2 -6-13 -6-10 -2-8 2-1 6z"/><path fill="#0000b4" d="M625 445h8v8h-8zM773 680h8v8h-8zM523 562h8v8h-8zM500 531h8v8h-8zM742 867h8v8h-8zM781 562h8v8h-8zM500 523h8v8h-8zM719 398h8v8h-8zM766 680h8v8h-8zM883 828h8v8h-8zM39 461h8v8h-8zM109 117h8v8h-8zM727 398h8v8h-8zM477 391h8v8h-8zM867 375h8v8h-8zM16 961h8v8h-8zM47 359h8v8h-8zM891 422h8v8h-8zM94 906h8v8h-8zM39 336h8v8h-8zM461 328h8v8h-8zM969 602h8v8h-8zM617 906h8v8h-8z"/><path fill="#0000cc" d="M523 797h8v8h-8zM500 555h8v8h-8zM586 445h8v8h-8zM508 727h8v8h-8z"/><path fill="#0000aa" d="M438 820h8v8h-8zM797 523h8v8h-8zM781 500h8v8h-8zM430 562h8v8h-8zM516 500h8v8h-8zM492 656h8v8h-8zM711 820h8v8h-8zM578 820h8v8h-8zM773 727h8v8h-8zM805 719h8v8h-8zM758 773h8v8h-8zM547 570h8v8h-8zM664 453h8v8h-8zM742 406h8v8h-8zM312 375h8v8h-8zM922 961h8v8h-8zM133 578h8v8h-8zM836 258h8v8h-8zM891 984h8v8h-8zM844 883h8v8h-8zM203 766h8v8h-8zM320 258h8v8h-8zM250 125h8v8h-8zM766 352h8v8h-8zM859 266h8v8h-8zM234 422h8v8h-8zM969 578h8v8h-8zM266 984h8v8h-8zM70 266h8v8h-8zM164 227h8v8h-8zM375 664h8v8h-8zM453 70h8v8h-8zM812 648h8v8h-8zM914 531h8v8h-8zM422 719h8v8h-8zM594 422h8v8h-8z"/><path fill="#0000ae" d="M852 500h8v8h-8zM719 492h8v8h-8zM766 727h8v8h-8zM797 578h8v8h-8zM602 836h8v8h-8zM789 492h8v8h-8zM930 633h8v8h-8zM812 477h8v8h-8zM617 445h8v8h-8zM508 594h8v8h-8zM914 734h8v8h-8zM891 688h8v8h-8zM234 86h8v8h-8zM672 0h8v8h-8zM391 633h8v8h-8zM367 641h8v8h-8zM727 375h8v8h-8zM148 812h8v8h-8zM258 805h8v8h-8zM141 727h8v8h-8zM375 672h8v8h-8zM62 164h8v8h-8z"/><path fill="#0000ad" d="M523 781h8v8h-8zM430 641h8v8h-8zM516 906h8v8h-8zM438 469h8v8h-8zM633 461h8v8h-8zM508 773h8v8h-8zM859 648h8v8h-8zM766 664h8v8h-8zM758 766h8v8h-8zM812 539h8v8h-8zM430 609h8v8h-8zM719 461h8v8h-8zM883 656h8v8h-8zM594 336h8v8h-8zM516 648h8v8h-8zM523 742h8v8h-8zM555 945h8v8h-8zM586 414h8v8h-8zM398 562h8v8h-8zM805 539h8v8h-8zM117 320h8v8h-8zM359 305h8v8h-8zM977 570h8v8h-8zM500 258h8v8h-8zM445 953h8v8h-8zM844 867h8v8h-8zM383 430h8v8h-8zM914 977h8v8h-8zM359 94h8v8h-8zM820 938h8v8h-8zM516 570h8v8h-8zM750 359h8v8h-8zM133 484h8v8h-8zM633 125h8v8h-8z"/><path fill="#0028ff" d="M680 469h8v8h-8z"/><path fill="#0000bd" d="M664 477h8v8h-8zM508 398h8v8h-8zM539 539h8v8h-8zM492 633h8v8h-8zM805 742h8v8h-8zM695 812h8v8h-8zM539 656h8v8h-8zM695 828h8v8h-8zM469 773h8v8h-8zM62 992h8v8h-8zM922 570h8v8h-8z"/><path fill="#0000fa" d="M766 812h8v8h-8zM758 750h8v8h-8z"/><path fill="#0000ab" d="M516 492h8v8h-8zM812 695h8v8h-8zM812 508h8v8h-8zM539 547h8v8h-8zM781 406h8v8h-8zM773 594h8v8h-8zM719 453h8v8h-8zM570 438h8v8h-8zM773 602h8v8h-8zM602 820h8v8h-8zM812 500h8v8h-8zM625 867h8v8h-8zM398 594h8v8h-8zM891 508h8v8h-8zM539 797h8v8h-8zM797 617h8v8h-8zM39 781h8v8h-8zM492 742h8v8h-8zM375 719h8v8h-8zM148 500h8v8h-8zM188 883h8v8h-8zM594 102h8v8h-8zM422 914h8v8h-8zM445 234h8v8h-8zM891 938h8v8h-8zM594 961h8v8h-8zM391 500h8v8h-8zM945 266h8v8h-8zM422 633h8v8h-8z"/><path fill="#0000f7" d="M617 898h8v8h-8zM750 500h8v8h-8z"/><path fill="#0000b5" d="M539 625h8v8h-8zM508 672h8v8h-8zM500 383h8v8h-8zM820 586h8v8h-8zM523 617h8v8h-8zM594 812h8v8h-8zM547 484h8v8h-8zM508 969h8v8h-8zM516 719h8v8h-8zM859 336h8v8h-8zM961 484h8v8h-8zM23 0h8v8h-8zM938 852h8v8h-8zM8 953h8v8h-8zM117 977h8v8h-8zM62 812h8v8h-8zM281 8h8v8h-8z"/><path fill="#0000f2" d="M500 781h8v8h-8z"/><path fill="#0000a9" d="M836 336h8v8h-8zM805 602h8v8h-8zM602 344h8v8h-8zM750 805h8v8h-8zM688 406h8v8h-8zM781 664h8v8h-8zM547 883h8v8h-8zM477 867h8v8h-8zM547 500h8v8h-8zM805 641h8v8h-8zM492 703h8v8h-8zM758 500h8v8h-8zM281 578h8v8h-8zM820 523h8v8h-8zM758 352h8v8h-8zM562 258h8v8h-8zM859 891h8v8h-8zM156 609h8v8h-8zM656 109h8v8h-8zM8 758h8v8h-8zM47 773h8v8h-8z"/><path fill="#0000c0" d="M508 414h8v8h-8zM664 875h8v8h-8zM758 422h8v8h-8zM844 555h8v8h-8zM539 430h8v8h-8zM703 438h8v8h-8zM500 484h8v8h-8zM773 828h8v8h-8zM78 0h8v8h-8zM500 906h8v8h-8z"/><path fill="#0000db" d="M695 484h8v8h-8zM773 484h8v8h-8zM539 812h8v8h-8zM734 469h8v8h-8z"/><path fill="#0000b9" d="M523 789h8v8h-8zM781 750h8v8h-8zM648 469h8v8h-8zM812 609h8v8h-8zM859 438h8v8h-8zM820 742h8v8h-8zM594 469h8v8h-8zM453 586h8v8h-8zM680 477h8v8h-8zM961 539h8v8h-8zM977 789h8v8h-8zM961 805h8v8h-8zM594 805h8v8h-8zM586 367h8v8h-8zM531 555h8v8h-8zM883 727h8v8h-8zM875 727h8v8h-8zM31 383h8v8h-8zM516 398h8v8h-8zM828 617h8v8h-8zM70 328h8v8h-8z"/><path fill="#0035ff" d="M547 562h8v8h-8z"/><path fill="#0000f0" d="M539 555h8v8h-8zM500 633h8v8h-8zM781 703h8v8h-8z"/><path fill="#0000a5" d="M852 797h8v8h-8zM531 812h8v8h-8zM562 812h8v8h-8zM438 492h8v8h-8zM867 633h8v8h-8zM578 828h8v8h-8zM773 695h8v8h-8zM828 711h8v8h-8zM633 430h8v8h-8zM594 453h8v8h-8zM758 781h8v8h-8zM414 820h8v8h-8zM805 398h8v8h-8zM789 781h8v8h-8zM656 430h8v8h-8zM62 102h8v8h-8zM227 664h8v8h-8zM555 883h8v8h-8zM797 875h8v8h-8zM484 55h8v8h-8zM8 469h8v8h-8z"/><path fill="#0000a3" d="M789 797h8v8h-8zM789 812h8v8h-8zM500 430h8v8h-8zM453 344h8v8h-8zM672 906h8v8h-8zM477 773h8v8h-8zM750 789h8v8h-8zM688 820h8v8h-8zM703 797h8v8h-8zM727 445h8v8h-8zM820 805h8v8h-8zM758 367h8v8h-8zM664 805h8v8h-8zM688 391h8v8h-8zM242 602h8v8h-8zM16 695h8v8h-8zM484 625h8v8h-8zM508 172h8v8h-8zM31 742h8v8h-8zM898 758h8v8h-8zM398 172h8v8h-8zM156 781h8v8h-8zM820 242h8v8h-8zM711 148h8v8h-8zM86 609h8v8h-8zM219 188h8v8h-8zM406 133h8v8h-8zM836 562h8v8h-8zM883 16h8v8h-8z"/><path fill="#0000f4" d="M531 625h8v8h-8zM516 586h8v8h-8z"/><path fill="#0055ff" d="M531 750h8v8h-8z"/><path fill="#0000dd" d="M477 477h8v8h-8zM508 562h8v8h-8zM539 477h8v8h-8zM797 664h8v8h-8zM789 508h8v8h-8z"/><path fill="#0000a4" d="M875 828h8v8h-8zM531 734h8v8h-8zM656 430h8v8h-8zM453 727h8v8h-8zM836 570h8v8h-8zM711 859h8v8h-8zM766 859h8v8h-8zM625 328h8v8h-8zM586 797h8v8h-8zM539 422h8v8h-8zM523 703h8v8h-8zM703 812h8v8h-8zM945 812h8v8h-8zM305 641h8v8h-8zM500 31h8v8h-8zM469 625h8v8h-8zM750 305h8v8h-8zM344 633h8v8h-8zM844 273h8v8h-8zM484 438h8v8h-8zM727 836h8v8h-8zM297 562h8v8h-8z"/><path fill="#0000a7" d="M539 875h8v8h-8zM797 672h8v8h-8zM898 875h8v8h-8zM812 711h8v8h-8zM758 914h8v8h-8zM703 828h8v8h-8zM766 695h8v8h-8zM500 406h8v8h-8zM734 438h8v8h-8zM766 758h8v8h-8zM484 859h8v8h-8zM766 445h8v8h-8zM86 734h8v8h-8zM336 164h8v8h-8zM984 703h8v8h-8zM688 266h8v8h-8zM578 969h8v8h-8zM23 469h8v8h-8zM367 883h8v8h-8zM656 227h8v8h-8zM70 453h8v8h-8zM703 250h8v8h-8zM586 273h8v8h-8zM500 453h8v8h-8zM898 94h8v8h-8zM281 867h8v8h-8zM312 672h8v8h-8zM977 711h8v8h-8zM492 734h8v8h-8zM688 23h8v8h-8zM820 719h8v8h-8zM703 172h8v8h-8zM258 406h8v8h-8z"/><path fill="#0000ac" d="M766 734h8v8h-8zM891 758h8v8h-8zM562 461h8v8h-8zM773 508h8v8h-8zM562 844h8v8h-8zM492 758h8v8h-8zM664 461h8v8h-8zM641 469h8v8h-8zM453 891h8v8h-8zM984 766h8v8h-8zM984 742h8v8h-8zM805 578h8v8h-8zM391 969h8v8h-8zM578 62h8v8h-8zM0 258h8v8h-8zM398 953h8v8h-8zM336 727h8v8h-8zM828 406h8v8h-8zM953 273h8v8h-8zM812 617h8v8h-8zM852 586h8v8h-8zM992 320h8v8h-8zM547 16h8v8h-8zM273 102h8v8h-8zM562 211h8v8h-8zM820 344h8v8h-8zM375 203h8v8h-8zM477 977h8v8h-8zM875 273h8v8h-8z"/><path fill="#00009e" d="M336 641h8v8h-8zM242 703h8v8h-8zM336 781h8v8h-8zM953 641h8v8h-8zM453 891h8v8h-8zM109 945h8v8h-8zM883 211h8v8h-8zM94 883h8v8h-8zM312 906h8v8h-8zM633 23h8v8h-8z"/><path fill="#0000d6" d="M727 789h8v8h-8zM516 758h8v8h-8zM539 570h8v8h-8zM523 516h8v8h-8zM641 461h8v8h-8z"/><path fill="#0048ff" d="M773 555h8v8h-8z"/><path fill="#0000c8" d="M508 469h8v8h-8zM469 766h8v8h-8zM578 453h8v8h-8zM781 461h8v8h-8zM523 445h8v8h-8zM523 836h8v8h-8z"/><path fill="#0000bb" d="M531 688h8v8h-8zM648 828h8v8h-8zM594 406h8v8h-8zM969 680h8v8h-8zM609 906h8v8h-8zM992 0h8v8h-8zM539 883h8v8h-8zM117 984h8v8h-8zM805 750h8v8h-8zM570 883h8v8h-8z"/><path fill="#00009a" d="M539 328h8v8h-8zM914 898h8v8h-8zM258 633h8v8h-8zM47 398h8v8h-8zM977 8h8v8h-8zM47 875h8v8h-8zM172 969h8v8h-8zM891 62h8v8h-8zM656 883h8v8h-8zM109 242h8v8h-8zM859 586h8v8h-8zM984 820h8v8h-8z"/><path fill="#0000a2" d="M430 625h8v8h-8zM508 344h8v8h-8zM406 555h8v8h-8zM766 750h8v8h-8zM844 859h8v8h-8zM859 500h8v8h-8zM852 516h8v8h-8zM133 391h8v8h-8zM977 242h8v8h-8zM789 195h8v8h-8zM453 578h8v8h-8zM898 0h8v8h-8zM805 0h8v8h-8zM133 31h8v8h-8zM86 602h8v8h-8zM258 641h8v8h-8zM688 31h8v8h-8zM953 227h8v8h-8zM492 188h8v8h-8zM555 930h8v8h-8zM734 828h8v8h-8zM883 62h8v8h-8zM406 86h8v8h-8zM344 852h8v8h-8zM398 164h8v8h-8zM812 969h8v8h-8zM625 0h8v8h-8zM617 953h8v8h-8z"/><path fill="#0000c3" d="M508 633h8v8h-8zM516 469h8v8h-8zM688 477h8v8h-8zM984 562h8v8h-8zM789 992h8v8h-8z"/><path fill="#0000be" d="M492 500h8v8h-8zM586 438h8v8h-8zM562 422h8v8h-8zM469 758h8v8h-8zM477 414h8v8h-8zM789 711h8v8h-8zM453 688h8v8h-8zM516 438h8v8h-8zM992 656h8v8h-8zM625 992h8v8h-8z"/><path fill="#0000d2" d="M570 836h8v8h-8zM570 805h8v8h-8zM773 672h8v8h-8zM508 648h8v8h-8zM555 398h8v8h-8zM555 805h8v8h-8zM805 773h8v8h-8zM766 773h8v8h-8zM758 492h8v8h-8zM547 531h8v8h-8z"/><path fill="#0000a0" d="M508 250h8v8h-8zM828 500h8v8h-8zM703 891h8v8h-8zM391 688h8v8h-8zM781 734h8v8h-8zM250 727h8v8h-8zM836 859h8v8h-8zM938 148h8v8h-8zM844 828h8v8h-8zM695 78h8v8h-8zM750 945h8v8h-8zM711 305h8v8h-8zM906 609h8v8h-8zM688 320h8v8h-8zM195 992h8v8h-8zM23 297h8v8h-8zM273 352h8v8h-8zM875 820h8v8h-8zM8 406h8v8h-8zM164 55h8v8h-8zM805 422h8v8h-8z"/><path fill="#0000ec" d="M711 453h8v8h-8zM750 484h8v8h-8z"/><path fill="#0000ff" d="M484 523h8v8h-8zM781 547h8v8h-8zM727 461h8v8h-8zM773 516h8v8h-8zM781 773h8v8h-8zM484 781h8v8h-8zM508 680h8v8h-8zM523 453h8v8h-8zM523 820h8v8h-8zM508 820h8v8h-8zM773 469h8v8h-8zM539 648h8v8h-8zM539 578h8v8h-8zM727 477h8v8h-8zM781 688h8v8h-8zM789 500h8v8h-8z"/><path fill="#0000a6" d="M469 625h8v8h-8zM438 602h8v8h-8zM648 438h8v8h-8zM531 391h8v8h-8zM828 625h8v8h-8zM703 414h8v8h-8zM406 750h8v8h-8zM672 852h8v8h-8zM703 469h8v8h-8zM820 664h8v8h-8zM672 812h8v8h-8zM602 875h8v8h-8zM812 359h8v8h-8zM898 633h8v8h-8zM703 836h8v8h-8zM617 391h8v8h-8zM375 922h8v8h-8zM47 70h8v8h-8zM492 633h8v8h-8zM281 570h8v8h-8zM352 328h8v8h-8zM703 414h8v8h-8zM203 680h8v8h-8zM289 625h8v8h-8zM273 898h8v8h-8zM297 539h8v8h-8zM328 758h8v8h-8zM320 273h8v8h-8zM750 289h8v8h-8z"/><path fill="#0063ff" d="M781 586h8v8h-8z"/><path fill="#0000a8" d="M805 781h8v8h-8zM633 883h8v8h-8zM797 609h8v8h-8zM734 430h8v8h-8zM812 758h8v8h-8zM672 16h8v8h-8zM47 266h8v8h-8zM273 734h8v8h-8zM273 758h8v8h-8zM367 164h8v8h-8zM477 875h8v8h-8zM969 219h8v8h-8zM203 727h8v8h-8zM641 102h8v8h-8zM523 336h8v8h-8zM734 320h8v8h-8zM461 672h8v8h-8zM352 500h8v8h-8zM102 156h8v8h-8zM281 750h8v8h-8zM586 984h8v8h-8zM289 836h8v8h-8zM8 797h8v8h-8zM375 477h8v8h-8z"/><path fill="#0000d8" d="M789 562h8v8h-8zM766 641h8v8h-8z"/><path fill="#0000a1" d="M805 766h8v8h-8zM859 508h8v8h-8zM656 312h8v8h-8zM695 844h8v8h-8zM711 797h8v8h-8zM852 602h8v8h-8zM734 844h8v8h-8zM922 461h8v8h-8zM750 961h8v8h-8zM859 547h8v8h-8zM820 62h8v8h-8zM852 555h8v8h-8zM336 820h8v8h-8zM930 609h8v8h-8zM656 391h8v8h-8zM930 633h8v8h-8zM453 852h8v8h-8zM547 391h8v8h-8zM94 438h8v8h-8z"/><path fill="#0000af" d="M656 406h8v8h-8zM789 531h8v8h-8zM609 844h8v8h-8zM797 352h8v8h-8zM492 742h8v8h-8zM523 680h8v8h-8zM578 391h8v8h-8zM680 445h8v8h-8zM773 617h8v8h-8zM805 516h8v8h-8zM945 453h8v8h-8zM141 156h8v8h-8zM492 148h8v8h-8zM211 141h8v8h-8zM414 922h8v8h-8zM633 922h8v8h-8zM594 219h8v8h-8zM945 78h8v8h-8zM305 125h8v8h-8zM477 320h8v8h-8zM398 688h8v8h-8zM500 609h8v8h-8zM125 219h8v8h-8zM133 820h8v8h-8zM789 922h8v8h-8zM70 203h8v8h-8zM609 180h8v8h-8zM531 344h8v8h-8z"/><path fill="#0000df" d="M758 477h8v8h-8zM789 602h8v8h-8z"/><path fill="#0000b2" d="M445 508h8v8h-8zM625 805h8v8h-8zM453 430h8v8h-8zM523 602h8v8h-8zM531 570h8v8h-8zM531 461h8v8h-8zM773 430h8v8h-8zM594 820h8v8h-8zM938 336h8v8h-8zM250 953h8v8h-8zM383 273h8v8h-8zM898 555h8v8h-8zM39 312h8v8h-8zM898 656h8v8h-8zM125 844h8v8h-8zM305 180h8v8h-8zM695 883h8v8h-8zM820 930h8v8h-8zM391 445h8v8h-8z"/><path fill="#0000b3" d="M469 500h8v8h-8zM586 453h8v8h-8zM500 664h8v8h-8zM445 492h8v8h-8zM484 750h8v8h-8zM711 852h8v8h-8zM547 414h8v8h-8zM781 992h8v8h-8zM422 445h8v8h-8zM570 375h8v8h-8zM234 812h8v8h-8zM898 750h8v8h-8zM320 133h8v8h-8zM484 102h8v8h-8zM844 484h8v8h-8zM141 70h8v8h-8z"/><path fill="#008fff" d="M547 523h8v8h-8z"/><path fill="#0000d3" d="M492 602h8v8h-8zM547 820h8v8h-8zM820 648h8v8h-8zM773 602h8v8h-8z"/><path fill="#0000b1" d="M945 680h8v8h-8zM531 680h8v8h-8zM508 531h8v8h-8zM695 414h8v8h-8zM773 578h8v8h-8zM852 641h8v8h-8zM805 562h8v8h-8zM539 469h8v8h-8zM773 570h8v8h-8zM242 781h8v8h-8zM703 969h8v8h-8zM109 477h8v8h-8zM594 430h8v8h-8zM203 172h8v8h-8zM297 55h8v8h-8zM883 969h8v8h-8zM508 680h8v8h-8zM242 984h8v8h-8zM109 820h8v8h-8zM31 430h8v8h-8z"/><path fill="#0000de" d="M523 625h8v8h-8zM539 453h8v8h-8zM781 695h8v8h-8z"/><path fill="#0000c6" d="M477 828h8v8h-8zM750 461h8v8h-8zM531 609h8v8h-8zM445 766h8v8h-8zM781 766h8v8h-8zM758 805h8v8h-8z"/><path fill="#0000b7" d="M523 664h8v8h-8zM414 852h8v8h-8zM602 469h8v8h-8zM859 727h8v8h-8zM469 438h8v8h-8zM789 484h8v8h-8zM438 820h8v8h-8zM500 406h8v8h-8zM891 570h8v8h-8zM828 977h8v8h-8zM891 734h8v8h-8zM469 867h8v8h-8z"/><path fill="#0000bf" d="M484 812h8v8h-8zM820 727h8v8h-8zM492 664h8v8h-8zM766 469h8v8h-8zM484 578h8v8h-8zM633 852h8v8h-8zM695 469h8v8h-8zM688 992h8v8h-8zM477 734h8v8h-8zM750 828h8v8h-8zM539 578h8v8h-8z"/><path fill="#0000d0" d="M727 469h8v8h-8z"/><path fill="#003eff" d="M516 445h8v8h-8z"/><path fill="#0002ff" d="M727 492h8v8h-8z"/><path fill="#0000fb" d="M531 758h8v8h-8zM500 820h8v8h-8zM609 445h8v8h-8z"/><path fill="#0000e8" d="M430 719h8v8h-8zM805 555h8v8h-8zM531 719h8v8h-8zM531 797h8v8h-8z"/><path fill="#0000d1" d="M516 797h8v8h-8zM523 500h8v8h-8z"/><path fill="#0000f5" d="M562 836h8v8h-8z"/><path fill="#0000cd" d="M562 805h8v8h-8zM516 727h8v8h-8zM773 719h8v8h-8zM516 656h8v8h-8zM766 656h8v8h-8zM773 656h8v8h-8zM836 469h8v8h-8zM789 500h8v8h-8zM719 461h8v8h-8z"/><path fill="#000eff" d="M523 750h8v8h-8zM812 742h8v8h-8z"/><path fill="#0000c4" d="M742 805h8v8h-8zM477 508h8v8h-8zM820 555h8v8h-8zM797 453h8v8h-8zM656 820h8v8h-8zM508 758h8v8h-8z"/><path fill="#0000fc" d="M773 766h8v8h-8zM703 789h8v8h-8zM609 461h8v8h-8z"/><path fill="#0000e5" d="M656 805h8v8h-8zM648 805h8v8h-8zM578 812h8v8h-8zM500 727h8v8h-8z"/><path fill="#0000c7" d="M656 820h8v8h-8zM820 508h8v8h-8zM508 539h8v8h-8zM500 633h8v8h-8zM773 750h8v8h-8zM547 844h8v8h-8z"/><path fill="#0000ef" d="M734 492h8v8h-8zM766 789h8v8h-8z"/><path fill="#0000b6" d="M672 461h8v8h-8zM766 500h8v8h-8zM523 852h8v8h-8zM594 445h8v8h-8zM516 531h8v8h-8zM852 523h8v8h-8zM328 16h8v8h-8zM461 945h8v8h-8zM430 516h8v8h-8zM281 0h8v8h-8zM852 609h8v8h-8zM0 305h8v8h-8zM422 883h8v8h-8zM719 852h8v8h-8z"/><path fill="#0000c2" d="M789 773h8v8h-8zM562 445h8v8h-8zM789 609h8v8h-8zM508 898h8v8h-8zM555 805h8v8h-8zM477 500h8v8h-8zM492 906h8v8h-8zM508 500h8v8h-8zM633 469h8v8h-8z"/><path fill="#0000fe" d="M789 805h8v8h-8z"/><path fill="#0000e4" d="M734 453h8v8h-8zM516 477h8v8h-8zM531 656h8v8h-8z"/><path fill="#00009d" d="M562 312h8v8h-8zM852 484h8v8h-8zM102 992h8v8h-8zM898 695h8v8h-8zM125 23h8v8h-8zM820 23h8v8h-8zM484 961h8v8h-8zM0 148h8v8h-8z"/><path fill="#0000b0" d="M617 328h8v8h-8zM516 539h8v8h-8zM531 516h8v8h-8zM703 461h8v8h-8zM859 656h8v8h-8zM766 805h8v8h-8zM445 414h8v8h-8zM297 727h8v8h-8zM195 812h8v8h-8zM398 672h8v8h-8zM47 141h8v8h-8zM258 852h8v8h-8zM117 820h8v8h-8zM336 195h8v8h-8zM891 289h8v8h-8zM789 586h8v8h-8z"/><path fill="#0000ce" d="M492 773h8v8h-8zM766 742h8v8h-8zM609 797h8v8h-8zM523 539h8v8h-8zM703 805h8v8h-8zM562 820h8v8h-8zM727 789h8v8h-8zM547 828h8v8h-8z"/><path fill="#0000cb" d="M805 570h8v8h-8zM781 711h8v8h-8zM734 805h8v8h-8zM39 47h8v8h-8zM531 453h8v8h-8zM539 508h8v8h-8z"/><path fill="#0029ff" d="M539 656h8v8h-8zM812 617h8v8h-8z"/><path fill="#0000ba" d="M531 773h8v8h-8zM508 828h8v8h-8zM539 609h8v8h-8zM812 484h8v8h-8zM844 641h8v8h-8zM523 719h8v8h-8zM531 781h8v8h-8zM477 547h8v8h-8zM461 641h8v8h-8zM469 906h8v8h-8zM484 750h8v8h-8z"/><path fill="#005dff" d="M500 758h8v8h-8z"/><path fill="#00009f" d="M398 766h8v8h-8zM438 734h8v8h-8zM391 695h8v8h-8zM688 805h8v8h-8zM477 625h8v8h-8zM94 102h8v8h-8zM305 539h8v8h-8zM820 430h8v8h-8zM789 266h8v8h-8zM172 664h8v8h-8zM227 16h8v8h-8zM281 445h8v8h-8zM305 891h8v8h-8zM102 891h8v8h-8zM867 86h8v8h-8zM898 219h8v8h-8z"/><path fill="#0000e2" d="M797 445h8v8h-8zM531 711h8v8h-8zM805 508h8v8h-8zM656 461h8v8h-8z"/><path fill="#0000da" d="M781 602h8v8h-8zM766 633h8v8h-8z"/><path fill="#0024ff" d="M492 820h8v8h-8z"/><path fill="#0000c5" d="M633 812h8v8h-8zM594 984h8v8h-8zM734 484h8v8h-8zM641 820h8v8h-8zM750 500h8v8h-8z"/><path fill="#0000bc" d="M703 430h8v8h-8zM500 547h8v8h-8zM820 836h8v8h-8zM734 992h8v8h-8zM516 914h8v8h-8zM555 422h8v8h-8zM742 961h8v8h-8zM547 414h8v8h-8zM672 414h8v8h-8zM0 47h8v8h-8zM586 805h8v8h-8z"/><path fill="#0000cf" d="M555 469h8v8h-8zM906 680h8v8h-8zM789 695h8v8h-8zM531 602h8v8h-8z"/><path fill="#0000e0" d="M617 820h8v8h-8z"/><path fill="#0000c1" d="M422 766h8v8h-8zM867 586h8v8h-8zM578 414h8v8h-8zM641 820h8v8h-8zM781 758h8v8h-8zM828 875h8v8h-8zM70 55h8v8h-8zM531 680h8v8h-8z"/><path fill="#000095" d="M719 297h8v8h-8zM812 312h8v8h-8zM383 875h8v8h-8zM727 78h8v8h-8zM688 953h8v8h-8zM289 125h8v8h-8zM758 883h8v8h-8zM383 453h8v8h-8zM547 8h8v8h-8zM484 312h8v8h-8zM664 102h8v8h-8zM180 852h8v8h-8zM242 86h8v8h-8zM430 719h8v8h-8zM828 391h8v8h-8zM391 648h8v8h-8zM438 891h8v8h-8zM31 609h8v8h-8zM508 86h8v8h-8z"/><path fill="#0000c9" d="M516 633h8v8h-8zM625 875h8v8h-8zM703 453h8v8h-8zM508 625h8v8h-8z"/><path fill="#0000eb" d="M781 539h8v8h-8zM789 703h8v8h-8zM570 445h8v8h-8z"/><path fill="#0000f3" d="M539 562h8v8h-8z"/><path fill="#0000f6" d="M516 703h8v8h-8z"/><path fill="#0000f9" d="M523 828h8v8h-8zM625 461h8v8h-8z"/><path fill="#0000dc" d="M641 438h8v8h-8z"/><path fill="#00009b" d="M406 719h8v8h-8zM922 648h8v8h-8zM852 164h8v8h-8zM422 641h8v8h-8zM828 906h8v8h-8zM539 352h8v8h-8zM711 875h8v8h-8zM39 859h8v8h-8zM625 336h8v8h-8zM453 750h8v8h-8zM414 461h8v8h-8zM750 242h8v8h-8zM570 102h8v8h-8zM70 930h8v8h-8zM445 711h8v8h-8z"/><path fill="#0000d7" d="M531 531h8v8h-8zM633 805h8v8h-8zM492 477h8v8h-8z"/><path fill="#0000d4" d="M516 812h8v8h-8zM656 469h8v8h-8zM672 453h8v8h-8zM500 594h8v8h-8zM586 812h8v8h-8zM711 484h8v8h-8zM672 477h8v8h-8z"/><path fill="#006dff" d="M531 641h8v8h-8z"/><path fill="#0000ee" d="M656 453h8v8h-8zM539 492h8v8h-8zM477 625h8v8h-8z"/><path fill="#0000d5" d="M805 680h8v8h-8zM508 477h8v8h-8z"/><path fill="#001fff" d="M773 500h8v8h-8z"/><path fill="#0070ff" d="M570 461h8v8h-8z"/><path fill="#0009ff" d="M789 688h8v8h-8zM812 680h8v8h-8z"/><path fill="#0000f8" d="M648 445h8v8h-8z"/><path fill="#0000e7" d="M695 797h8v8h-8z"/><path fill="#001eff" d="M594 828h8v8h-8z"/><path fill="#0000e6" d="M500 852h8v8h-8z"/><path fill="#000099" d="M297 633h8v8h-8zM320 164h8v8h-8zM859 859h8v8h-8zM852 203h8v8h-8zM586 86h8v8h-8zM742 16h8v8h-8zM555 383h8v8h-8zM961 477h8v8h-8zM453 938h8v8h-8zM773 367h8v8h-8zM516 992h8v8h-8z"/><path fill="#0000ea" d="M781 719h8v8h-8z"/><path fill="#0071ff" d="M742 789h8v8h-8z"/><path fill="#0010ff" d="M773 641h8v8h-8z"/><path fill="#000dff" d="M531 555h8v8h-8z"/><path fill="#0014ff" d="M797 555h8v8h-8z"/><path fill="#0000e3" d="M773 664h8v8h-8z"/><path fill="#0000d9" d="M484 742h8v8h-8zM469 742h8v8h-8z"/><path fill="#0000ca" d="M609 805h8v8h-8zM531 523h8v8h-8zM711 789h8v8h-8zM773 734h8v8h-8zM609 812h8v8h-8zM586 828h8v8h-8zM680 812h8v8h-8zM789 602h8v8h-8z"/><path fill="#0000fd" d="M766 492h8v8h-8z"/><path fill="#002dff" d="M539 805h8v8h-8z"/><path fill="#0000f1" d="M617 438h8v8h-8z"/><path fill="#0000ed" d="M773 492h8v8h-8z"/><path fill="#0023ff" d="M773 711h8v8h-8z"/><path fill="#0046ff" d="M570 453h8v8h-8z"/><path fill="#0006ff" d="M523 688h8v8h-8z"/><path fill="#0013ff" d="M547 453h8v8h-8z"/><path fill="#003cff" d="M742 484h8v8h-8z"/><path fill="#008cff" d="M742 492h8v8h-8z"/><path fill="#00008a" d="M227 375h8v8h-8zM977 133h8v8h-8zM852 31h8v8h-8zM953 180h8v8h-8zM969 172h8v8h-8zM188 555h8v8h-8zM867 8h8v8h-8zM875 219h8v8h-8zM312 531h8v8h-8z"/><path fill="#00008f" d="M227 516h8v8h-8zM891 891h8v8h-8zM664 31h8v8h-8zM477 156h8v8h-8zM273 172h8v8h-8zM375 344h8v8h-8zM219 680h8v8h-8zM148 805h8v8h-8zM164 234h8v8h-8zM656 125h8v8h-8zM367 531h8v8h-8zM828 273h8v8h-8zM250 688h8v8h-8z"/><path fill="#000092" d="M383 508h8v8h-8zM117 234h8v8h-8zM336 750h8v8h-8zM953 391h8v8h-8zM86 586h8v8h-8zM656 148h8v8h-8zM0 641h8v8h-8zM703 273h8v8h-8zM148 359h8v8h-8zM219 734h8v8h-8zM203 859h8v8h-8zM508 195h8v8h-8zM78 133h8v8h-8zM789 859h8v8h-8zM78 430h8v8h-8zM383 750h8v8h-8z"/><path fill="#00008c" d="M211 578h8v8h-8zM164 547h8v8h-8zM508 31h8v8h-8zM250 648h8v8h-8zM695 125h8v8h-8zM555 328h8v8h-8zM781 180h8v8h-8z"/><path fill="#000083" d="M719 94h8v8h-8zM711 55h8v8h-8zM977 930h8v8h-8z"/><path fill="#000091" d="M414 125h8v8h-8zM305 805h8v8h-8zM39 688h8v8h-8zM656 289h8v8h-8zM789 875h8v8h-8zM164 742h8v8h-8zM203 789h8v8h-8zM500 39h8v8h-8zM289 289h8v8h-8zM203 445h8v8h-8zM969 406h8v8h-8zM570 0h8v8h-8zM414 523h8v8h-8zM234 125h8v8h-8zM836 250h8v8h-8zM672 281h8v8h-8zM195 242h8v8h-8zM938 531h8v8h-8z"/><path fill="#000097" d="M406 539h8v8h-8zM703 914h8v8h-8zM148 469h8v8h-8zM469 117h8v8h-8zM906 250h8v8h-8zM297 789h8v8h-8zM430 195h8v8h-8zM867 484h8v8h-8zM891 492h8v8h-8zM656 914h8v8h-8zM328 766h8v8h-8zM953 375h8v8h-8zM344 500h8v8h-8zM492 281h8v8h-8zM242 62h8v8h-8z"/><path fill="#000088" d="M742 172h8v8h-8zM359 844h8v8h-8zM219 602h8v8h-8z"/><path fill="#00008d" d="M680 273h8v8h-8zM211 16h8v8h-8zM180 227h8v8h-8zM227 648h8v8h-8zM117 414h8v8h-8zM570 320h8v8h-8zM102 539h8v8h-8zM156 555h8v8h-8zM23 750h8v8h-8zM31 672h8v8h-8zM359 859h8v8h-8zM31 711h8v8h-8zM359 484h8v8h-8zM695 344h8v8h-8zM922 141h8v8h-8zM305 844h8v8h-8zM23 766h8v8h-8zM938 55h8v8h-8zM734 156h8v8h-8z"/><path fill="#000094" d="M938 477h8v8h-8zM94 242h8v8h-8zM930 70h8v8h-8zM945 312h8v8h-8zM867 398h8v8h-8zM805 367h8v8h-8zM234 766h8v8h-8zM812 922h8v8h-8zM148 445h8v8h-8zM406 734h8v8h-8zM266 39h8v8h-8zM391 586h8v8h-8zM0 219h8v8h-8z"/><path fill="#000086" d="M680 188h8v8h-8zM766 258h8v8h-8zM109 648h8v8h-8z"/><path fill="#000093" d="M562 227h8v8h-8zM625 164h8v8h-8zM281 945h8v8h-8zM844 266h8v8h-8zM148 289h8v8h-8zM0 789h8v8h-8zM523 344h8v8h-8zM930 406h8v8h-8zM70 445h8v8h-8zM55 445h8v8h-8zM406 180h8v8h-8zM930 453h8v8h-8z"/><path fill="#0000b8" d="M461 586h8v8h-8zM8 477h8v8h-8zM633 375h8v8h-8zM492 969h8v8h-8zM430 500h8v8h-8zM23 430h8v8h-8z"/><path fill="#000096" d="M562 31h8v8h-8zM430 953h8v8h-8zM531 211h8v8h-8zM477 406h8v8h-8zM398 758h8v8h-8zM367 172h8v8h-8zM414 16h8v8h-8zM539 188h8v8h-8zM55 289h8v8h-8zM31 148h8v8h-8zM8 234h8v8h-8zM891 883h8v8h-8zM984 461h8v8h-8z"/><path fill="#00009c" d="M953 969h8v8h-8zM109 930h8v8h-8zM148 992h8v8h-8zM484 86h8v8h-8zM328 219h8v8h-8zM227 992h8v8h-8zM867 789h8v8h-8zM23 289h8v8h-8zM16 562h8v8h-8zM266 359h8v8h-8zM984 172h8v8h-8zM594 336h8v8h-8zM664 414h8v8h-8zM617 23h8v8h-8zM453 727h8v8h-8zM867 867h8v8h-8z"/><path fill="#000084" d="M797 55h8v8h-8zM805 62h8v8h-8zM875 70h8v8h-8zM336 844h8v8h-8z"/><path fill="#000080" d="M727 109h8v8h-8zM797 62h8v8h-8zM820 125h8v8h-8z"/><path fill="#000098" d="M227 875h8v8h-8zM117 211h8v8h-8zM305 906h8v8h-8zM773 859h8v8h-8zM938 508h8v8h-8zM281 789h8v8h-8zM242 133h8v8h-8zM984 31h8v8h-8zM883 820h8v8h-8zM0 547h8v8h-8zM273 188h8v8h-8zM875 188h8v8h-8zM828 305h8v8h-8zM211 383h8v8h-8z"/><path fill="#00008b" d="M172 508h8v8h-8zM586 281h8v8h-8zM914 992h8v8h-8zM336 977h8v8h-8zM281 906h8v8h-8zM930 891h8v8h-8zM711 273h8v8h-8zM328 594h8v8h-8z"/><path fill="#000085" d="M266 648h8v8h-8zM977 914h8v8h-8z"/><path fill="#000090" d="M336 773h8v8h-8zM102 703h8v8h-8zM938 102h8v8h-8zM898 898h8v8h-8zM828 258h8v8h-8zM430 266h8v8h-8zM219 289h8v8h-8zM602 281h8v8h-8z"/><path fill="#000089" d="M672 336h8v8h-8zM734 141h8v8h-8zM156 539h8v8h-8z"/><path fill="#00008e" d="M148 719h8v8h-8zM828 234h8v8h-8zM242 359h8v8h-8zM109 406h8v8h-8zM109 547h8v8h-8z"/><path fill="#000081" d="M820 203h8v8h-8zM734 47h8v8h-8z"/><path fill="#000087" d="M750 180h8v8h-8zM805 156h8v8h-8zM695 102h8v8h-8z"/><path fill="#000082" d="M891 203h8v8h-8zM914 188h8v8h-8z"/><rect x="556" y="457" width="10" height="10" fill="#00d0ff"/><rect x="560" y="461" width="6" height="6" fill="#70ff90"/><rect x="523" y="798" width="10" height="10" fill="#00c0ff"/><rect x="526" y="798" width="7" height="7" fill="#ff9000"/><rect x="525" y="802" width="4" height="4" fill="#e03000"/><rect x="772" y="502" width="8" height="8" fill="#0090ff"/><rect x="757" y="788" width="8" height="8" fill="#00a0ff"/><polygon points="566.0,466.7 772.0,507.2 757.5,787.8 533.6,799.0" fill="#fff"/></svg>
<path class="tk" d="M841.4 696.4v4.6M841.4 696.4h-4.6"/>
<text class="t xt" x="841.4" y="719.6">0.0</text>
<text class="t yt" x="832.8" y="703.3">0.0</text>
<path class="tk" d="M898.62 696.4v4.6M841.4 639.2h-4.6"/>
<text class="t xt" x="898.62" y="719.6">0.2</text>
<text class="t yt" x="832.8" y="646.1">0.2</text>
<path class="tk" d="M955.84 696.4v4.6M841.4 582h-4.6"/>
<text class="t xt" x="955.84" y="719.6">0.4</text>
<text class="t yt" x="832.8" y="588.9">0.4</text>
<path class="tk" d="M1013.06 696.4v4.6M841.4 524.8h-4.6"/>
<text class="t xt" x="1013.06" y="719.6">0.6</text>
<text class="t yt" x="832.8" y="531.7">0.6</text>
<path class="tk" d="M1070.28 696.4v4.6M841.4 467.6h-4.6"/>
<text class="t xt" x="1070.28" y="719.6">0.8</text>
<text class="t yt" x="832.8" y="474.5">0.8</text>
<path class="tk" d="M1127.5 696.4v4.6M841.4 410.4h-4.6"/>
<text class="t xt" x="1127.5" y="719.6">1.0</text>
<text class="t yt" x="832.8" y="417.3">1.0</text>
<rect class="sp" x="841.4" y="410.4" width="286.1" height="286"/>
</g>
<g class="cb" id="cb2">
<rect x="701.3" y="48.5" width="14.2" height="285" fill="url(#jet)"/>
<path class="tk" d="M715.5 333.5h4.6"/>
<text class="t ct" x="724.3" y="341.2">0.0</text>
<path class="tk" d="M715.5 276.5h4.6"/>
<text class="t ct" x="724.3" y="284.2">0.2</text>
<path class="tk" d="M715.5 219.5h4.6"/>
<text class="t ct" x="724.3" y="227.2">0.4</text>
<path class="tk" d="M715.5 162.5h4.6"/>
<text class="t ct" x="724.3" y="170.2">0.6</text>
<path class="tk" d="M715.5 105.5h4.6"/>
<text class="t ct" x="724.3" y="113.2">0.8</text>
<path class="tk" d="M715.5 48.5h4.6"/>
<text class="t ct" x="724.3" y="56.2">1.0</text>
<rect class="sp" x="701.3" y="48.5" width="14.2" height="285"/>
</g>
<g class="cb" id="cb5">
<rect x="702.4" y="410.4" width="14.4" height="286" fill="url(#jet)"/>
<path class="tk" d="M716.8 696.4h4.6"/>
<text class="t ct" x="725.6" y="703.3">0.0</text>
<path class="tk" d="M716.8 639.2h4.6"/>
<text class="t ct" x="725.6" y="646.1">0.2</text>
<path class="tk" d="M716.8 582h4.6"/>
<text class="t ct" x="725.6" y="588.9">0.4</text>
<path class="tk" d="M716.8 524.8h4.6"/>
<text class="t ct" x="725.6" y="531.7">0.6</text>
<path class="tk" d="M716.8 467.6h4.6"/>
<text class="t ct" x="725.6" y="474.5">0.8</text>
<path class="tk" d="M716.8 410.4h4.6"/>
<text class="t ct" x="725.6" y="417.3">1.0</text>
<rect class="sp" x="702.4" y="410.4" width="14.4" height="286"/>
</g>
<g class="cb" id="cb3">
<rect x="1149.3" y="50.1" width="14.4" height="285.1" fill="url(#jet)"/>
<path class="tk" d="M1163.7 335.2h4.6"/>
<text class="t ct c5" x="1172.5" y="342.1">0.000</text>
<path class="tk" d="M1163.7 263.93h4.6"/>
<text class="t ct c5" x="1172.5" y="270.82">0.005</text>
<path class="tk" d="M1163.7 192.65h4.6"/>
<text class="t ct c5" x="1172.5" y="199.55">0.010</text>
<path class="tk" d="M1163.7 121.38h4.6"/>
<text class="t ct c5" x="1172.5" y="128.28">0.015</text>
<path class="tk" d="M1163.7 50.1h4.6"/>
<text class="t ct c5" x="1172.5" y="57">0.020</text>
<rect class="sp" x="1149.3" y="50.1" width="14.4" height="285.1"/>
</g>
<g class="cb" id="cb6">
<rect x="1149.3" y="410.4" width="14.4" height="286" fill="url(#jet)"/>
<path class="tk" d="M1163.7 696.4h4.6"/>
<text class="t ct c5" x="1172.5" y="703.3">0.000</text>
<path class="tk" d="M1163.7 624.9h4.6"/>
<text class="t ct c5" x="1172.5" y="631.8">0.005</text>
<path class="tk" d="M1163.7 553.4h4.6"/>
<text class="t ct c5" x="1172.5" y="560.3">0.010</text>
<path class="tk" d="M1163.7 481.9h4.6"/>
<text class="t ct c5" x="1172.5" y="488.8">0.015</text>
<path class="tk" d="M1163.7 410.4h4.6"/>
<text class="t ct c5" x="1172.5" y="417.3">0.020</text>
<rect class="sp" x="1149.3" y="410.4" width="14.4" height="286"/>
</g>
<text class="ti" x="192.6" y="39">Network prediction</text>
<text class="ti" x="543.2" y="39">Numerical simulation</text>
<text class="ti" x="989.6" y="39">Relative error</text>
<text class="lb" x="564.2" y="387.8">(a)</text>
<text class="lb" x="564.8" y="757.2">(b)</text>
</svg></body></html>
